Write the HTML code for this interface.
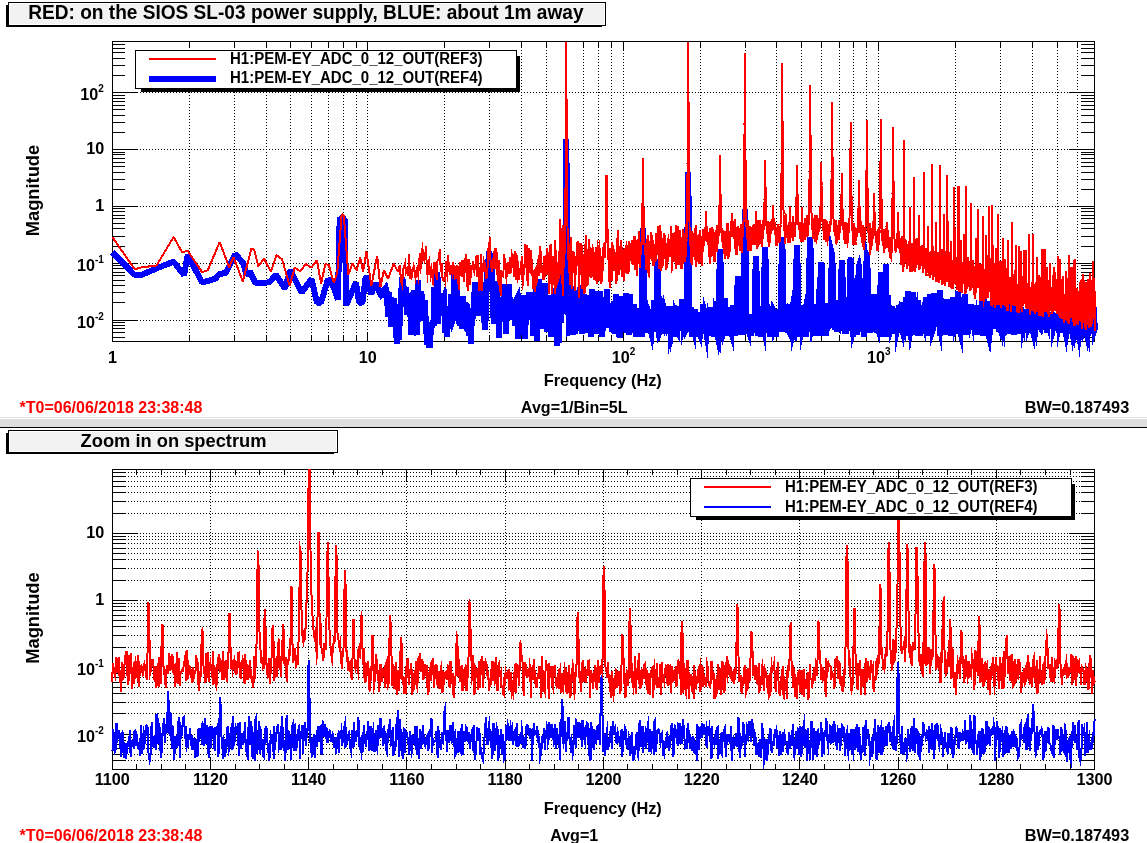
<!DOCTYPE html>
<html><head><meta charset="utf-8"><title>DTT plot</title>
<style>
html,body{margin:0;padding:0;background:#fff;width:1147px;height:843px;overflow:hidden}
svg{display:block;will-change:transform}
text{font-family:'Liberation Sans', Arial, Helvetica, sans-serif}
</style></head><body>
<svg width="1147" height="843" viewBox="0 0 1147 843">
<rect width="1147" height="843" fill="#fff"/>
<rect x="6" y="5" width="596" height="22" fill="#000"/>
<rect x="8" y="2" width="598" height="24" fill="#000"/>
<rect x="9" y="3" width="596" height="22" fill="#fff"/>
<rect x="10" y="4" width="594" height="20" fill="#f2f2f2"/>
<text transform="translate(28.20 18.90) scale(1 1.07)" font-size="19.1" text-anchor="start" fill="#000" font-weight="bold">RED: on the SIOS SL-03 power supply, BLUE: about 1m away</text>
<path d="M189.5 44V341M234.5 44V341M266.5 44V341M290.5 44V341M311.5 44V341M328.5 44V341M343.5 44V341M356.5 44V341M367.5 44V341M444.5 44V341M489.5 44V341M521.5 44V341M546.5 44V341M566.5 44V341M583.5 44V341M598.5 44V341M611.5 44V341M623.5 44V341M700.5 44V341M745.5 44V341M776.5 44V341M801.5 44V341M821.5 44V341M839.5 44V341M853.5 44V341M866.5 44V341M878.5 44V341M955.5 44V341M1000.5 44V341M1032.5 44V341M1057.5 44V341M1077.5 44V341M113 320.5H1094M113 263.5H1094M113 206.5H1094M113 149.5H1094M113 92.5H1094" stroke="#000" stroke-width="1" stroke-dasharray="1 2" fill="none" shape-rendering="crispEdges"/>
<path d="M112.5 342V332M112.5 41V51M189.5 342V336M189.5 41V47M234.5 342V336M234.5 41V47M266.5 342V336M266.5 41V47M290.5 342V336M290.5 41V47M311.5 342V336M311.5 41V47M328.5 342V336M328.5 41V47M343.5 342V336M343.5 41V47M356.5 342V336M356.5 41V47M367.5 342V332M367.5 41V51M444.5 342V336M444.5 41V47M489.5 342V336M489.5 41V47M521.5 342V336M521.5 41V47M546.5 342V336M546.5 41V47M566.5 342V336M566.5 41V47M583.5 342V336M583.5 41V47M598.5 342V336M598.5 41V47M611.5 342V336M611.5 41V47M623.5 342V332M623.5 41V51M700.5 342V336M700.5 41V47M745.5 342V336M745.5 41V47M776.5 342V336M776.5 41V47M801.5 342V336M801.5 41V47M821.5 342V336M821.5 41V47M839.5 342V336M839.5 41V47M853.5 342V336M853.5 41V47M866.5 342V336M866.5 41V47M878.5 342V332M878.5 41V51M955.5 342V336M955.5 41V47M1000.5 342V336M1000.5 41V47M1032.5 342V336M1032.5 41V47M1057.5 342V336M1057.5 41V47M1077.5 342V336M1077.5 41V47M1094.5 342V336M1094.5 41V47M112 337.5H125M1095 337.5H1081M112 332.5H125M1095 332.5H1081M112 328.5H125M1095 328.5H1081M112 325.5H125M1095 325.5H1081M112 322.5H125M1095 322.5H1081M112 320.5H138M1095 320.5H1069M112 302.5H125M1095 302.5H1081M112 292.5H125M1095 292.5H1081M112 285.5H125M1095 285.5H1081M112 280.5H125M1095 280.5H1081M112 275.5H125M1095 275.5H1081M112 272.5H125M1095 272.5H1081M112 268.5H125M1095 268.5H1081M112 265.5H125M1095 265.5H1081M112 263.5H138M1095 263.5H1069M112 246.5H125M1095 246.5H1081M112 236.5H125M1095 236.5H1081M112 228.5H125M1095 228.5H1081M112 223.5H125M1095 223.5H1081M112 218.5H125M1095 218.5H1081M112 215.5H125M1095 215.5H1081M112 211.5H125M1095 211.5H1081M112 208.5H125M1095 208.5H1081M112 206.5H138M1095 206.5H1069M112 189.5H125M1095 189.5H1081M112 179.5H125M1095 179.5H1081M112 172.5H125M1095 172.5H1081M112 166.5H125M1095 166.5H1081M112 162.5H125M1095 162.5H1081M112 158.5H125M1095 158.5H1081M112 154.5H125M1095 154.5H1081M112 152.5H125M1095 152.5H1081M112 149.5H138M1095 149.5H1069M112 132.5H125M1095 132.5H1081M112 122.5H125M1095 122.5H1081M112 115.5H125M1095 115.5H1081M112 109.5H125M1095 109.5H1081M112 105.5H125M1095 105.5H1081M112 101.5H125M1095 101.5H1081M112 98.5H125M1095 98.5H1081M112 95.5H125M1095 95.5H1081M112 92.5H138M1095 92.5H1069M112 75.5H125M1095 75.5H1081M112 65.5H125M1095 65.5H1081M112 58.5H125M1095 58.5H1081M112 52.5H125M1095 52.5H1081M112 48.5H125M1095 48.5H1081M112 44.5H125M1095 44.5H1081" stroke="#000" stroke-width="1" fill="none" shape-rendering="crispEdges"/>
<rect x="112.5" y="41.5" width="982" height="300" stroke="#000" fill="none" shape-rendering="crispEdges"/>
<path d="M112.3 252.2L134.7 275.0 141.3 275.0 156.5 268.4 173.6 261.7 184.0 275.0 187.8 255.0 202.1 282.6 215.4 278.8 219.2 274.0 225.8 273.0 235.3 254.1 242.9 262.7 246.7 275.0 250.0 271.8 255.6 283.0 262.0 283.0 269.5 282.3 275.8 274.6 284.9 288.6 290.4 270.4 301.6 292.8 311.4 278.8 317.0 302.5 321.0 302.5 328.1 278.8 333.7 287.2 337.9 299.7 339.7 218.1 344.8 219.2 346.2 305.3 356.0 282.3 359.0 302.5 362.5 302.5 365.8 276.0 371.3 294.2 375.5 283.0 381.1 295.5 383.0 298.0" stroke="#00f" stroke-width="6" fill="none" stroke-linejoin="bevel" shape-rendering="crispEdges"/>
<path d="M383.0 298.0L383.3 290.9 384.5 289.4 385.7 287.9 386.9 292.9 388.0 316.6 389.2 291.8 390.3 313.4 391.4 326.7 392.6 306.9 393.7 297.8 394.7 310.5 395.8 326.3 396.9 343.7 398.0 332.6 399.0 339.7 400.1 310.7 401.1 295.4 402.1 277.6 403.1 281.0 404.1 294.3 405.1 307.1 406.1 287.4 407.1 314.6 408.1 308.7 409.0 298.4 410.0 293.4 410.9 334.8 411.8 318.9 412.8 297.6 413.7 290.2 414.6 331.1 415.5 306.5 416.4 326.0 417.3 335.3 418.2 280.3 419.1 320.9 419.9 309.3 420.8 291.7 421.7 295.1 422.5 313.4 423.3 315.8 424.2 317.4 425.0 300.1 425.8 325.5 426.7 336.2 427.5 344.3 428.3 334.4 429.1 344.6 429.9 344.6 430.7 332.0 431.4 329.0 432.2 323.7 433.0 321.7 433.8 325.7 434.5 287.1 435.3 297.5 436.0 313.3 436.8 276.6 437.5 276.2 438.3 323.6 439.0 297.1 439.7 298.3 440.4 312.0 441.2 302.7 441.9 293.5 442.6 296.4 443.3 298.7 444.0 297.0 444.7 308.9 445.4 332.6 446.1 321.8 446.7 336.6 447.4 328.5 448.1 327.4 448.8 323.5 449.4 309.8 450.1 315.9 450.8 316.1 451.4 293.9 452.1 316.4 452.7 320.1 453.3 318.3 454.0 303.8 454.6 265.6 455.3 319.1 455.9 311.7 456.5 275.6 457.1 310.1 457.7 298.9 458.4 316.8 459.0 310.6 459.6 326.2 460.2 318.2 460.8 316.4 461.4 314.0 462.0 328.6 462.6 295.9 463.2 322.8 463.7 323.6 464.3 305.9 464.9 308.7 465.5 302.7 466.1 308.7 466.6 322.9 467.2 303.8 467.8 318.8 468.3 325.9 468.9 323.8 469.4 336.2 470.0 316.8 470.5 321.8 471.1 344.0 471.6 321.9 472.2 311.6 472.7 310.5 473.2 318.4 473.8 303.4 474.3 304.4 474.8 282.2 475.4 286.0 475.9 287.7 476.4 286.1 476.9 296.3 477.5 315.8 478.0 306.2 478.5 289.4 479.0 307.4 479.5 311.6 480.0 290.0 480.5 305.7 481.0 292.2 481.5 294.2 482.0 293.0 482.5 315.3 483.0 297.2 483.5 298.9 484.0 306.4 484.5 322.5 484.9 329.8 485.4 296.3 485.9 321.4 486.4 295.7 486.8 282.2 487.3 273.4 487.8 269.6 488.3 262.4 488.7 255.6 489.2 251.9 489.7 254.2 490.1 257.3 490.6 261.3 491.0 262.9 491.5 267.8 491.9 274.7 492.4 282.3 492.8 285.2 493.3 311.0 493.7 324.3 494.2 309.7 494.6 308.0 495.1 304.6 495.5 281.3 495.9 303.2 496.4 289.0 496.8 289.2 497.2 308.9 497.7 322.4 498.1 301.6 498.5 323.2 499.0 338.0 499.4 320.8 499.8 312.3 500.2 313.6 500.6 305.6 501.1 296.9 501.5 315.1 501.9 321.4 502.3 306.8 502.7 303.7 503.1 299.7 503.5 297.5 503.9 293.2 504.4 284.4 504.8 315.0 505.2 307.1 505.6 310.4 506.0 334.2 506.4 311.2 506.8 318.4 507.2 294.6 507.5 297.3 507.9 315.9 508.3 308.7 508.7 290.7 509.1 283.9 509.5 307.2 509.9 297.1 510.3 315.5 510.6 315.7 511.0 307.9 511.4 309.0 511.8 319.9 512.2 313.9 512.5 299.1 512.9 311.7 513.3 306.4 513.7 306.4 514.0 316.8 514.4 316.8 514.8 325.5 515.1 313.0 515.5 305.6 515.9 304.9 516.2 314.0 516.6 301.5 517.0 303.5 517.3 297.9 517.7 297.1 518.0 304.6 518.4 339.2 518.8 314.9 519.1 315.5 519.5 313.7 519.8 309.8 520.2 311.3 520.5 335.3 520.9 315.4 521.2 332.1 521.6 325.5 521.9 304.9 522.3 301.3 522.6 302.6 522.9 295.2 523.3 320.7 523.6 319.3 524.0 320.3 524.3 301.5 524.6 314.3 525.0 305.8 525.3 339.1 525.6 318.8 526.0 317.2 526.3 318.3 526.6 308.0 527.0 305.8 527.3 305.2 527.6 320.0 528.0 305.4 528.3 308.0 528.6 314.7 528.9 307.8 529.3 294.0 529.6 292.0 529.9 300.9 530.2 296.8 530.6 318.9 530.9 314.2 531.2 312.2 531.5 299.7 531.8 314.5 532.1 308.3 532.5 299.2 532.8 300.2 533.1 336.4 533.4 311.9 533.7 301.2 534.0 322.2 534.3 323.5 534.6 311.8 534.9 327.9 535.2 298.9 535.6 302.0 535.9 288.9 536.2 321.0 536.5 314.8 536.8 341.2 537.1 326.4 537.4 321.5 537.7 300.8 538.0 293.9 538.3 300.1 538.6 318.5 538.9 300.7 539.2 279.3 539.5 311.5 539.7 321.8 540.0 302.9 540.3 313.5 540.6 324.7 540.9 328.7 541.2 297.0 541.5 307.0 541.8 299.9 542.1 318.5 542.4 313.6 542.7 296.5 542.9 307.0 543.2 316.1 543.5 293.0 543.8 288.4 544.1 295.1 544.4 301.5 544.6 300.2 544.9 284.7 545.2 283.2 545.5 300.9 545.8 311.6 546.0 299.3 546.3 308.2 546.6 331.9 546.9 313.4 547.1 305.2 547.4 299.7 547.7 312.1 548.0 313.0 548.2 313.6 548.5 306.3 548.8 313.6 549.1 315.9 549.3 309.8 549.6 324.0 549.9 295.4 550.1 314.0 550.4 309.1 550.7 319.6 550.9 336.6 551.2 317.5 551.5 308.4 551.7 307.7 552.0 326.3 552.3 334.2 552.5 317.4 552.8 318.9 553.0 335.7 553.3 322.7 553.6 292.8 553.8 292.5 554.1 295.9 554.3 306.9 554.6 298.8 554.9 323.3 555.1 302.8 555.4 327.9 555.6 301.2 555.9 323.8 556.1 312.1 556.4 328.7 556.6 342.7 556.9 342.7 557.1 332.0 557.4 299.0 557.6 291.7 557.9 264.7 558.1 308.3 558.4 325.2 558.6 325.9 558.9 291.2 559.1 343.4 559.4 300.1 559.6 315.2 559.9 281.9 560.1 285.0 560.4 315.1 560.6 322.7 560.9 287.0 561.1 291.0 561.3 316.5 561.6 275.5 561.8 300.3 562.1 275.1 562.3 296.9 562.5 288.8 562.8 312.4 563.0 287.2 563.3 284.3 563.5 283.0 563.7 274.7 564.0 280.1 564.2 272.1 564.4 274.9 564.7 296.1 564.9 282.8 565.1 310.7 565.4 310.9 565.6 226.7 565.8 187.9 566.1 161.4 566.3 138.9 566.5 160.9 566.8 191.3 567.0 230.4 567.2 277.9 567.5 296.5 567.7 304.6 567.9 290.5 568.1 274.8 568.4 288.3 568.6 288.9 568.8 332.9 569.1 332.8 569.3 296.3 569.5 281.2 569.7 280.0 570.0 289.5 570.2 284.6 570.4 330.0 570.6 287.5 570.8 292.5 571.1 297.6 571.3 305.3 571.5 287.9 571.7 292.2 572.0 299.1 572.2 305.0 572.4 293.3 572.6 294.1 572.8 301.5 573.0 335.0 573.3 293.4 573.5 310.1 573.7 331.7 573.9 291.7 574.1 322.6 574.3 332.6 574.6 313.3 574.8 322.7 575.0 334.0 575.2 311.2 575.4 310.8 575.6 294.3 575.8 294.6 576.1 303.7 576.3 304.9 576.5 330.9 576.7 311.5 576.9 295.0 577.1 316.5 577.3 324.5 577.5 319.6 577.7 310.9 577.9 301.2 578.2 300.3 578.4 327.7 578.6 326.5 578.8 317.4 579.0 319.0 579.2 310.0 579.4 301.5 579.6 304.2 579.8 309.9 580.0 294.2 580.2 291.6 580.4 287.6 580.6 300.6 580.8 316.5 581.0 299.3 581.2 296.4 581.4 290.3 581.6 301.1 581.8 296.3 582.0 296.8 582.2 296.0 582.4 333.7 582.6 318.1 582.8 307.2 583.0 306.3 583.2 320.9 583.4 326.6 583.6 320.2 583.8 293.7 584.0 318.4 584.2 326.9 584.4 326.2 584.6 322.6 584.8 317.1 585.0 328.1 585.2 314.6 585.4 325.6 585.6 312.1 585.8 309.2 586.0 307.7 586.2 306.1 586.4 306.4 586.6 320.0 586.8 332.9 587.0 312.2 587.1 302.4 587.3 324.2 587.5 313.8 587.7 317.2 587.9 316.9 588.1 324.9 588.3 308.2 588.5 324.8 588.7 326.1 588.9 294.6 589.0 307.0 589.2 308.4 589.4 317.0 589.6 314.9 589.8 306.9 590.0 308.9 590.2 316.9 590.4 316.1 590.5 313.8 590.7 337.3 590.9 327.2 591.1 307.2 591.3 314.2 591.5 318.4 591.7 305.9 591.8 313.9 592.0 306.2 592.2 289.2 592.4 311.4 592.6 320.8 592.8 323.4 592.9 316.7 593.1 310.0 593.3 316.7 593.5 320.4 593.7 326.3 593.8 332.1 594.0 328.7 594.2 314.4 594.4 315.3 594.6 301.3 594.7 319.2 594.9 322.9 595.1 329.7 595.3 325.2 595.5 334.0 595.6 315.4 595.8 319.6 596.0 315.3 596.2 314.3 596.3 297.8 596.5 303.5 596.7 292.3 596.9 306.2 597.1 306.6 597.2 315.4 597.4 297.6 597.6 305.9 597.8 311.1 597.9 291.3 598.1 325.0 598.3 323.7 598.4 311.5 598.6 332.3 598.8 333.5 599.0 297.3 599.1 308.2 599.3 308.1 599.5 315.0 599.7 306.8 599.8 311.5 600.0 316.4 600.2 291.3 600.3 310.8 600.5 327.8 600.7 321.7 600.8 328.6 601.0 334.4 601.2 325.1 601.4 323.3 601.5 322.9 601.7 315.3 601.9 336.5 602.0 327.3 602.2 325.5 602.4 328.3 602.5 333.6 602.7 309.9 602.9 305.2 603.0 315.8 603.2 322.0 603.4 307.3 603.5 301.0 603.7 320.4 603.9 324.9 604.0 317.7 604.2 315.1 604.4 310.7 604.5 303.9 604.7 304.9 604.8 315.7 605.0 315.3 605.2 325.3 605.3 307.2 605.5 297.4 605.7 317.4 605.8 308.1 606.0 311.6 606.1 316.1 606.3 304.4 606.5 298.2 606.6 314.4 606.8 289.2 607.0 315.2 607.1 298.9 607.3 319.6 607.4 320.7 607.6 320.4 607.8 322.4 607.9 320.2 608.1 304.7 608.2 321.2 608.4 319.8 608.5 322.1 608.7 317.8 608.9 315.0 609.0 324.6 609.2 327.4 609.3 322.6 609.5 307.5 609.6 305.4 609.8 304.1 610.0 323.6 610.1 323.8 610.3 320.4 610.4 317.5 610.6 310.8 610.7 323.1 610.9 309.9 611.1 307.6 611.2 322.7 611.4 324.9 611.5 320.1 611.7 306.9 611.8 302.9 612.0 321.7 612.1 322.8 612.3 331.9 612.4 319.2 612.6 318.4 612.7 309.8 612.9 329.9 613.0 306.9 613.2 321.1 613.3 332.4 613.5 315.0 613.6 304.1 613.8 305.0 614.0 301.3 614.1 317.3 614.3 317.9 614.4 310.1 614.6 313.9 614.7 329.8 614.9 320.5 615.0 316.0 615.2 333.6 615.3 316.2 615.4 314.0 615.6 329.4 615.7 322.7 615.9 302.3 616.0 305.9 616.2 293.6 616.3 305.3 616.5 318.1 616.6 303.1 616.8 327.1 616.9 331.2 617.1 328.9 617.2 315.8 617.4 318.4 617.5 323.2 617.7 327.7 617.8 331.5 617.9 303.2 618.1 307.6 618.2 304.6 618.4 311.6 618.5 318.9 618.7 336.6 618.8 323.7 619.0 327.5 619.1 322.6 619.2 320.0 619.4 332.7 619.5 313.8 619.7 323.1 619.8 336.1 620.0 337.7 620.1 324.7 620.2 312.6 620.4 305.4 620.5 311.3 620.7 316.9 620.8 318.8 621.0 327.7 621.1 319.5 621.2 321.9 621.4 304.7 621.5 308.7 621.7 314.7 621.8 295.7 621.9 313.4 622.1 324.6 622.2 321.5 622.4 321.7 622.5 320.1 622.6 308.4 622.8 316.5 622.9 313.3 623.1 318.5 623.2 319.8 623.3 320.5 623.5 307.5 623.6 315.3 623.8 331.4 623.9 330.0 624.0 321.0 624.2 313.2 624.3 325.3 624.4 321.3 624.6 303.6 624.7 310.5 624.9 329.7 625.0 307.6 625.1 316.4 625.3 311.5 625.4 316.3 625.5 314.5 625.7 309.7 625.8 292.6 625.9 309.2 626.1 316.4 626.2 317.1 626.3 308.7 626.5 310.3 626.6 333.2 626.7 314.0 626.9 314.6 627.0 306.2 627.1 313.2 627.3 319.6 627.4 328.1 627.6 323.6 627.7 320.7 627.8 322.4 627.9 324.4 628.1 320.7 628.2 319.6 628.3 328.3 628.5 316.2 628.6 317.6 628.7 310.5 628.9 312.0 629.0 328.4 629.1 316.3 629.3 322.5 629.4 335.3 629.5 328.0 629.7 321.0 629.8 312.9 629.9 294.4 630.1 303.3 630.2 306.2 630.3 323.2 630.4 325.5 630.6 309.9 630.7 321.7 630.8 314.4 631.0 331.2 631.1 333.4 631.2 328.5 631.4 319.4 631.5 332.1 631.6 329.7 631.7 331.0 631.9 327.2 632.0 320.6 632.1 325.9 632.2 315.2 632.4 324.8 632.5 323.1 632.6 306.8 632.8 320.7 632.9 320.2 633.0 317.0 633.1 318.7 633.3 325.5 633.4 312.3 633.5 308.5 633.6 322.8 633.8 322.4 633.9 305.9 634.0 317.1 634.1 304.4 634.3 321.5 634.4 322.6 634.5 324.4 634.7 308.3 634.8 309.6" stroke="#00f" stroke-width="6" fill="none" stroke-linejoin="miter" stroke-miterlimit="5" shape-rendering="crispEdges"/>
<path d="M634.7 308.3L634.8 309.6 634.9 323.7 635.0 308.9 635.2 321.1 635.3 318.4 635.4 320.7 635.5 312.9 635.7 322.5 635.8 323.5 635.9 327.0 636.1 337.0 636.1 324.4 636.3 322.0 636.4 311.6 636.5 330.1 636.6 321.0 636.8 325.8 636.9 312.6 637.0 315.9 637.1 323.6 637.3 324.8 637.4 319.8 637.5 326.6 637.7 323.4 637.8 328.7 637.9 321.8 638.0 325.6 638.2 318.8 638.3 329.1 638.4 323.6 638.5 322.3 638.6 316.8 638.8 326.9 638.9 324.1 639.0 320.6 639.1 330.0 639.3 318.2 639.4 327.1 639.5 333.2 639.7 311.1 639.8 324.9 639.9 326.0 640.0 324.0 640.2 324.4 640.3 312.0 640.4 322.4 640.5 323.1 640.7 309.0 640.8 316.0 640.9 309.2 641.0 318.4 641.2 312.7 641.3 319.6 641.4 308.4 641.5 312.7 641.6 314.8 641.8 317.4 641.9 327.6 642.0 337.2 642.2 299.1 642.3 281.4 642.4 273.8 642.5 266.3 642.6 253.3 642.8 248.1 642.9 240.5 643.0 230.1 643.1 233.8 643.3 227.7 643.4 239.3 643.5 239.7 643.6 247.7 643.8 259.1 643.9 267.6 644.0 275.7 644.2 287.1 644.3 305.4 644.4 319.7 644.6 322.4 644.6 300.0 644.7 308.1 644.9 311.5 645.0 306.6 645.2 311.5 645.3 316.0 645.4 322.2 645.5 313.4 645.7 304.5 645.8 319.0 645.9 332.5 646.1 325.1 646.1 322.8 646.3 312.9 646.4 319.9 646.5 330.4 646.7 307.8 646.8 324.2 646.9 305.8 647.0 326.6 647.1 327.7 647.3 320.8 647.4 322.7 647.5 331.6 647.6 316.3 647.8 327.3 647.9 326.6 648.0 322.9 648.1 330.6 648.3 311.5 648.4 317.3 648.5 310.3 648.6 317.5 648.8 323.9 648.9 309.2 649.0 319.9 649.2 322.9 649.3 317.1 649.4 319.4 649.5 327.6 649.7 325.3 649.8 332.4 649.9 317.3 650.0 309.9 650.2 326.2 650.3 312.4 650.4 326.8 650.5 323.1 650.7 326.1 650.8 320.5 650.9 327.6 651.0 331.5 651.1 331.9 651.3 327.8 651.4 313.3 651.5 325.7 651.7 323.6 651.8 330.2 651.9 313.0 652.1 322.6 652.1 318.6 652.3 320.6 652.4 327.0 652.6 328.3 652.7 332.4 652.8 327.9 652.9 327.0 653.0 325.5 653.1 314.3 653.2 326.8 653.4 317.4 653.5 316.6 653.7 323.5 653.8 317.3 653.9 316.9 654.1 300.3 654.2 308.6 654.3 309.0 654.4 313.0 654.6 323.1 654.6 320.1 654.8 320.2 654.9 322.2 655.0 328.0 655.2 330.2 655.2 327.0 655.4 322.0 655.5 327.3 655.6 321.8 655.8 320.5 655.9 323.6 656.0 318.9 656.2 312.5 656.3 309.5 656.4 316.0 656.5 320.5 656.7 296.7 656.8 291.3 656.9 285.2 657.0 281.3 657.1 273.6 657.3 268.6 657.4 269.4 657.5 262.8 657.7 259.6 657.8 267.9 657.9 266.7 658.1 272.0 658.1 276.7 658.2 283.2 658.4 290.8 658.5 296.9 658.7 311.2 658.8 322.2 658.9 321.4 659.0 315.0 659.2 324.1 659.3 323.7 659.4 324.8 659.5 330.6 659.7 328.4 659.8 326.3 659.9 332.5 660.0 323.6 660.2 311.8 660.3 315.9 660.4 312.0 660.6 318.5 660.6 320.5 660.8 322.4 660.9 324.8 661.0 327.5 661.1 327.2 661.3 325.5 661.4 322.4 661.5 319.6 661.7 322.4 661.8 321.4 661.9 314.7 662.0 317.9 662.1 326.0 662.3 324.4 662.4 317.8 662.5 323.3 662.6 326.9 662.8 316.8 662.9 331.3 663.0 332.3 663.2 325.1 663.3 330.2 663.4 327.0 663.5 328.1 663.6 319.1 663.7 318.8 663.9 320.6 664.0 322.2 664.2 319.7 664.2 310.7 664.4 311.2 664.6 323.1 664.6 320.7 664.8 332.1 664.9 333.5 665.0 325.1 665.2 325.0 665.3 310.5 665.4 324.3 665.5 329.8 665.7 320.4 665.8 316.8 665.9 317.2 666.0 326.0 666.2 329.8 666.2 318.8 666.4 319.1 666.6 325.2 666.7 325.0 666.8 322.0 666.9 325.8 667.0 317.8 667.2 310.8 667.3 323.8 667.4 327.6 667.6 331.9 667.7 324.2 667.8 317.8 667.9 322.4 668.0 322.6 668.1 323.5 668.3 323.0 668.4 330.7 668.6 327.3 668.7 331.9 668.8 321.9 668.9 315.6 669.1 326.7 669.2 316.1 669.2 312.9 669.4 311.8 669.5 306.3 669.7 321.9 669.8 332.1 669.9 329.1 670.1 329.6 670.1 323.2 670.3 316.4 670.4 324.6 670.5 315.3 670.7 309.8 670.8 312.9 670.9 326.7 671.0 326.2 671.2 322.6 671.3 315.1 671.4 313.7 671.6 322.7 671.7 322.4 671.8 317.2 671.9 327.9 672.0 320.2 672.2 310.2 672.3 317.2 672.4 327.5 672.5 328.1 672.7 329.5 672.8 319.5 672.9 324.4 673.0 323.9 673.1 321.4 673.3 313.8 673.4 327.4 673.5 324.6 673.6 319.4 673.8 326.0 673.9 336.9 674.0 317.5 674.2 322.8 674.3 332.6 674.4 335.7 674.5 320.1 674.6 317.7 674.8 305.8 674.9 317.0 675.0 309.0 675.1 309.8 675.3 327.2 675.4 315.0 675.5 306.4 675.7 317.3 675.8 322.2 675.9 323.5 676.1 329.2 676.1 319.9 676.3 320.6 676.4 325.7 676.5 320.7 676.6 329.9 676.8 330.3 676.9 325.2 677.0 322.5 677.2 322.9 677.3 324.7 677.4 309.1 677.6 309.2 677.6 312.9 677.8 313.4 677.9 315.1 678.0 315.9 678.1 321.1 678.3 319.6 678.4 323.7 678.5 324.5 678.6 322.7 678.8 319.3 678.9 315.8 679.1 325.1 679.1 319.8 679.3 322.8 679.4 326.7 679.5 324.6 679.6 311.0 679.8 312.4 679.9 330.7 680.0 312.9 680.1 326.7 680.3 315.0 680.4 319.9 680.5 327.1 680.7 315.7 680.8 325.7 680.9 306.0 681.1 315.2 681.1 314.3 681.2 321.7 681.4 325.7 681.5 329.0 681.6 329.7 681.8 320.9 681.9 313.8 682.0 321.6 682.1 316.7 682.3 303.7 682.4 299.2 682.5 310.7 682.6 314.2 682.8 318.8 682.9 321.0 683.0 308.4 683.1 318.5 683.3 310.7 683.4 320.3 683.5 319.8 683.7 329.2 683.7 325.2 683.9 317.5 684.1 317.2 684.2 319.4 684.3 323.6 684.4 325.8 684.5 315.5 684.7 311.3 684.7 322.9 684.9 321.2 685.0 327.1 685.2 325.6 685.3 331.8 685.4 328.0 685.6 314.5 685.6 315.8 685.8 323.2 685.9 313.6 686.1 318.8 686.2 324.6 686.3 328.6 686.4 328.4 686.5 312.8 686.7 326.1 686.8 316.5 686.9 320.4 687.0 315.1 687.1 293.8 687.3 263.9 687.4 241.4 687.5 228.7 687.7 211.4 687.8 197.0 687.9 194.3 688.0 186.9 688.1 174.2 688.2 172.4 688.4 181.1 688.5 193.6 688.7 210.5 688.8 219.4 688.9 230.7 689.0 248.6 689.2 271.0 689.3 294.5 689.4 330.9 689.6 320.0 689.6 324.2 689.8 316.7 689.9 309.2 690.0 332.3 690.1 328.7 690.3 320.9 690.4 318.8 690.5 318.8 690.6 313.1 690.8 322.1 690.9 325.4 691.1 319.8 691.1 320.5 691.3 311.8 691.4 320.3 691.5 306.8 691.6 316.2 691.8 328.5 691.9 321.9 692.0 336.6 692.2 319.4 692.2 319.0 692.4 320.4 692.5 326.6 692.6 329.7 692.8 325.2 692.9 311.7 693.1 327.4 693.1 327.0 693.3 327.8 693.4 312.4 693.5 322.1 693.7 320.4 693.7 326.8 693.9 332.6 694.0 319.6 694.2 320.0 694.3 321.2 694.4 315.7 694.6 323.4 694.6 325.0 694.8 316.1 694.9 313.8 695.0 320.9 695.2 308.6 695.3 319.7 695.4 326.0 695.5 327.6 695.7 317.1 695.7 330.4 695.9 335.5 696.0 319.1 696.2 330.9 696.3 331.7 696.4 329.8 696.5 319.6 696.6 327.2 696.8 316.3 696.9 320.8 697.1 326.6 697.1 326.6 697.3 322.3 697.4 324.7 697.5 322.8 697.6 324.4 697.7 318.2 697.9 313.3 698.0 316.4 698.1 312.5 698.3 326.7 698.4 336.6 698.5 331.3 698.7 331.8 698.7 319.3 698.9 321.1 699.0 314.9 699.1 324.7 699.3 324.3 699.4 316.7 699.5 329.2 699.6 324.8 699.7 327.9 699.9 329.5 700.0 332.6 700.2 332.8 700.3 326.3 700.4 322.9 700.5 318.6 700.6 314.4 700.8 330.4 700.9 321.8 701.0 329.9 701.1 319.4 701.3 316.4 701.4 326.2 701.5 322.4 701.7 316.5 701.8 329.3 701.9 315.8 702.0 314.2 702.2 323.8 702.3 330.3 702.4 324.3 702.5 316.6 702.7 332.3 702.8 324.9 702.9 318.1 703.0 321.1 703.1 327.8 703.3 303.8 703.4 308.8 703.5 322.3 703.7 324.7 703.8 322.7 703.9 320.5 704.1 324.5 704.1 328.1 704.3 319.9 704.4 317.8 704.6 324.9 704.7 320.2 704.8 311.9 704.9 317.2 705.0 312.4 705.1 322.8 705.3 326.7 705.4 318.9 705.6 319.8 705.7 323.4 705.8 329.0 705.9 329.6 706.0 325.9 706.1 325.4 706.3 330.6 706.4 328.6 706.6 327.3 706.7 317.2 706.8 322.6 706.9 325.3 707.0 324.2 707.1 316.5 707.3 308.4 707.4 323.1 707.5 326.5 707.7 324.9 707.8 317.8 707.9 318.5 708.1 321.4 708.2 326.7 708.3 324.8 708.4 318.4 708.5 318.5 708.7 313.9 708.8 330.6 708.9 321.5 709.0 330.5 709.1 327.1 709.3 334.2 709.4 320.6 709.6 326.8 709.7 318.9 709.8 316.4 709.9 316.6 710.0 312.6 710.2 314.0 710.3 319.1 710.4 331.1 710.6 323.5 710.6 313.2 710.8 324.3 710.9 331.0 711.0 308.7 711.2 322.4 711.3 313.5 711.4 307.4 711.6 323.1 711.6 330.9 711.8 335.4 711.9 327.1 712.0 322.5 712.2 324.2 712.3 326.9 712.4 329.3 712.5 332.6 712.6 328.7 712.8 328.7 712.9 326.6 713.1 320.1 713.1 325.4 713.3 332.3 713.4 330.5 713.5 312.2 713.6 329.5 713.8 320.7 713.9 335.3 714.0 336.7 714.1 332.2 714.3 336.3 714.4 323.5 714.5 322.8 714.6 318.9 714.8 324.6 714.9 324.4 715.0 325.3 715.2 324.8 715.3 331.9 715.4 326.2 715.5 321.8 715.7 323.7 715.8 326.0 715.9 326.5 716.0 317.4 716.2 318.1 716.2 319.5 716.4 315.3 716.5 309.2 716.7 314.2 716.8 301.4 716.9 314.2 717.0 310.9 717.1 316.5 717.3 319.6 717.4 332.0 717.5 336.1 717.7 336.7 717.8 327.9 717.9 321.2 718.0 326.9 718.1 316.9 718.3 320.2 718.4 316.4 718.5 320.3 718.7 326.2 718.8 308.4 718.9 297.1 719.1 287.4 719.2 282.3 719.3 277.4 719.4 275.9 719.5 269.7 719.6 265.7 719.8 259.1 719.9 260.3 720.0 252.6 720.2 249.5 720.3 257.8 720.4 258.2 720.5 261.4 720.6 264.5 720.7 272.9 720.9 276.8 721.0 282.2 721.2 289.6 721.3 296.0 721.4 305.6 721.6 311.7 721.7 323.5 721.8 327.6 721.9 329.1 722.0 321.5 722.2 322.8 722.3 323.3 722.4 323.3 722.5 318.8 722.7 328.1 722.8 327.8 722.9 322.3 723.0 325.3 723.2 329.3 723.3 326.9 723.4 326.1 723.5 328.3 723.6 320.0 723.8 326.3 723.9 319.9 724.0 323.7 724.2 330.2 724.3 323.0 724.4 329.6 724.6 329.0 724.7 332.4 724.8 316.6 724.9 297.8 725.1 307.9 725.2 331.2 725.2 327.6 725.4 323.6 725.6 323.9 725.7 326.4 725.8 323.8 725.9 336.3 726.0 328.4 726.2 316.5 726.3 312.8 726.4 320.0 726.6 322.9 726.6 328.1 726.8 330.4 726.9 331.3 727.0 319.9 727.2 325.2 727.3 320.1 727.4 323.9 727.5 316.6 727.7 329.3 727.7 333.0 727.9 328.5 728.0 319.2 728.2 328.4 728.3 326.8 728.4 315.6 728.5 325.5 728.7 329.0 728.8 328.0 728.9 312.9 729.0 325.0 729.2 329.4 729.3 321.9 729.4 329.1 729.5 328.0 729.6 330.3 729.8 313.9 729.9 318.8 730.0 325.0 730.1 313.3 730.3 321.5 730.4 332.3 730.5 316.1 730.6 329.6 730.8 330.3 730.9 319.9 731.0 316.6 731.2 315.0 731.3 323.2 731.4 306.7 731.5 323.2 731.7 312.1 731.8 317.5 731.9 318.4 732.0 326.3 732.2 317.3 732.3 315.5 732.4 327.9 732.5 333.5 732.6 325.9 732.8 321.7 732.9 324.1 733.0 323.7 733.2 323.3 733.3 315.8 733.4 304.7 733.5 319.0 733.7 321.2 733.8 328.6 733.9 330.6 734.0 334.1 734.2 323.4 734.3 326.9 734.4 315.2 734.6 322.3 734.6 325.3 734.8 318.3 734.9 320.5 735.0 335.7 735.2 321.5 735.2 328.1 735.4 322.0 735.5 327.4 735.6 305.7 735.7 307.9 735.9 316.1 736.0 330.4 736.2 324.0 736.3 314.0 736.4 316.6 736.6 325.5 736.7 312.3 736.7 319.7 736.9 319.1 737.0 306.3 737.2 299.7 737.2 297.3 737.4 290.0 737.5 285.9 737.7 285.7 737.8 278.8 737.9 276.5 738.1 278.9 738.1 277.1 738.3 282.1 738.4 280.7 738.5 288.8 738.7 291.7 738.8 298.3 738.9 302.3 739.0 312.1 739.2 334.8 739.2 324.8 739.4 312.0 739.5 314.8 739.7 315.1 739.8 328.4 739.9 324.4 740.1 316.9 740.1 314.5 740.3 319.4 740.4 318.5 740.5 321.0 740.6 328.2 740.8 315.1 740.9 316.0 741.0 322.9 741.2 312.4 741.2 324.4 741.4 331.4 741.5 326.6 741.6 329.2 741.8 323.6 741.9 324.0 742.0 325.6 742.1 324.4 742.2 331.2 742.4 323.8 742.5 329.1 742.7 323.4 742.7 332.9 742.9 334.6 743.0 329.4 743.2 316.7 743.3 315.9 743.4 302.2 743.5 308.9 743.6 288.7 743.8 271.0 743.9 264.1 744.0 251.5 744.2 243.3 744.3 236.4 744.4 231.4 744.5 225.0 744.6 219.0 744.8 212.7 744.9 208.9 745.0 209.8 745.1 220.1 745.3 222.9 745.4 229.2 745.5 237.9 745.6 241.5 745.8 253.2 745.9 260.6 746.0 271.1 746.2 290.4 746.3 320.2 746.4 325.9 746.5 321.4 746.7 317.9 746.8 324.9 746.9 318.3 747.0 327.1 747.1 334.1 747.3 323.5 747.4 319.2 747.5 317.4 747.7 322.1 747.8 317.9 747.9 323.1 748.0 328.2 748.1 317.9 748.3 323.8 748.4 330.5 748.5 330.8 748.7 320.3 748.8 330.1 748.9 319.7 749.0 328.6 749.1 314.3 749.3 325.2 749.4 322.6 749.5 321.3 749.6 320.5 749.8 315.9 749.9 324.6 750.0 325.0 750.1 328.9 750.3 319.9 750.4 327.0 750.5 330.4 750.6 320.1 750.8 329.9 750.9 334.2 751.0 319.4 751.2 315.8 751.3 335.7 751.4 329.4 751.5 324.9 751.6 317.9 751.8 326.3 751.9 322.1 752.0 325.8 752.1 325.8 752.3 327.3 752.4 328.7 752.5 324.0 752.7 326.6 752.8 328.1 752.9 323.9 753.0 319.0 753.1 324.3 753.3 332.9 753.4 325.6 753.5 321.5 753.7 325.1 753.8 321.3 753.9 323.8 754.0 323.7 754.2 320.0 754.3 324.9 754.4 318.2 754.5 316.8 754.6 309.1 754.8 313.6 754.9 312.2 755.0 299.3 755.1 291.8 755.3 280.6 755.4 275.5 755.5 269.1 755.6 265.6 755.8 261.3 755.9 257.5 756.0 256.3 756.2 258.5 756.3 261.6 756.4 266.8 756.6 273.6 756.6 274.8 756.8 287.0 756.9 292.7 757.0 305.9 757.2 313.0 757.3 307.0 757.4 306.5 757.6 311.7 757.6 311.5 757.7 316.1 757.9 314.2 758.0 329.8 758.2 319.1 758.3 319.3 758.4 324.4 758.5 335.5 758.7 325.0 758.8 318.7 758.9 326.8 759.1 320.5 759.2 309.7 759.3 306.4 759.4 313.7 759.5 309.1 759.7 325.2 759.8 325.4 759.9 332.4 760.0 326.6 760.2 321.4 760.3 326.0 760.4 327.2 760.5 317.4 760.6 330.8 760.7 326.2 760.9 328.3 761.0 320.8 761.1 328.0 761.3 337.0 761.4 326.1 761.6 316.8 761.7 322.2 761.8 323.6 761.9 326.8 762.0 312.8 762.2 326.4 762.3 325.6 762.4 321.9 762.5 313.6 762.6 321.7 762.8 328.8 762.9 327.3 763.0 326.9 763.2 324.5 763.3 325.0 763.4 313.6 763.5 329.1 763.7 330.4 763.8 305.5 763.9 293.7 764.0 288.2 764.2 281.0 764.2 276.8 764.4 268.5 764.5 267.3 764.6 259.7 764.8 259.9 764.9 250.1 765.0 250.9 765.1 246.7 765.3 258.1 765.4 256.0 765.5 259.0 765.6 263.1 765.8 268.1 765.9 274.9 766.1 281.3 766.1 284.1 766.3 296.4 766.4 302.8 766.5 309.5 766.6 322.6 766.8 328.8 766.9 317.1 767.0 319.5 767.2 326.5 767.3 328.1 767.4 329.9 767.5 313.9 767.7 318.5 767.8 328.6 767.9 314.3 768.1 311.0 768.1 318.4 768.2 320.7 768.4 311.5 768.5 311.9 768.6 318.4 768.7 322.2 768.9 332.9 769.0 331.0 769.1 326.8 769.3 324.1 769.4 327.6 769.6 336.9 769.7 326.1 769.8 318.0 769.9 312.6 770.1 320.3 770.1 313.8 770.2 305.9 770.4 312.3 770.5 314.1 770.6 326.4 770.8 332.8 770.9 323.6 771.0 320.0 771.1 328.4 771.3 325.0 771.4 321.4 771.5 327.6 771.7 318.4 771.8 326.0 771.9 335.9 772.0 318.0 772.1 324.8 772.2 322.6 772.4 330.4 772.5 331.0 772.7 320.4 772.8 321.5 772.9 316.4 773.0 327.5 773.2 318.4 773.3 321.0 773.4 327.6 773.5 321.4 773.6 314.3 773.8 311.4 773.9 311.6 774.0 317.9 774.2 318.6 774.3 324.2 774.4 322.7 774.5 329.4 774.7 328.9 774.7 332.5 774.9 322.5 775.0 314.0 775.2 328.4 775.3 326.9 775.4 309.3 775.5 314.7 775.6 323.7 775.7 330.2 775.9 336.7 776.0 334.0 776.2 328.1 776.3 322.0 776.4 316.7 776.5 316.3 776.6 313.0 776.8 319.9 776.9 328.2 777.0 327.5 777.2 317.6 777.3 325.8 777.4 330.2 777.5 324.6 777.7 322.1 777.7 323.1 777.9 325.9 778.1 309.8 778.1 312.7 778.3 309.9 778.4 319.5 778.5 325.0 778.7 319.8 778.8 328.1 778.9 325.7 779.0 325.4 779.1 324.4 779.2 315.1 779.4 330.9 779.5 326.8 779.7 312.5 779.8 324.2 779.9 328.4 780.0 316.0 780.2 322.0 780.3 331.7 780.4 329.0 780.5 325.8 780.6 324.6 780.8 326.3 780.9 307.9 781.0 290.9 781.2 281.1 781.3 274.8 781.4 268.8 781.5 264.2 781.6 258.3 781.8 256.1 781.9 251.8 782.1 243.9 782.2 237.2 782.3 242.6 782.4 244.9 782.5 248.8 782.6 251.7 782.8 261.8 782.9 266.4 783.0 268.3 783.2 277.9 783.3 283.9 783.4 291.9 783.5 304.3 783.6 321.1 783.8 319.4 783.9 331.6 784.1 314.1 784.2 323.6 784.3 319.2 784.4 310.9 784.6 325.3 784.6 318.9 784.8 326.9 784.9 323.1 785.0 308.2 785.2 318.7 785.3 313.8 785.4 319.2 785.5 320.0 785.7 325.1 785.8 324.4 785.9 321.8 786.0 318.4 786.1 311.0 786.3 303.6 786.4 319.0 786.5 312.8 786.7 316.4 786.8 325.2 786.9 328.4 787.0 329.5 787.2 326.0 787.2 326.4 787.4 326.4 787.5 325.7 787.7 315.5 787.8 323.1 787.9 328.2 788.0 324.4 788.2 324.2 788.3 305.4 788.4 310.4 788.5 333.3 788.6 319.9 788.8 325.6 788.9 330.6 789.0 330.8 789.1 326.5 789.3 324.0 789.4 314.1 789.5 330.5 789.6 325.9 789.8 330.4 789.9 314.6 790.0 306.3 790.1 303.6 790.3 323.2 790.4 321.1 790.5 320.5 790.6 324.0 790.8 323.9 790.9 324.1 791.0 318.2 791.2 314.2 791.3 321.4 791.4 328.1 791.5 320.8 791.7 323.1 791.8 320.4 791.9 325.0 792.0 315.0 792.1 331.6 792.3 335.5 792.4 327.3 792.5 323.7 792.6 310.7 792.8 325.4 792.9 324.7 793.0 324.7 793.1 311.7 793.3 324.6 793.4 333.7 793.6 319.5 793.7 320.5 793.8 329.3 793.9 328.9 794.0 328.9 794.1 336.8 794.3 336.9 794.4 328.6 794.6 304.9 794.7 316.7 794.8 311.3 794.9 310.4 795.0 327.4 795.2 317.1 795.3 320.4 795.4 330.4 795.5 320.9 795.7 309.9 795.8 295.6 795.9 288.6 796.0 279.7 796.1 277.5 796.2 270.4 796.4 264.2 796.5 259.2 796.7 256.4 796.8 250.3 796.9 246.6 797.0 244.9 797.1 252.4 797.3 257.2 797.4 259.6 797.5 262.3 797.7 268.2 797.8 272.4 797.9 278.0 798.0 282.3 798.1 291.6 798.3 300.4 798.4 327.9 798.6 315.6 798.7 315.8 798.7 316.8 798.9 328.4 799.0 327.1 799.2 331.8 799.3 329.6 799.4 329.1 799.5 311.9 799.6 304.7 799.7 326.6 799.9 336.7 800.0 320.5 800.1 314.6 800.3 328.4 800.4 336.6 800.5 321.1 800.7 318.2 800.8 328.0 800.9 327.0 801.0 326.8 801.2 329.5 801.3 317.7 801.4 315.3 801.5 330.4 801.7 313.9 801.8 326.2 801.9 321.0 802.0 330.4 802.1 324.9 802.3 322.6 802.4 329.5 802.5 325.2 802.7 323.9 802.8 305.5 802.9 322.5 803.0 322.0 803.1 329.1 803.3 322.9 803.4 314.8 803.5 329.1 803.6 325.4 803.8 322.8 803.9 313.2 804.0 329.5 804.1 330.9 804.3 319.6 804.4 327.3 804.5 328.0 804.6 332.3 804.8 326.9 804.9 336.6 805.0 314.7 805.1 309.2 805.2 324.8 805.4 329.9 805.6 328.5 805.6 336.6 805.8 331.5 805.9 315.7 806.0 331.9 806.1 327.9 806.3 324.1 806.4 328.6 806.5 329.9 806.6 324.7 806.8 330.2 806.9 329.5 807.1 326.0 807.1 325.2 807.3 310.3 807.4 314.7 807.5 316.4 807.7 320.2 807.8 332.4 807.9 327.2 808.0 323.1 808.2 314.0 808.3 317.8 808.4 314.8 808.5 313.3 808.6 320.8 808.8 309.3 808.9 298.7 809.1 286.5 809.1 282.6 809.3 272.8 809.4 266.8 809.5 258.7 809.7 253.8 809.8 247.1 809.9 243.8 810.0 237.7 810.2 240.8 810.2 236.8 810.4 243.6 810.5 248.5 810.6 248.8 810.8 255.8 810.9 258.5 811.0 267.0 811.2 272.6 811.3 282.7 811.4 293.9 811.5 302.9 811.6 323.1 811.8 323.4 811.9 324.5 812.0 324.0 812.2 326.8 812.3 309.6 812.4 318.8 812.6 329.8 812.6 319.4 812.8 314.0 812.9 313.5 813.0 307.0 813.2 334.0 813.3 323.4 813.4 326.1 813.5 314.5 813.6 312.4 813.8 309.8 813.9 304.2 814.0 310.7 814.2 325.2 814.2 315.9 814.4 325.6 814.5 333.9 814.7 327.5 814.8 330.2 814.9 332.1 815.0 321.2 815.2 318.0 815.3 306.5 815.4 313.9 815.5 327.7 815.6 325.9 815.8 322.8 815.9 319.4 816.1 315.3 816.2 317.7 816.3 335.9 816.4 335.0 816.5 329.0 816.6 324.2 816.7 319.4 816.9 329.3 817.0 323.1 817.2 322.0 817.3 322.2 817.4 332.2 817.5 328.4 817.7 336.2 817.8 324.1 817.9 319.7 818.1 314.5 818.2 323.4 818.3 315.9 818.4 318.7 818.5 331.7 818.7 330.3 818.8 324.8 818.9 323.5 819.0 297.8 819.2 298.1 819.3 321.9 819.4 314.3 819.5 313.8 819.7 326.1 819.8 313.6 819.9 310.6 820.0 298.1 820.1 293.6 820.3 285.0 820.4 283.2 820.6 273.5 820.6 278.5 820.7 270.7 820.9 268.9 821.0 268.4 821.2 262.1 821.3 263.7 821.4 263.3 821.5 261.9 821.6 272.5 821.8 279.5 821.9 280.4 822.0 283.4 822.1 285.6 822.3 295.2 822.4 302.1 822.5 312.0 822.7 314.2 822.8 320.3 822.9 308.2 823.0 321.3 823.2 325.6 823.3 327.3 823.4 315.3 823.5 326.7 823.6 329.0 823.8 335.6 823.9 330.1 824.0 325.0 824.1 322.0 824.2 317.1 824.4 313.3 824.5 314.2 824.7 326.9 824.8 322.7 824.9 322.7 825.1 319.2 825.1 324.3 825.3 328.4 825.4 329.0 825.5 316.5 825.6 319.9 825.7 335.8 825.9 329.6 826.0 325.0 826.1 320.0 826.3 309.9 826.4 303.4 826.5 314.4 826.6 320.7 826.8 314.8 826.9 319.2 827.0 325.0 827.1 326.3 827.3 330.7 827.4 312.9 827.6 321.4 827.7 325.4 827.8 323.9 827.9 312.2 828.0 305.6 828.2 328.7 828.2 319.8 828.4 323.1 828.5 317.1 828.6 313.6 828.8 322.4 828.9 327.5 829.0 323.0 829.2 320.0 829.3 326.6 829.4 321.8 829.5 319.7 829.6 316.3 829.8 321.7 829.9 320.2 830.0 319.0 830.1 317.5 830.3 321.4 830.4 328.3 830.5 322.2 830.7 313.8 830.7 313.1 830.9 296.5 831.0 290.6 831.2 281.7 831.3 276.4 831.4 273.4 831.5 268.2 831.6 264.8 831.8 262.6 831.9 259.3 832.1 256.6 832.1 254.4 832.3 255.2 832.4 261.2 832.6 265.0 832.6 267.1 832.8 269.6 832.9 275.9 833.0 285.9 833.2 288.0 833.3 295.8 833.4 306.9 833.5 325.1 833.7 316.4 833.7 317.0 833.9 321.8 834.0 326.1 834.1 324.1 834.3 324.0 834.4 312.4 834.5 313.1 834.6 320.7 834.7 317.3 834.9 317.9 835.0 319.5 835.1 329.5 835.3 315.3 835.4 324.4 835.5 325.6 835.7 323.2 835.8 314.6 835.9 318.1 836.0 314.7 836.2 323.9 836.2 321.1 836.4 321.0 836.5 312.3 836.6 325.8 836.8 304.6 836.9 331.5 837.1 314.8 837.2 312.0 837.3 312.1 837.4 303.3 837.6 321.6 837.7 312.2 837.8 307.6 837.9 322.4 838.0 322.6 838.2 303.5 838.2 300.2 838.4 310.8 838.5 315.9 838.6 321.5 838.8 317.1 838.9 326.0 839.0 327.5 839.2 323.9 839.3 320.3 839.4 326.4 839.5 330.0 839.6 324.1 839.8 319.9 839.9 324.1 840.0 315.9 840.2 320.7 840.3 324.4 840.4 310.9 840.6 301.5 840.6 297.7 840.8 288.3 840.9 286.2 841.0 278.4 841.1 277.2 841.3 275.0 841.4 272.2 841.5 269.7 841.7 260.2 841.8 265.6 841.9 260.1 842.0 266.2 842.2 267.2 842.3 273.0 842.4 273.7 842.6 280.3 842.6 283.4 842.8 287.5 842.9 292.6 843.0 298.0 843.1 308.2 843.3 327.8 843.4 325.7 843.5 326.5 843.6 330.7 843.8 324.5 843.9 315.5 844.1 312.8 844.1 321.2 844.3 322.2 844.4 322.4 844.5 311.3 844.6 317.6 844.8 329.2 844.9 323.5 845.0 329.4 845.1 325.3 845.3 320.4 845.4 328.2 845.5 334.0 845.7 329.2 845.7 331.6 845.9 321.6 846.0 311.9 846.2 302.8 846.2 316.2 846.4 329.9 846.5 320.2 846.7 308.5 846.7 318.1 846.9 320.3 847.0 320.4 847.1 311.6 847.3 328.5 847.4 318.1 847.5 317.4 847.7 305.0 847.8 320.1 847.9 331.1 848.0 330.0 848.2 312.5 848.3 322.8 848.4 310.4 848.5 313.9 848.6 313.6 848.8 322.8 848.9 323.5 849.0 317.6 849.1 317.1 849.3 328.2 849.4 301.6 849.6 294.2 849.6 287.6 849.8 282.5 849.9 277.3 850.0 274.9 850.2 270.5 850.3 267.6 850.4 263.6 850.5 259.1 850.6 260.8 850.8 257.6 850.9 262.7 851.0 261.7 851.2 265.0 851.3 268.9 851.4 274.6 851.6 280.1 851.7 285.6 851.7 289.2 851.9 298.2 852.0 307.2 852.1 314.0 852.3 314.0 852.4 315.8 852.5 302.7 852.6 320.7 852.8 337.1 852.9 327.9 853.1 323.1 853.1 319.1 853.2 323.3 853.4 315.2 853.5 315.2 853.6 322.0 853.8 299.6 853.9 307.6 854.0 328.0 854.2 327.3 854.3 322.8 854.4 322.2 854.5 297.8 854.6 319.3 854.8 316.4 854.9 327.7 855.1 324.9 855.2 326.0 855.3 309.1 855.4 302.0 855.6 329.8 855.7 321.5 855.8 317.0 855.9 329.0 856.0 327.3 856.2 327.0 856.3 334.2 856.4 326.8 856.5 321.0 856.6 316.9 856.7 300.1 856.9 313.0 857.1 316.8 857.1 313.4 857.3 335.2 857.4 317.6 857.5 315.5 857.7 311.8 857.7 303.5 857.9 293.1 858.0 293.8 858.1 287.8 858.3 281.6 858.4 282.9 858.5 275.5 858.7 275.3 858.8 266.5 858.9 266.2 859.1 267.4 859.1 268.5 859.3 276.6 859.4 276.9 859.5 278.4 859.7 280.7 859.8 285.7 859.9 287.9 860.1 293.3 860.1 298.5 860.3 307.0 860.4 323.0 860.5 313.0 860.7 325.1 860.8 331.6 860.9 311.0 861.0 319.9 861.2 311.1 861.3 308.5 861.4 308.1 861.5 326.6 861.6 324.2 861.7 315.1 861.9 317.7 862.0 321.9 862.2 306.8 862.3 321.2 862.4 310.8 862.5 309.6 862.7 328.2 862.8 292.8 862.9 320.9 863.0 327.6 863.2 320.1 863.3 327.6 863.4 323.3 863.5 315.7 863.6 321.7 863.8 315.9 863.9 315.8 864.1 310.5 864.1 336.5 864.3 332.9 864.4 322.7 864.6 307.7 864.6 307.8 864.8 308.4 864.9 306.0 865.0 313.8 865.2 316.5 865.3 330.4 865.4 332.6 865.5 311.6 865.6 302.1 865.8 292.1 865.9 283.7 866.0 281.0 866.2 274.2 866.3 270.3 866.4 264.5 866.5 261.7 866.6 262.3 866.8 255.6 866.9 253.8 867.0 252.4 867.2 259.0 867.2 259.0 867.4 264.2 867.6 270.8 867.7 278.4 867.8 279.9 867.9 283.8 868.0 290.5 868.2 302.5 868.3 315.0 868.4 324.6 868.6 306.5 868.7 323.8 868.8 320.5 868.9 317.8 869.0 329.9 869.2 315.7 869.3 328.7 869.4 312.2 869.5 305.1 869.7 323.1 869.8 328.2 869.9 309.1 870.1 317.2 870.2 332.6 870.3 323.6 870.4 309.0 870.5 313.0 870.7 317.3 870.7 316.9 870.9 307.6 871.1 310.0 871.2 319.9 871.3 324.0 871.4 320.1 871.5 322.7 871.6 321.8 871.8 306.1 871.9 327.5 872.1 331.7 872.1 323.6 872.3 319.8 872.4 320.2 872.5 320.9 872.6 325.6 872.8 328.4 872.9 320.2 873.0 310.3 873.2 306.8 873.3 327.9 873.4 320.6 873.5 308.6 873.6 294.0 873.8 317.1 873.9 317.1 874.0 317.8 874.2 306.4 874.3 308.4 874.4 307.7 874.5 314.2 874.6 330.3 874.8 316.0 874.9 305.0 875.0 321.0 875.2 324.0 875.3 314.4 875.4 316.4 875.5 308.8 875.6 328.4 875.8 323.8 875.9 304.4 876.0 321.0 876.1 325.5 876.3 305.8 876.4 313.6 876.5 315.7 876.6 301.4 876.8 294.9 876.9 332.8 877.0 312.9 877.2 320.9 877.3 323.9 877.4 327.1 877.5 327.4 877.7 321.7 877.8 311.3 877.9 303.9 878.0 318.2 878.2 309.1 878.3 323.2 878.4 317.9 878.5 327.1 878.6 305.7 878.8 327.8 878.9 318.2 879.1 321.7 879.2 306.3 879.3 320.4 879.4 320.5 879.5 326.9 879.7 325.6 879.7 335.2 879.9 309.7 880.0 304.1 880.1 297.6 880.2 292.5 880.4 287.0 880.5 285.0 880.6 279.9 880.8 278.0 880.9 276.4 881.0 272.5 881.1 274.5 881.3 279.5 881.4 280.9 881.5 285.5 881.6 290.0 881.8 295.4 881.9 298.8 882.0 308.1 882.1 336.5 882.3 288.6 882.4 306.3 882.5 313.0 882.6 320.2 882.8 322.4 882.9 321.2 883.0 313.1 883.2 315.1 883.3 321.8 883.4 305.2 883.5 322.8 883.7 319.0 883.8 327.7 883.9 318.4 884.0 322.1 884.2 317.5 884.3 325.2 884.4 329.0 884.5 312.7 884.7 299.5 884.7 294.2 884.9 287.3 885.0 282.8 885.1 279.6 885.2 274.4 885.4 273.6 885.5 272.2 885.7 264.0 885.8 270.4 885.9 274.5 886.0 278.3 886.1 278.9 886.3 286.0 886.4 293.4 886.5 297.7 886.6 305.0 886.8 324.1 886.9 336.5 887.0 320.8 887.2 310.9 887.3 304.5 887.4 314.9 887.5 326.7 887.7 320.3 887.8 319.6 887.9 321.0 888.0 317.5 888.1 320.5 888.3 307.5 888.4 295.4 888.5 304.5 888.7 308.9 888.8 324.6 888.9 322.8 889.1 310.2 889.2 326.0 889.2 327.1 889.4 316.1 889.5 332.7 889.6 324.7 889.8 314.6 889.9 315.4 890.0 323.7 890.1 322.7 890.3 309.5 890.4 328.5 890.5 321.2 890.7 312.9 890.8 315.3 890.9 319.9 891.0 331.1 891.1 332.9 891.2 308.2 891.4 313.0 891.5 317.8 891.7 320.8 891.8 326.5 891.9 326.2 892.0 311.7 892.2 329.8 892.3 327.8 892.4 305.7 892.5 323.7 892.6 322.7 892.8 307.7 892.9 316.8 893.0 323.0 893.1 321.8 893.3 313.0 893.4 315.7 893.5 315.4 893.7 313.5 893.8 321.6 893.9 311.2 894.0 318.8 894.1 322.6 894.2 327.1 894.4 325.2 894.5 318.6 894.7 315.0 894.8 312.3 894.9 329.3 895.0 318.8 895.1 311.1 895.3 313.0 895.4 323.6 895.5 327.3 895.7 308.2 895.8 324.6 895.9 320.7 896.0 332.5 896.1 334.1 896.2 319.6 896.4 311.0 896.5 307.9 896.7 312.6 896.8 320.6 896.9 322.6 897.1 323.8 897.2 325.7 897.2 319.7 897.4 319.5 897.5 322.7 897.7 329.0 897.8 320.9 897.9 314.2 898.0 323.8 898.2 322.8 898.3 324.1 898.4 320.2 898.5 322.8 898.6 317.0 898.8 311.2 898.9 318.5 899.0 305.4 899.1 320.0 899.2 333.3 899.4 314.5 899.6 309.9 899.6 320.2 899.8 312.0 899.9 320.6 900.0 317.4 900.1 313.6 900.3 323.0 900.4 314.5 900.6 312.0 900.7 303.6 900.7 318.5 900.9 316.8 901.0 312.3 901.2 322.3 901.3 317.9 901.4 325.9 901.5 326.3 901.7 317.1 901.7 312.0 901.9 326.8 902.0 320.4 902.2 313.1 902.3 315.8 902.4 302.4 902.5 315.3 902.6 305.4 902.7 319.6 902.9 312.8 903.0 318.2 903.2 330.2 903.3 330.4 903.4 319.9 903.5 321.7 903.7 309.2 903.8 318.9 903.9 327.8 904.1 327.9 904.1 329.2 904.3 325.0 904.4 310.9 904.5 316.6 904.7 308.1 904.8 323.2 904.9 318.5 905.0 314.3 905.2 308.2 905.3 318.1 905.4 322.7 905.5 322.9 905.7 305.8 905.7 319.5 905.9 314.2 906.0 296.6 906.1 318.2 906.3 320.3 906.4 304.1 906.5 322.0 906.6 323.4 906.8 332.5 906.9 326.8 907.1 322.3 907.1 304.7 907.3 331.0 907.4 309.9 907.5 312.4 907.7 322.3 907.7 317.4 907.9 291.3 908.0 307.1 908.1 310.5 908.3 323.9 908.4 319.0 908.6 328.8 908.6 328.3 908.8 329.1 908.9 326.3 909.0 336.2 909.2 331.9 909.3 329.6 909.4 321.8 909.5 316.0 909.6 305.1 909.7 295.9 909.9 299.9 910.0 320.0 910.2 311.8 910.3 314.3 910.4 312.7 910.5 316.7 910.6 321.8 910.8 330.8 910.9 311.7 911.0 332.5 911.2 321.6 911.3 313.4 911.4 313.4 911.5 327.1 911.7 326.2 911.8 330.8 911.9 319.4 912.1 329.2 912.2 321.3 912.3 323.5 912.4 314.5 912.5 314.8 912.7 312.5 912.8 324.5 912.9 326.7 913.0 292.1 913.2 312.4 913.3 318.3 913.4 307.2 913.5 304.6 913.7 324.1 913.8 318.2 913.9 325.3 914.0 326.9 914.2 298.6 914.2 324.3 914.4 308.4 914.5 310.5 914.6 314.8 914.8 321.2 914.9 322.8 915.0 317.6 915.2 316.7 915.3 321.6 915.4 326.3 915.6 318.2 915.6 322.7 915.7 323.5 915.9 314.6 916.0 314.5 916.2 316.3 916.3 335.1 916.4 326.3 916.6 327.3 916.6 327.6 916.8 316.8 916.9 322.3 917.0 306.1 917.1 302.9 917.3 318.9 917.4 315.6 917.5 320.8 917.6 324.6 917.7 336.0 917.9 324.0 918.0 321.7 918.1 300.4 918.3 325.1 918.4 321.3 918.5 315.3 918.7 325.5 918.8 321.9 918.9 314.4 919.0 310.8 919.1 322.7 919.2 328.2 919.4 322.7 919.5 320.1 919.6 336.0 919.8 322.3 919.9 312.4 920.0 323.3 920.2 316.2 920.2 306.7 920.4 319.4 920.5 316.8 920.6 332.6 920.8 327.4 920.9 330.5 921.0 333.8 921.2 329.5 921.3 331.4 921.4 315.5 921.6 311.6 921.6 317.7 921.8 327.9 921.9 327.3 922.1 328.3 922.1 330.5 922.3 323.2 922.4 316.0 922.5 312.9 922.7 329.8 922.8 310.2 922.9 305.4 923.0 320.1 923.2 311.7 923.3 322.7 923.4 314.3 923.5 318.4 923.6 311.9 923.8 322.3 923.9 323.7 924.0 332.5 924.2 328.8 924.2 327.3 924.4 316.0 924.5 316.7 924.7 314.3 924.8 303.0 924.9 302.4 925.0 313.3 925.1 320.7 925.3 332.7 925.4 318.2 925.5 306.4 925.6 321.8 925.7 317.3 925.9 311.8 926.0 313.3 926.1 296.9 926.3 312.2 926.4 319.4 926.5 319.5 926.6 314.5 926.8 316.7 926.9 326.8 927.0 314.7 927.2 333.4 927.3 324.0 927.4 323.3 927.5 336.0 927.7 329.2 927.8 320.4 927.9 322.6 928.0 310.3 928.1 327.9 928.3 323.8 928.4 321.7 928.5 315.0 928.6 321.5 928.7 327.1 928.9 298.1 929.1 300.8 929.2 319.6 929.3 315.2 929.4 317.6 929.5 308.3 929.6 306.0 929.8 325.1 929.9 324.5 930.0 325.6 930.2 294.3 930.3 314.0 930.4 321.0 930.5 323.3 930.7 315.2 930.7 325.5 930.9 329.7 931.0 322.6 931.1 297.7 931.3 312.4 931.4 319.5 931.5 324.7 931.6 317.7 931.7 323.6 931.9 319.6 932.0 319.5 932.1 318.4 932.2 323.7 932.4 330.4 932.6 329.8 932.7 315.0 932.8 324.4 932.9 319.1 933.0 322.1 933.2 296.7 933.3 320.2 933.4 317.4 933.5 316.5 933.6 320.2 933.8 309.6 933.9 309.0 934.0 293.1 934.1 315.3 934.3 313.7 934.4 319.7 934.5 322.9 934.6 316.7 934.8 323.9 934.9 302.0 935.0 311.3 935.1 320.3 935.3 312.7 935.4 317.8 935.5 313.8 935.6 323.6 935.8 327.3 935.9 315.0 936.1 312.8 936.2 318.2 936.3 315.0 936.4 319.0 936.5 316.9 936.7 319.6 936.8 308.8 936.9 317.9 937.0 325.3 937.2 310.1 937.3 319.3 937.4 320.4 937.5 323.4 937.6 301.8 937.7 312.2 937.9 312.9 938.0 321.8 938.1 325.2 938.3 295.5 938.4 305.1 938.5 317.4 938.6 321.5 938.8 322.5 938.9 311.7 939.0 312.0 939.1 319.7 939.3 324.9 939.4 322.4 939.6 311.8 939.7 289.7 939.7 305.0 939.9 311.9 940.1 315.6 940.1 321.7 940.3 324.4 940.4 335.8 940.5 325.2 940.7 324.9 940.8 333.5 940.9 331.1 941.0 319.4 941.1 325.6 941.3 311.7 941.4 324.0 941.5 327.8 941.7 319.4 941.8 328.0 941.9 326.9 942.0 319.1 942.2 326.6 942.3 317.9 942.4 320.6 942.5 309.1 942.7 326.4 942.8 319.6 942.9 313.1 943.0 315.5 943.2 326.3 943.3 334.5 943.4 324.3 943.5 315.8 943.7 319.5 943.8 319.5 943.9 323.4 944.0 319.9 944.1 321.9 944.3 302.8 944.4 302.9 944.6 311.8 944.7 305.3 944.8 305.9 944.9 322.1 945.0 318.8 945.2 317.6 945.3 317.1 945.4 313.0 945.5 311.0 945.7 314.0 945.8 320.8 945.9 319.3 946.0 320.1 946.2 328.8 946.3 324.2 946.4 327.3 946.6 325.0 946.6 328.2 946.8 315.0 946.9 307.9 947.0 321.9 947.2 322.0 947.3 325.0 947.4 308.5 947.6 333.2 947.6 322.7 947.8 334.7 947.9 320.9 948.0 316.3 948.2 299.1 948.2 317.1 948.4 319.0 948.6 315.7 948.7 322.2 948.8 315.1 948.9 324.2 949.0 324.4 949.2 323.6 949.3 316.4 949.4 313.3 949.5 327.7 949.6 322.8 949.8 321.8 949.9 320.8 950.1 318.9 950.1 308.0 950.3 319.6 950.4 316.3 950.5 312.1 950.7 326.4 950.8 335.8 950.9 324.3 951.0 324.5 951.2 310.8 951.2 325.0 951.4 322.3 951.5 326.6 951.6 329.1 951.8 320.8 951.9 324.9 952.0 320.4 952.2 322.3 952.2 321.2 952.4 307.7 952.5 307.8 952.6 300.7 952.8 297.4 952.9 316.0 953.0 327.6 953.2 326.4 953.2 318.5 953.4 335.9 953.5 329.4 953.7 332.2 953.8 322.1 953.9 324.2 954.0 313.1 954.1 314.4 954.3 305.8 954.4 316.5 954.5 313.6 954.7 308.8 954.8 321.6 954.9 318.0 955.0 316.7 955.2 320.1 955.3 312.5 955.4 317.0 955.5 316.5 955.6 314.1 955.8 316.1 955.9 323.2 956.0 321.5 956.1 317.7 956.3 311.1 956.4 320.4 956.6 327.2 956.6 320.4 956.7 308.9 956.9 332.0 957.0 323.5 957.1 333.7 957.3 310.6 957.4 303.1 957.5 305.3 957.7 309.0 957.8 291.0 957.9 293.5 958.0 310.5 958.1 308.1 958.3 317.8 958.4 314.0 958.5 308.3 958.7 313.3 958.8 316.0 958.9 307.6 959.0 318.6 959.2 320.4 959.3 320.1 959.4 315.9 959.5 316.3 959.7 319.5 959.8 320.9 959.9 318.9 960.0 329.6 960.2 325.9 960.3 331.6 960.4 332.0 960.5 313.2 960.7 332.4 960.8 310.4 960.9 319.9 961.0 314.7 961.1 315.8 961.3 325.0 961.4 327.4 961.5 325.3 961.7 316.5 961.8 320.7 961.9 318.2 962.0 316.9 962.2 310.2 962.3 311.1 962.4 322.4 962.5 312.5 962.7 305.4 962.8 318.6 962.9 321.0 963.1 316.1 963.1 327.8 963.3 323.0 963.4 322.0 963.5 296.8 963.6 313.8 963.8 325.5 963.9 311.2 964.0 322.0 964.2 317.1 964.3 314.7 964.4 313.0 964.5 304.2 964.7 294.9 964.8 293.8 964.9 318.7 965.0 319.4 965.2 303.6 965.3 318.4 965.4 320.7 965.6 315.1 965.7 321.0 965.8 322.6 965.9 321.2 966.1 326.3 966.1 313.6 966.3 317.6 966.4 328.9 966.5 335.4 966.7 324.8 966.8 332.2 966.9 320.1 967.1 307.0 967.2 321.0 967.3 328.3 967.4 318.6 967.5 326.6 967.7 308.5 967.8 305.9 967.9 309.3 968.0 314.1 968.1 317.8 968.3 319.9 968.4 324.4 968.5 314.4 968.6 313.5 968.8 328.8 968.9 320.6 969.0 324.5 969.1 321.8 969.3 319.2 969.4 322.8 969.5 313.3 969.7 318.7 969.8 323.4 969.9 321.6 970.0 316.6 970.1 313.0 970.2 314.6 970.4 324.7 970.5 323.2 970.7 314.3 970.8 326.5 970.9 316.4 971.0 323.3 971.1 318.1 971.3 304.2 971.4 311.3 971.5 309.6 971.6 312.4 971.8 313.6 971.9 310.8 972.0 315.9 972.2 315.1 972.3 306.3 972.4 316.1 972.6 319.8 972.7 313.6 972.8 315.1 972.9 312.3 973.0 309.5 973.1 313.2 973.3 320.5 973.4 321.2 973.6 307.0 973.7 312.9 973.8 321.8 973.9 327.1 974.0 317.7 974.2 320.9 974.3 319.1 974.4 308.3 974.5 317.5 974.6 311.5 974.8 305.1 974.9 325.2 975.0 328.1 975.2 322.9 975.3 310.2 975.4 320.7 975.5 316.9 975.6 320.8 975.7 318.0 975.9 320.2 976.0 307.8 976.2 315.6 976.3 319.6 976.4 327.0 976.5 307.1 976.6 329.0 976.8 335.2 976.9 324.1 977.0 316.3 977.2 326.4 977.3 308.2 977.4 313.8 977.6 324.4 977.6 332.1 977.8 328.9 977.9 323.4 978.0 320.8 978.2 321.7 978.3 327.3 978.4 305.4 978.5 314.1 978.7 319.4 978.8 315.7 978.9 318.0 979.0 327.2 979.1 320.2 979.3 316.9 979.4 327.7 979.6 321.6 979.6 316.4 979.8 306.5 979.9 313.6 980.1 304.8 980.2 311.0 980.2 320.4 980.4 314.8 980.5 316.4 980.6 321.9 980.7 326.7 980.9 333.6 981.0 332.7 981.2 328.0 981.3 325.3 981.4 321.3 981.5 314.8 981.7 295.4 981.8 315.1 981.9 311.7 982.0 325.2 982.1 310.1 982.3 301.2 982.4 309.1 982.5 323.9 982.7 318.3 982.8 315.4 982.9 325.0 983.1 319.6 983.1 321.9 983.3 317.4 983.4 317.8 983.5 335.5 983.7 313.2 983.8 327.7 983.9 305.2 984.0 299.0 984.2 320.7 984.3 318.2 984.4 318.8 984.5 324.6 984.7 316.9 984.8 304.3 984.9 315.6 985.0 311.5 985.2 327.7 985.3 323.1 985.4 324.0 985.5 309.3 985.6 316.9 985.8 320.1 985.9 323.6 986.0 311.0 986.1 320.7 986.3 327.0 986.4 319.5 986.5 315.2 986.7 321.6 986.8 326.4 986.9 319.5 987.0 325.6 987.1 332.9 987.3 326.6 987.4 320.8 987.6 325.2 987.6 330.9 987.8 331.7 987.9 324.5 988.0 325.9 988.2 317.0 988.3 319.3 988.4 315.7 988.5 313.3 988.6 317.1 988.8 314.3 988.9 317.6 989.1 318.5 989.2 309.4 989.3 311.4 989.4 320.7 989.5 316.2 989.6 329.9 989.8 335.0 989.9 329.7 990.0 324.2 990.1 323.0 990.3 308.8 990.4 312.4 990.5 300.8 990.7 316.9 990.8 324.1 990.9 321.5 991.0 318.3 991.1 313.1 991.3 319.9 991.4 309.6 991.5 323.0 991.6 309.8 991.8 302.8 991.9 310.6 992.1 317.7 992.2 312.5 992.3 314.6 992.4 319.1 992.5 312.2 992.7 322.5 992.8 317.9 992.9 321.5 993.1 313.8 993.1 302.7 993.3 317.3 993.4 323.4 993.5 313.5 993.7 315.4 993.8 306.2 993.9 301.5 994.0 322.3 994.1 328.8 994.3 316.8 994.4 329.3 994.5 317.1 994.7 321.0 994.7 318.8 994.9 318.6 995.0 297.3 995.2 322.4 995.2 311.9 995.4 314.4 995.5 323.8 995.6 309.5 995.8 314.3 995.9 315.4 996.0 315.2 996.1 307.2 996.3 317.2 996.4 307.2 996.5 313.5 996.6 327.0 996.8 320.6 996.9 307.8 997.0 315.5 997.2 306.1 997.3 307.3 997.4 315.3 997.5 310.3 997.7 313.3 997.8 292.7 997.9 308.6 998.0 321.9 998.2 303.3 998.3 311.4 998.4 323.6 998.5 322.0 998.7 319.6 998.8 319.8 998.9 321.0 999.0 325.6 999.2 332.4 999.3 324.8 999.4 318.0 999.5 326.4 999.6 326.7 999.8 324.3 999.9 322.6 1000.0 316.8 1000.2 307.5 1000.3 322.3 1000.4 312.1 1000.5 306.9 1000.6 307.8 1000.8 316.8 1000.9 323.6 1001.0 322.8 1001.1 330.6 1001.3 302.4 1001.4 324.7 1001.5 319.4 1001.6 325.4 1001.8 301.4 1001.9 312.3 1002.0 334.7 1002.1 320.5 1002.2 329.7 1002.4 322.8 1002.6 323.6 1002.7 311.1 1002.8 316.2 1002.9 331.4 1003.0 331.3 1003.1 320.3 1003.3 321.5 1003.4 319.7 1003.5 325.4 1003.6 328.5 1003.8 325.3 1003.9 320.7 1004.0 322.8 1004.1 322.3 1004.3 321.3 1004.4 320.2 1004.5 309.4 1004.6 312.1 1004.8 312.0 1004.9 321.3 1005.0 319.9 1005.2 322.9 1005.3 321.4 1005.4 310.9 1005.5 317.5 1005.7 317.3 1005.8 323.5 1005.9 317.3 1006.0 323.9 1006.1 313.3 1006.3 321.5 1006.4 320.4 1006.5 316.0 1006.6 307.3 1006.8 301.8 1006.9 328.3 1007.1 313.0 1007.2 323.6 1007.3 316.0 1007.4 320.4 1007.5 322.6 1007.7 317.1 1007.7 321.9 1007.9 311.6 1008.1 322.6 1008.1 327.6 1008.3 317.3 1008.4 319.7 1008.5 321.1 1008.6 320.8 1008.8 320.6 1008.9 316.3 1009.0 319.0 1009.2 313.4 1009.3 311.9 1009.4 320.8 1009.5 314.8 1009.6 313.2 1009.8 312.3 1009.9 322.4 1010.1 311.0 1010.2 325.2 1010.3 333.9 1010.4 323.4 1010.5 323.2 1010.6 331.1 1010.8 320.2 1010.9 315.4 1011.0 322.9 1011.1 320.8 1011.2 334.3 1011.4 316.1 1011.6 305.5 1011.6 316.5 1011.8 316.7 1011.9 308.6 1012.1 322.1 1012.2 321.2 1012.3 334.0 1012.4 312.6 1012.6 307.5 1012.6 315.1 1012.7 314.9 1012.9 327.7 1013.0 323.5 1013.2 327.6 1013.3 315.4 1013.4 320.8 1013.5 323.6 1013.7 323.9 1013.8 322.7 1013.9 320.5 1014.0 334.5 1014.2 326.9 1014.3 323.8 1014.4 318.2 1014.5 319.8 1014.7 323.0 1014.8 313.5 1014.9 328.1 1015.0 323.0 1015.2 329.2 1015.3 315.3 1015.4 324.4 1015.5 312.2 1015.7 321.7 1015.8 327.3 1015.9 334.0 1016.0 315.5 1016.1 324.9 1016.3 331.1 1016.4 317.7 1016.5 310.3 1016.7 311.1 1016.8 319.6 1016.9 313.9 1017.0 309.6 1017.1 322.7 1017.3 323.1 1017.4 318.7 1017.5 321.6 1017.6 308.7 1017.7 312.8 1017.9 319.4 1018.0 322.0 1018.2 314.2 1018.2 321.9 1018.4 307.6 1018.5 312.9 1018.6 311.8 1018.8 326.1 1018.9 333.8 1019.0 327.0 1019.1 309.8 1019.2 305.5 1019.4 321.3 1019.6 331.0 1019.6 321.0 1019.7 322.6 1019.9 312.3 1020.0 308.3 1020.1 323.2 1020.3 330.5 1020.4 325.5 1020.6 323.0 1020.7 321.7 1020.8 318.1 1020.9 317.3 1021.0 327.1 1021.1 324.8 1021.3 323.4 1021.4 322.5 1021.5 314.6 1021.7 315.3 1021.7 320.7 1021.9 316.7 1022.0 309.4 1022.1 321.3 1022.3 322.0 1022.4 315.6 1022.5 317.3 1022.7 323.5 1022.8 321.5 1022.9 324.1 1023.0 322.7 1023.1 324.5 1023.3 323.5 1023.4 324.1 1023.5 326.7 1023.7 327.8 1023.8 331.8 1023.9 333.1 1024.0 323.0 1024.1 308.7 1024.3 316.4 1024.4 326.2 1024.5 322.8 1024.7 317.3 1024.8 309.2 1024.9 313.8 1025.0 320.8 1025.2 324.3 1025.3 318.7 1025.4 311.4 1025.5 324.7 1025.6 310.2 1025.7 328.0 1025.9 323.6 1026.0 319.2 1026.1 314.7 1026.2 319.6 1026.4 314.4 1026.5 321.3 1026.6 317.2 1026.8 322.9 1026.9 316.0 1027.0 311.5 1027.1 309.1 1027.3 325.2 1027.4 322.4 1027.5 320.9 1027.6 329.8 1027.8 318.5 1027.9 324.0 1028.0 323.9 1028.2 323.7 1028.3 326.3 1028.4 326.0 1028.5 332.3 1028.7 321.1 1028.8 312.5 1028.9 320.8 1029.0 315.7 1029.1 325.0 1029.2 320.7 1029.4 326.6 1029.5 333.3 1029.7 325.6 1029.7 322.0 1029.9 319.4 1030.0 321.9 1030.2 316.9 1030.3 324.1 1030.4 327.8 1030.5 317.3 1030.7 332.5 1030.7 322.6 1030.9 322.9 1031.0 323.3 1031.1 317.2 1031.2 330.0 1031.4 310.8 1031.5 314.9 1031.7 310.2 1031.7 318.5 1031.9 326.5 1032.1 327.3 1032.2 315.3 1032.3 317.6 1032.4 317.8 1032.5 317.9 1032.7 311.5 1032.8 320.5 1032.9 305.9 1033.0 328.6 1033.1 323.7 1033.3 319.1 1033.4 316.0 1033.6 326.6 1033.6 320.8 1033.8 327.1 1033.9 317.1 1034.1 318.4 1034.2 317.0 1034.3 321.1 1034.4 325.7 1034.5 315.1 1034.7 325.5 1034.8 318.4 1034.9 321.8 1035.0 312.0 1035.2 316.2 1035.3 316.9 1035.4 320.2 1035.5 329.1 1035.6 327.2 1035.8 324.0 1035.9 324.6 1036.0 323.7 1036.1 319.7 1036.3 321.6 1036.4 329.9 1036.5 327.0 1036.6 324.7 1036.8 330.0 1036.9 319.5 1037.0 318.1 1037.2 312.4 1037.3 320.7 1037.4 320.9 1037.5 312.4 1037.7 315.3 1037.8 317.4 1037.9 316.4 1038.0 329.5 1038.1 325.8 1038.3 323.0 1038.4 325.8 1038.5 327.1 1038.6 313.8 1038.8 313.3 1038.9 318.0 1039.0 305.5 1039.1 317.2 1039.3 317.4 1039.4 315.5 1039.5 319.2 1039.7 324.6 1039.8 324.8 1039.9 321.4 1040.0 321.1 1040.2 324.5 1040.3 318.1 1040.4 322.8 1040.5 317.7 1040.6 319.0 1040.8 323.2 1040.9 321.0 1041.0 312.7 1041.2 317.9 1041.3 312.4 1041.4 314.3 1041.5 315.9 1041.6 319.5 1041.8 316.3 1041.9 326.9 1042.0 324.1 1042.2 324.2 1042.3 322.3 1042.4 323.3 1042.5 316.6 1042.6 316.8 1042.8 325.2 1042.9 326.8 1043.0 324.1 1043.2 330.3 1043.3 317.3 1043.4 312.2 1043.5 312.4 1043.6 321.6 1043.8 310.1 1043.9 320.7 1044.0 316.8 1044.2 323.6 1044.3 326.5 1044.4 323.0 1044.5 315.2 1044.6 313.6 1044.8 325.0 1044.9 325.9 1045.0 321.5 1045.1 321.7 1045.3 329.7 1045.4 325.5 1045.5 329.4 1045.7 321.8 1045.8 318.8 1045.9 318.0 1046.0 319.2 1046.1 326.7 1046.3 317.3 1046.4 325.9 1046.5 318.8 1046.7 323.6 1046.8 317.3 1046.9 319.0 1047.0 332.6 1047.1 321.8 1047.3 322.4 1047.4 320.3 1047.5 311.1 1047.6 321.7 1047.8 318.8 1047.9 313.7 1048.0 316.2 1048.1 324.4 1048.3 312.0 1048.4 324.1 1048.5 312.3 1048.7 321.5 1048.8 316.4 1048.9 312.6 1049.0 327.9 1049.2 323.9 1049.3 323.7 1049.4 316.5 1049.5 325.7 1049.7 326.9 1049.7 323.7 1049.9 319.4 1050.0 324.2 1050.1 318.8 1050.3 324.5 1050.4 325.9 1050.5 327.3 1050.7 312.7 1050.8 320.4 1050.9 319.6 1051.0 317.6 1051.2 324.2 1051.3 319.2 1051.4 320.5 1051.5 323.3 1051.6 321.2 1051.8 328.1 1051.9 325.6 1052.0 327.5 1052.2 317.2 1052.3 323.8 1052.4 322.7 1052.5 327.9 1052.6 322.9 1052.8 324.4 1052.9 318.9 1053.0 318.6 1053.1 316.3 1053.3 328.5 1053.4 321.3 1053.5 321.8 1053.6 321.1 1053.8 320.8 1053.9 324.9 1054.0 324.5 1054.1 322.3 1054.3 322.7 1054.4 328.2 1054.5 320.8 1054.7 315.5 1054.8 317.4 1054.9 323.5 1055.0 326.7 1055.1 320.0 1055.3 323.0 1055.4 319.4 1055.5 323.6 1055.7 319.5 1055.7 323.3 1055.9 322.1 1056.0 313.9 1056.1 317.9 1056.3 318.0 1056.4 330.5 1056.5 322.3 1056.7 325.4 1056.8 317.3 1056.9 330.9 1057.1 329.4 1057.1 323.3 1057.3 317.5 1057.4 319.0 1057.5 315.9 1057.7 323.6 1057.8 312.8 1057.9 321.0 1058.0 330.2 1058.2 327.7 1058.3 330.9 1058.4 326.2 1058.5 323.2 1058.6 321.5 1058.8 319.8 1058.9 329.9 1059.0 321.9 1059.2 318.4 1059.3 323.1 1059.4 322.6 1059.5 326.9 1059.7 328.2 1059.8 332.9 1059.9 312.9 1060.0 321.3 1060.2 321.5 1060.3 320.3 1060.4 322.9 1060.6 323.3 1060.7 324.4 1060.8 324.3 1060.9 329.1 1061.0 332.9 1061.1 323.1 1061.3 323.2 1061.4 325.2 1061.5 323.3 1061.7 319.5 1061.8 323.0 1061.9 316.2 1062.0 323.7 1062.1 317.7 1062.3 317.8 1062.4 320.8 1062.5 330.0 1062.7 331.6 1062.8 328.1 1062.9 330.5 1063.1 328.1 1063.1 321.6 1063.3 322.5 1063.4 322.7 1063.5 320.6 1063.6 325.2 1063.7 322.0 1063.9 320.0 1064.0 321.6 1064.1 322.8 1064.3 317.8 1064.4 326.0 1064.5 326.5 1064.6 316.8 1064.8 319.0 1064.9 330.7 1065.1 320.3 1065.2 323.6 1065.2 327.5 1065.4 318.3 1065.5 327.0 1065.6 324.7 1065.8 325.2 1065.9 323.3 1066.0 327.7 1066.1 329.6 1066.3 332.0 1066.4 325.2 1066.5 322.7 1066.7 325.7 1066.8 322.2 1066.9 324.7 1067.0 319.6 1067.2 319.4 1067.3 323.2 1067.4 323.8 1067.5 317.2 1067.6 315.0 1067.8 324.6 1067.9 323.4 1068.0 325.3 1068.2 324.2 1068.3 314.3 1068.4 321.5 1068.5 333.2 1068.6 327.5 1068.7 320.9 1068.9 317.6 1069.0 323.2 1069.1 328.8 1069.3 320.1 1069.4 328.2 1069.5 330.7 1069.7 325.8 1069.7 332.7 1069.9 324.7 1070.1 321.4 1070.1 323.4 1070.3 327.5 1070.4 324.3 1070.5 323.1 1070.6 327.2 1070.7 320.5 1070.9 321.1 1071.1 330.5 1071.1 324.6 1071.3 325.8 1071.4 323.6 1071.5 325.6 1071.6 324.0 1071.8 323.3 1071.9 318.8 1072.0 325.1 1072.1 328.2 1072.3 325.1 1072.4 326.3 1072.5 327.1 1072.7 325.2 1072.8 328.3 1072.9 324.3 1073.0 326.6 1073.1 324.4 1073.3 318.4 1073.4 314.9 1073.5 319.7 1073.7 316.1 1073.8 320.7 1073.9 324.5 1074.1 320.9 1074.1 319.6 1074.3 329.8 1074.4 326.4 1074.5 324.7 1074.6 325.0 1074.8 321.1 1074.9 315.9 1075.0 325.9 1075.2 316.6 1075.3 320.4 1075.4 324.3 1075.5 326.0 1075.7 324.9 1075.8 316.7 1075.9 323.2 1076.0 327.3 1076.1 322.2 1076.3 323.0 1076.4 328.1 1076.5 323.5 1076.6 325.4 1076.8 322.6 1076.9 325.6 1077.1 328.3 1077.2 325.2 1077.3 320.0 1077.4 321.5 1077.5 323.4 1077.6 323.5 1077.8 323.4 1077.9 328.1 1078.0 326.2 1078.2 327.3 1078.2 328.4 1078.4 329.7 1078.5 327.7 1078.6 326.3 1078.8 326.6 1078.9 328.6 1079.0 326.4 1079.1 320.3 1079.3 329.3 1079.4 325.9 1079.5 328.7 1079.6 320.8 1079.8 325.0 1079.9 319.6 1080.0 324.7 1080.1 327.4 1080.3 326.0 1080.4 322.6 1080.5 330.5 1080.7 328.3 1080.8 321.1 1080.9 321.1 1081.1 331.0 1081.1 322.5 1081.3 318.0 1081.4 330.0 1081.5 327.5 1081.7 333.6 1081.7 326.5 1081.9 327.4 1082.0 328.6 1082.1 327.6 1082.3 323.7 1082.4 328.8 1082.6 329.8 1082.7 329.4 1082.8 325.4 1082.9 324.2 1083.0 321.1 1083.1 322.0 1083.2 323.4 1083.4 329.5 1083.5 327.9 1083.6 327.8 1083.7 331.0 1083.9 324.3 1084.0 332.8 1084.2 329.7 1084.3 333.9 1084.4 332.8 1084.5 326.5 1084.7 327.0 1084.8 321.1 1084.9 323.4 1085.0 329.7 1085.1 329.5 1085.3 324.4 1085.4 327.8 1085.5 326.0 1085.6 324.2 1085.7 326.3 1085.9 327.3 1086.0 323.6 1086.1 327.8 1086.2 325.8 1086.4 325.5 1086.5 319.5 1086.6 325.7 1086.8 330.5 1086.9 329.7 1087.0 325.2 1087.1 329.1 1087.3 322.4 1087.4 328.8 1087.6 329.7 1087.7 322.3 1087.8 328.4 1087.9 326.3 1088.0 324.1 1088.2 327.9 1088.3 326.6 1088.4 320.0 1088.5 323.6 1088.6 326.8 1088.8 324.9 1088.9 328.4 1089.0 329.8 1089.2 329.6 1089.2 322.7 1089.4 326.9 1089.5 326.1 1089.6 324.7 1089.8 326.1 1089.9 328.5 1090.0 331.7 1090.2 329.4 1090.2 330.7 1090.4 323.8 1090.5 326.3 1090.6 321.1 1090.8 323.4 1090.9 330.4 1091.0 327.6 1091.2 323.2 1091.3 324.8 1091.4 326.7 1091.5 327.2 1091.6 329.5 1091.8 323.0 1091.9 328.1 1092.1 326.5 1092.2 328.1 1092.3 326.1 1092.4 330.3 1092.5 325.0 1092.6 327.1 1092.8 328.4 1092.9 328.7 1093.1 327.3 1093.1 322.7 1093.3 324.3 1093.4 321.3 1093.5 323.9 1093.7 329.5 1093.8 328.7 1093.9 328.7 1094.1 332.1 1094.1 328.3 1094.3 327.0 1094.4 329.5 1094.5 329.2 1094.7 328.7 1094.8 325.8 1094.9 325.7 1095.0 325.7 1095.1 327.6 1095.3 329.0 1095.4 329.5" stroke="#00f" stroke-width="6" fill="none" stroke-linejoin="miter" stroke-miterlimit="10.43" shape-rendering="crispEdges"/>
<path d="M112.3 237.0L134.7 269.3 141.3 267.4 156.5 265.5 173.6 237.0 182.1 252.2 187.8 250.9 202.1 272.1 207.8 270.2 219.7 242.1 229.2 267.4 233.4 257.0 242.9 281.6 251.4 248.4 254.2 249.5 258.4 266.3 264.0 258.6 270.9 271.8 276.5 255.1 282.1 259.3 289.7 285.8 294.6 267.7 300.2 271.1 305.8 264.2 311.4 267.7 316.9 260.0 321.1 283.7 325.3 264.2 328.8 264.9 333.7 283.0 337.2 273.2 341.7 214.1 343.8 216.1 348.3 274.6 352.5 263.5 356.7 270.4 360.2 257.2 363.0 271.8 366.5 251.6 371.3 285.8 377.2 255.8 380.4 287.2 383.9 270.4 388.1 278.8 393.7 263.5 397.8 271.8 400.0 265.0" stroke="#f00" stroke-width="2" fill="none" stroke-linejoin="bevel" shape-rendering="crispEdges"/>
<path d="M400.0 265.0L400.1 269.3 401.1 281.9 402.1 285.0 403.1 269.8 404.1 266.5 405.1 263.2 406.1 272.3 407.1 269.6 408.1 276.2 409.0 254.3 410.0 278.5 410.9 271.4 411.8 276.2 412.8 270.2 413.7 265.9 414.6 272.2 415.5 277.8 416.4 270.2 417.3 268.0 418.2 275.0 419.1 263.0 419.9 252.8 420.8 267.0 421.7 262.1 422.5 248.7 423.3 254.3 424.2 259.5 425.0 254.6 425.8 250.1 426.7 262.7 427.5 275.1 428.3 269.0 429.1 262.1 429.9 270.2 430.7 276.0 431.4 268.7 432.2 273.9 433.0 280.4 433.8 271.1 434.5 262.2 435.3 269.8 436.0 271.6 436.8 280.1 437.5 261.0 438.3 260.1 439.0 258.2 439.7 249.2 440.4 263.2 441.2 271.9 441.9 263.2 442.6 279.7 443.3 280.3 444.0 278.7 444.7 276.1 445.4 280.3 446.1 260.7 446.7 271.7 447.4 275.5 448.1 255.0 448.8 267.3 449.4 266.1 450.1 275.2 450.8 267.1 451.4 268.1 452.1 271.8 452.7 261.9 453.3 272.0 454.0 269.0 454.6 273.5 455.3 265.7 455.9 277.8 456.5 277.5 457.1 270.2 457.7 275.1 458.4 282.7 459.0 290.2 459.6 261.7 460.2 274.5 460.8 275.0 461.4 270.1 462.0 259.8 462.6 277.2 463.2 260.0 463.7 270.9 464.3 281.5 464.9 258.3 465.5 262.2 466.1 254.2 466.6 265.8 467.2 281.7 467.8 291.4 468.3 260.2 468.9 260.2 469.4 272.2 470.0 284.5 470.5 278.0 471.1 264.8 471.6 270.0 472.2 268.8 472.7 266.7 473.2 260.9 473.8 269.4 474.3 271.6 474.8 268.6 475.4 266.4 475.9 255.6 476.4 259.3 476.9 276.5 477.5 269.4 478.0 255.2 478.5 276.2 479.0 276.0 479.5 290.8 480.0 276.7 480.5 266.9 481.0 254.1 481.5 275.7 482.0 291.3 482.5 269.8 483.0 262.7 483.5 271.9 484.0 261.6 484.5 263.3 484.9 263.1 485.4 268.2 485.9 278.5 486.4 271.9 486.8 278.1 487.3 267.6 487.8 267.3 488.3 248.8 488.7 247.6 489.2 249.8 489.7 237.0 490.1 252.5 490.6 261.0 491.0 265.6 491.5 267.6 491.9 268.0 492.4 271.9 492.8 262.7 493.3 259.1 493.7 260.2 494.2 254.4 494.6 258.0 495.1 263.6 495.5 268.9 495.9 265.0 496.4 248.4 496.8 260.4 497.2 267.5 497.7 278.3 498.1 277.2 498.5 265.0 499.0 259.9 499.4 284.7 499.8 281.2 500.2 290.5 500.6 292.0 501.1 270.0 501.5 272.5 501.9 274.1 502.3 275.6 502.7 276.0 503.1 272.8 503.5 271.4 503.9 254.4 504.4 261.6 504.8 258.4 505.2 265.9 505.6 262.6 506.0 272.2 506.4 277.6 506.8 274.4 507.2 273.4 507.5 270.8 507.9 264.5 508.3 265.1 508.7 262.1 509.1 269.8 509.5 268.8 509.9 274.1 510.3 256.8 510.6 273.0 511.0 262.1 511.4 258.6 511.8 262.7 512.2 260.5 512.5 268.3 512.9 262.3 513.3 255.2 513.7 255.0 514.0 276.7 514.4 271.5 514.8 257.4 515.1 264.4 515.5 250.9 515.9 280.2 516.2 256.8 516.6 268.9 517.0 273.9 517.3 255.3 517.7 266.6 518.0 277.7 518.4 276.2 518.8 273.5 519.1 279.7 519.5 273.7 519.8 273.5 520.2 268.6 520.5 274.7 520.9 260.6 521.2 273.5 521.6 264.7 521.9 255.6 522.3 267.3 522.6 285.2 522.9 283.9 523.3 268.1 523.6 275.2 524.0 265.7 524.3 265.8 524.6 268.0 525.0 244.0 525.3 261.4 525.6 254.9 526.0 256.0 526.3 248.4 526.6 245.3 527.0 250.1 527.3 270.1 527.6 286.0 528.0 273.8 528.3 281.3 528.6 269.7 528.9 248.5 529.3 262.5 529.6 270.5 529.9 264.1 530.2 269.6 530.6 274.3 530.9 260.9 531.2 249.8 531.5 259.0 531.8 262.4 532.1 262.0 532.5 276.1 532.8 288.9 533.1 270.5 533.4 276.0 533.7 280.5 534.0 279.6 534.3 282.9 534.6 268.7 534.9 275.8 535.2 292.1 535.6 284.7 535.9 266.8 536.2 273.7 536.5 283.2 536.8 276.8 537.1 264.6 537.4 283.0 537.7 259.5 538.0 269.9 538.3 268.0 538.6 255.0 538.9 276.0 539.2 274.1 539.5 257.3 539.7 270.2 540.0 263.7 540.3 245.9 540.6 252.5 540.9 264.8 541.2 273.2 541.5 271.1 541.8 269.0 542.1 272.9 542.4 266.8 542.7 279.9 542.9 273.2 543.2 272.4 543.5 274.9 543.8 258.5 544.1 256.5 544.4 280.0 544.6 275.3 544.9 266.8 545.2 270.7 545.5 263.0 545.8 268.5 546.0 260.2 546.3 267.4 546.6 249.8 546.9 275.4 547.1 264.0 547.4 248.2 547.7 257.5 548.0 259.2 548.2 265.5 548.5 253.2 548.8 266.1 549.1 294.1 549.3 266.0 549.6 269.9 549.9 263.8 550.1 267.4 550.4 245.5 550.7 245.4 550.9 264.0 551.2 264.7 551.5 284.3 551.7 264.0 552.0 267.0 552.3 294.1 552.5 268.6 552.8 255.8 553.0 261.6 553.3 263.5 553.6 274.6 553.8 270.0 554.1 257.7 554.3 265.1 554.6 294.1 554.9 291.1 555.1 240.1 555.4 254.2 555.6 249.9 555.9 266.9 556.1 262.9 556.4 287.6 556.6 283.8 556.9 281.9 557.1 272.2 557.4 265.8 557.6 268.3 557.9 281.6 558.1 276.3 558.4 262.5 558.6 279.4 558.9 270.7 559.1 263.8 559.4 251.7 559.6 250.3 559.9 248.8 560.1 218.9 560.4 259.8 560.6 268.4 560.9 260.1 561.1 275.3 561.3 271.8 561.6 269.5 561.8 228.4 562.1 245.2 562.3 262.0 562.5 284.4 562.8 295.9 563.0 293.7 563.3 253.4 563.5 225.1 563.7 254.7 564.0 257.2 564.2 258.6 564.4 255.9 564.7 250.2 564.9 238.6 565.1 225.7 565.4 204.8 565.6 176.8 565.8 140.6 566.1 95.2 566.3 42.0 566.5 98.8 566.8 143.2 567.0 178.5 567.2 205.8 567.5 226.1 567.7 240.5 567.9 250.0 568.1 255.6 568.4 258.5 568.6 257.1 568.8 249.6 569.1 258.9 569.3 264.7 569.5 272.7 569.7 247.9 570.0 249.0 570.2 256.2 570.4 285.4 570.6 237.1 570.8 259.2 571.1 253.8 571.3 265.5 571.5 256.5 571.7 265.5 572.0 288.5 572.2 277.0 572.4 274.2 572.6 272.3 572.8 255.1 573.0 267.8 573.3 260.9 573.5 251.1 573.7 257.7 573.9 257.6 574.1 272.2 574.3 264.9 574.6 256.1 574.8 282.9 575.0 285.2 575.2 290.6 575.4 281.8 575.6 267.2 575.8 258.2 576.1 257.2 576.3 275.1 576.5 268.4 576.7 245.4 576.9 255.7 577.1 242.4 577.3 257.2 577.5 245.6 577.7 240.9 577.9 256.1 578.2 259.0 578.4 240.9 578.6 264.2 578.8 297.6 579.0 253.6 579.2 287.3 579.4 260.4 579.6 255.6 579.8 257.7 580.0 243.5 580.2 274.0 580.4 274.1 580.6 256.3 580.8 256.8 581.0 242.7 581.2 251.2 581.4 271.8 581.6 244.8 581.8 251.0 582.0 259.8 582.2 277.8 582.4 289.2 582.6 264.2 582.8 254.2 583.0 265.3 583.2 258.8 583.4 257.4 583.6 277.1 583.8 294.4 584.0 277.6 584.2 264.4 584.4 272.0 584.6 243.8 584.8 255.4 585.0 248.2 585.2 293.2 585.4 284.4 585.6 272.1 585.8 262.4 586.0 234.9 586.2 260.2 586.4 287.0 586.6 260.1 586.8 271.8 587.0 276.9 587.1 248.9 587.3 270.0 587.5 286.2 587.7 274.0 587.9 265.2 588.1 275.5 588.3 248.8 588.5 258.4 588.7 276.6 588.9 252.3 589.0 272.5 589.2 260.1 589.4 239.3 589.6 252.9 589.8 248.6 590.0 260.7 590.2 249.2 590.4 271.6 590.5 256.5 590.7 264.7 590.9 256.4 591.1 256.7 591.3 277.5 591.5 270.7 591.7 260.0 591.8 248.2 592.0 272.6 592.2 276.8 592.4 262.2 592.6 265.8 592.8 252.2 592.9 248.1 593.1 248.6 593.3 261.0 593.5 265.9 593.7 255.3 593.8 269.6 594.0 276.4 594.2 269.6 594.4 280.2 594.6 264.1 594.7 261.3 594.9 268.7 595.1 263.8 595.3 274.4 595.5 252.2 595.6 278.1 595.8 257.9 596.0 258.9 596.2 246.9 596.3 263.2 596.5 281.1 596.7 284.4 596.9 282.0 597.1 251.1 597.2 250.3 597.4 253.2 597.6 249.5 597.8 272.0 597.9 268.2 598.1 263.8 598.3 269.7 598.4 254.3 598.6 250.2 598.8 249.1 599.0 262.6 599.1 267.1 599.3 272.1 599.5 281.0 599.7 253.1 599.8 253.3 600.0 260.4 600.2 248.0 600.3 251.8 600.5 271.1 600.7 280.6 600.8 283.5 601.0 269.9 601.2 261.6 601.4 276.7 601.5 261.6 601.7 266.2 601.9 281.5 602.0 263.3 602.2 255.9 602.4 259.3 602.5 268.5 602.7 270.4 602.9 266.5 603.0 270.6 603.2 248.0 603.4 248.1 603.5 258.0 603.7 251.0 603.9 244.5 604.0 243.5 604.2 245.9 604.4 253.8 604.5 248.5 604.7 258.3 604.8 256.8 605.0 254.4 605.2 251.3 605.3 247.1 605.5 241.7 605.7 235.1 605.8 227.0 606.0 217.4 606.1 206.1 606.3 193.0 606.5 175.0 606.6 187.8 606.8 201.5 607.0 213.4 607.1 223.5 607.3 232.1 607.4 239.2 607.6 244.9 607.8 243.5 607.9 253.1 608.1 242.7 608.2 229.4 608.4 252.6 608.5 259.6 608.7 259.9 608.9 260.0 609.0 264.5 609.2 257.6 609.3 266.2 609.5 282.2 609.6 253.7 609.8 263.5 610.0 264.9 610.1 247.6 610.3 273.5 610.4 288.1 610.6 257.7 610.7 279.7 610.9 266.7 611.1 259.5 611.2 277.3 611.4 267.9 611.5 265.7 611.7 279.5 611.8 281.4 612.0 277.3 612.1 250.8 612.3 241.8 612.4 263.9 612.6 251.5 612.7 257.1 612.9 248.3 613.0 253.1 613.2 245.1 613.3 271.2 613.5 252.5 613.6 254.9 613.8 255.2 614.0 270.7 614.1 248.8 614.3 254.3 614.4 254.7 614.6 262.4 614.7 264.7 614.9 255.4 615.0 259.3 615.2 254.7 615.3 261.5 615.4 257.6 615.6 251.8 615.7 255.1 615.9 260.4 616.0 284.1 616.2 261.0 616.3 261.9 616.5 275.3 616.6 244.2 616.8 237.8 616.9 240.2 617.1 250.1 617.2 281.0 617.4 269.6 617.5 274.7 617.7 260.5 617.8 237.1 617.9 230.5 618.1 255.9 618.2 258.3 618.4 246.2 618.5 263.9 618.7 245.7 618.8 263.8 619.0 274.7 619.1 254.8 619.2 246.6 619.4 260.9 619.5 248.4 619.7 261.8 619.8 247.8 620.0 260.9 620.1 258.7 620.2 253.2 620.4 247.7 620.5 254.9 620.7 240.2 620.8 248.1 621.0 249.9 621.1 260.3 621.2 246.8 621.4 269.8 621.5 257.3 621.7 246.9 621.8 266.3 621.9 276.9 622.1 261.1 622.2 249.9 622.4 253.7 622.5 249.3 622.6 250.8 622.8 269.7 622.9 264.5 623.1 260.1 623.2 260.6 623.3 256.6 623.5 264.6 623.6 267.7 623.8 255.7 623.9 256.5 624.0 280.9 624.2 268.6 624.3 257.9 624.4 277.5 624.6 263.0 624.7 248.5 624.9 259.0 625.0 248.9 625.1 248.9 625.3 255.6 625.4 254.1 625.5 248.6 625.7 248.3 625.8 247.9 625.9 263.7 626.1 251.5 626.2 249.1 626.3 273.2 626.5 255.4 626.6 270.3 626.7 273.7 626.9 259.7 627.0 244.9 627.1 254.7 627.3 261.5 627.4 266.9 627.6 259.5 627.7 268.6 627.8 273.6 627.9 251.3 628.1 267.6 628.2 260.7 628.3 251.6 628.5 250.9 628.6 271.8 628.7 270.4 628.9 244.7 629.0 251.5 629.1 252.2 629.3 252.1 629.4 249.4 629.5 241.2 629.7 256.9 629.8 247.6 629.9 248.9 630.1 247.6 630.2 246.1 630.3 257.8 630.4 259.1 630.6 250.1 630.7 245.3 630.8 247.3 631.0 260.5 631.1 257.4 631.2 257.4 631.4 252.2 631.5 251.2 631.6 254.7 631.7 239.9 631.9 263.4 632.0 250.2 632.1 248.1 632.2 264.4 632.4 259.5 632.5 256.0 632.6 249.7 632.8 240.3 632.9 250.2 633.0 263.8 633.1 249.4 633.3 265.0 633.4 247.9 633.5 245.9 633.6 254.9 633.8 253.8 633.9 260.2 634.0 249.5 634.1 244.2 634.3 236.0 634.4 238.1 634.5 239.8 634.7 237.8 634.8 250.0 634.9 247.0 635.0 236.1 635.1 269.5 635.3 251.1 635.4 243.0 635.5 260.4 635.6 266.9 635.8 248.0 635.9 240.2 636.0 241.0 636.1 258.3 636.3 251.9 636.4 246.5 636.5 250.3 636.6 263.3 636.8 245.2 636.9 247.2 637.0 240.5 637.1 268.0 637.2 275.5 637.4 269.8 637.5 257.2 637.6 260.5 637.7 239.2 637.9 249.8 638.0 241.7 638.1 238.9 638.2 242.5 638.3 246.3 638.5 255.1 638.6 260.0 638.7 257.5 638.8 246.7 638.9 256.2 639.1 252.4 639.2 263.5 639.3 248.5 639.4 230.8 639.5 241.2 639.7 267.5 639.8 261.9 639.9 253.6 640.0 261.0 640.1 259.9 640.3 259.1 640.4 250.1 640.5 251.8 640.6 251.4 640.7 247.7 640.9 242.3 641.0 249.5 641.1 250.2 641.2 249.3 641.3 248.1 641.4 246.4 641.6 244.3 641.7 241.7 641.8 238.5 641.9 234.6 642.0 230.1 642.1 224.8 642.3 218.7 642.4 211.8 642.5 204.0 642.6 195.2 642.7 185.3 642.8 174.4 643.0 158.0 643.1 166.2 643.2 177.9 643.3 188.4 643.4 197.8 643.5 206.3 643.7 213.8 643.8 220.4 643.9 226.2 644.0 231.2 644.1 235.5 644.2 239.1 644.3 242.2 644.5 244.6 644.6 246.6 644.7 248.2 644.8 249.4 644.9 250.2 645.0 249.3 645.1 251.1 645.3 251.3 645.4 251.4 645.5 249.8 645.6 270.1 645.7 251.6 645.8 253.5 645.9 254.4 646.0 257.7 646.2 257.4 646.3 257.1 646.4 262.0 646.5 243.3 646.6 248.2 646.7 241.3 646.8 249.1 646.9 241.9 647.1 241.0 647.2 246.9 647.3 261.7 647.4 259.8 647.5 256.5 647.6 265.4 647.7 248.0 647.8 235.2 648.0 242.3 648.1 245.7 648.2 259.5 648.3 272.5 648.4 247.3 648.5 271.4 648.6 271.9 648.7 265.5 648.8 259.0 648.9 272.3 649.1 259.8 649.2 249.6 649.3 251.2 649.4 241.1 649.5 250.3 649.6 249.5 649.7 252.9 649.8 254.4 649.9 244.0 650.0 259.2 650.1 245.6 650.3 256.0 650.4 240.8 650.5 249.4 650.6 244.2 650.7 248.3 650.8 245.0 650.9 233.4 651.0 236.6 651.1 245.8 651.2 253.7 651.3 241.0 651.4 232.3 651.6 237.8 651.7 244.3 651.8 243.7 651.9 242.2 652.0 254.1 652.1 260.1 652.2 260.1 652.3 246.2 652.4 249.1 652.5 248.3 652.6 239.6 652.7 253.1 652.8 251.8 652.9 247.0 653.0 261.3 653.2 260.7 653.3 261.3 653.4 264.6 653.5 261.4 653.6 244.2 653.7 245.2 653.8 256.7 653.9 246.3 654.0 248.8 654.1 252.9 654.2 263.8 654.3 266.3 654.4 263.6 654.5 252.9 654.6 259.0 654.7 257.7 654.8 251.1 654.9 262.3 655.0 258.5 655.1 246.8 655.2 259.7 655.4 250.9 655.5 255.4 655.6 240.6 655.7 246.3 655.8 241.9 655.9 240.1 656.0 233.0 656.1 261.2 656.2 252.3 656.3 252.6 656.4 260.5 656.5 252.3 656.6 255.0 656.7 241.5 656.8 248.0 656.9 246.1 657.0 252.4 657.1 252.1 657.2 240.5 657.3 233.4 657.4 236.7 657.5 250.3 657.6 253.5 657.7 254.4 657.8 236.7 657.9 226.2 658.0 236.9 658.1 242.6 658.2 242.7 658.3 249.5 658.4 248.1 658.5 240.6 658.6 240.0 658.7 247.0 658.8 248.9 658.9 248.5 659.0 269.2 659.1 253.8 659.2 251.8 659.3 242.9 659.4 244.4 659.5 251.7 659.6 255.0 659.7 249.7 659.8 252.8 659.9 250.8 660.0 236.4 660.1 225.1 660.2 257.4 660.3 259.4 660.4 252.1 660.5 237.7 660.6 236.1 660.7 255.3 660.8 231.2 660.9 240.4 661.0 252.9 661.1 251.6 661.2 256.6 661.3 250.4 661.4 270.8 661.5 247.7 661.6 238.9 661.7 247.3 661.8 260.9 661.9 252.5 662.0 259.5 662.1 248.0 662.2 240.2 662.3 257.5 662.4 265.8 662.5 268.4 662.6 251.7 662.7 241.4 662.8 237.9 662.9 243.4 663.0 251.5 663.1 254.2 663.2 240.1 663.3 247.0 663.4 248.2 663.5 249.3 663.5 248.6 663.6 247.2 663.7 253.3 663.8 251.4 663.9 251.6 664.0 244.5 664.1 250.3 664.2 248.2 664.3 233.5 664.4 246.7 664.5 246.0 664.6 255.7 664.7 249.6 664.8 248.1 664.9 250.2 665.0 249.0 665.1 245.5 665.2 234.7 665.3 258.9 665.4 240.2 665.5 243.1 665.6 251.9 665.6 253.1 665.7 255.1 665.8 257.6 665.9 262.9 666.0 256.1 666.1 270.3 666.2 249.4 666.3 250.7 666.4 246.5 666.5 243.8 666.6 248.9 666.7 261.6 666.8 247.0 666.9 242.8 667.0 252.3 667.1 254.6 667.2 268.0 667.2 264.4 667.3 255.9 667.4 248.1 667.5 250.1 667.6 247.5 667.7 238.3 667.8 244.8 667.9 245.8 668.0 245.7 668.1 244.3 668.2 261.6 668.3 259.1 668.4 260.4 668.5 247.2 668.5 240.5 668.6 243.5 668.7 248.3 668.8 245.7 668.9 245.9 669.0 255.7 669.1 253.4 669.2 242.6 669.3 243.1 669.4 241.6 669.5 247.1 669.6 239.4 669.6 243.7 669.7 252.3 669.8 249.8 669.9 242.0 670.0 241.5 670.1 246.6 670.2 251.7 670.3 256.8 670.4 249.7 670.5 239.0 670.6 256.8 670.6 253.7 670.7 253.6 670.8 252.6 670.9 241.8 671.0 243.5 671.1 248.3 671.2 257.2 671.3 251.7 671.4 226.5 671.5 238.7 671.5 247.2 671.6 259.1 671.7 258.1 671.8 269.8 671.9 269.6 672.0 267.5 672.1 263.1 672.2 242.2 672.3 252.9 672.3 254.9 672.4 246.0 672.5 252.2 672.6 253.0 672.7 245.9 672.8 246.2 672.9 245.3 673.0 248.7 673.1 244.9 673.1 251.4 673.2 234.9 673.3 241.2 673.4 233.2 673.5 239.1 673.6 248.6 673.7 248.1 673.8 247.0 673.8 247.9 673.9 261.8 674.0 243.6 674.1 253.8 674.2 238.4 674.3 241.0 674.4 246.4 674.5 241.0 674.5 246.7 674.6 253.7 674.7 240.6 674.8 244.5 674.9 243.7 675.0 232.1 675.1 240.8 675.2 239.4 675.2 255.9 675.3 243.5 675.4 261.0 675.5 247.4 675.6 264.8 675.7 258.3 675.8 255.3 675.9 257.4 675.9 259.0 676.0 264.0 676.1 268.7 676.2 251.7 676.3 239.5 676.4 225.2 676.5 236.8 676.5 249.6 676.6 251.5 676.7 249.8 676.8 245.5 676.9 242.0 677.0 243.4 677.1 249.1 677.1 235.0 677.2 248.5 677.3 237.0 677.4 242.5 677.5 241.0 677.6 242.4 677.6 237.9 677.7 235.5 677.8 241.4 677.9 237.3 678.0 264.9 678.1 249.6 678.2 243.1 678.2 241.7 678.3 237.4 678.4 225.8 678.5 237.7 678.6 246.1 678.7 235.7 678.7 243.1 678.8 236.8 678.9 243.2 679.0 248.6 679.1 251.9 679.2 252.6 679.2 243.4 679.3 253.3 679.4 245.5 679.5 249.4 679.6 254.1 679.7 246.8 679.7 237.5 679.8 248.3 679.9 239.1 680.0 237.7 680.1 235.6 680.2 249.6 680.2 246.5 680.3 230.2 680.4 246.4 680.5 265.2 680.6 268.9 680.7 249.6 680.7 248.5 680.8 251.9 680.9 256.6 681.0 250.5 681.1 239.8 681.2 250.5 681.2 253.6 681.3 238.9 681.4 241.3 681.5 246.8 681.6 246.7 681.6 251.4 681.7 255.4 681.8 254.6 681.9 248.4 682.0 237.3 682.1 248.1 682.1 259.7 682.2 268.7 682.3 254.1 682.4 248.9 682.5 260.3 682.5 264.3 682.6 255.8 682.7 256.2 682.8 243.7 682.9 250.6 683.0 241.6 683.0 243.7 683.1 244.6 683.2 242.4 683.3 229.5 683.4 234.4 683.4 244.7 683.5 245.4 683.6 243.2 683.7 248.9 683.8 253.4 683.8 256.5 683.9 243.4 684.0 245.5 684.1 243.6 684.2 238.9 684.2 232.7 684.3 240.9 684.4 238.0 684.5 262.0 684.6 250.9 684.6 246.0 684.7 243.3 684.8 261.8 684.9 243.8 685.0 244.3 685.0 239.9 685.1 243.1 685.2 244.9 685.3 255.5 685.4 238.5 685.4 243.4 685.5 259.5 685.6 246.3 685.7 244.9 685.7 239.2 685.8 224.3 685.9 237.8 686.0 245.9 686.1 244.7 686.1 232.0 686.2 243.2 686.3 243.4 686.4 242.2 686.5 240.6 686.5 238.6 686.6 236.3 686.7 233.5 686.8 230.3 686.8 226.6 686.9 222.3 687.0 217.4 687.1 211.9 687.2 205.7 687.2 198.9 687.3 191.3 687.4 183.0 687.5 173.9 687.5 164.0 687.6 153.2 687.7 141.5 687.8 128.8 687.9 115.2 687.9 100.6 688.0 84.9 688.1 68.2 688.2 42.0 688.2 52.2 688.3 69.9 688.4 86.5 688.5 102.0 688.6 116.4 688.6 129.8 688.7 142.3 688.8 153.8 688.9 164.5 688.9 174.3 689.0 183.2 689.1 191.4 689.2 198.8 689.2 205.6 689.3 211.6 689.4 217.0 689.5 221.8 689.5 226.1 689.6 229.8 689.7 233.1 689.8 235.8 689.9 238.2 689.9 240.1 690.0 233.0 690.1 236.4 690.2 237.8 690.2 244.8 690.3 244.2 690.4 245.8 690.5 246.0 690.5 234.7 690.6 246.2 690.7 243.1 690.8 250.2 690.8 262.7 690.9 247.0 691.0 237.0 691.1 251.5 691.1 248.4 691.2 237.4 691.3 234.8 691.4 239.1 691.4 251.6 691.5 245.4 691.6 251.5 691.7 262.6 691.7 263.0 691.8 264.7 691.9 263.4 692.0 238.9 692.0 253.9 692.1 251.5 692.2 246.7 692.3 237.9 692.3 231.0 692.4 232.2 692.5 240.9 692.6 235.2 692.6 235.9 692.7 237.6 692.8 248.3 692.9 244.3 692.9 244.1 693.0 256.9 693.1 246.7 693.1 251.4 693.2 239.4 693.3 246.0 693.4 246.8 693.4 247.6 693.5 242.7 693.6 236.8 693.7 240.3 693.7 240.2 693.8 252.6 693.9 256.2 694.0 239.6 694.0 248.7 694.1 242.9 694.2 248.6 694.2 242.8 694.3 233.5 694.4 249.6 694.5 251.0 694.5 237.9 694.6 228.5 694.7 235.5 694.8 233.1 694.8 238.4 694.9 248.1 695.0 259.6 695.0 247.2 695.1 258.4 695.2 260.4 695.3 246.8 695.3 233.2 695.4 248.0 695.5 251.8 695.6 267.4 695.6 266.4 695.7 259.8 695.8 265.6 695.8 243.5 695.9 246.4 696.0 243.6 696.1 260.3 696.1 255.7 696.2 225.2 696.3 249.4 696.3 239.7 696.4 250.0 696.5 243.2 696.6 246.7 696.6 251.6 696.7 249.4 696.8 239.4 696.8 255.5 696.9 252.5 697.0 247.8 697.1 252.6 697.1 243.5 697.2 261.6 697.3 253.1 697.3 251.4 697.4 250.7 697.5 240.0 697.6 234.6 697.6 243.3 697.7 247.8 697.8 258.3 697.8 254.0 697.9 239.7 698.0 247.8 698.1 253.7 698.1 257.3 698.2 252.6 698.3 238.2 698.3 252.9 698.4 242.0 698.5 249.2 698.5 234.5 698.6 247.8 698.7 240.1 698.8 252.9 698.8 263.8 698.9 262.3 699.0 241.5 699.0 236.7 699.1 235.6 699.2 247.3 699.2 249.1 699.3 248.0 699.4 249.0 699.5 251.8 699.5 253.4 699.6 263.2 699.7 251.0 699.7 249.1 699.8 232.1 699.9 230.5 699.9 234.7 700.0 232.4 700.1 242.4 700.2 253.3 700.2 244.2 700.3 241.0 700.4 239.7 700.4 244.2 700.5 240.5 700.6 247.0 700.6 248.3 700.7 249.2 700.8 253.2 700.8 248.1 700.9 247.3 701.0 261.3 701.0 250.2 701.1 253.8 701.2 248.4 701.3 242.4 701.3 240.4 701.4 237.0 701.5 242.1 701.5 239.2 701.6 239.5 701.7 253.4 701.7 246.5 701.8 255.4 701.9 250.7 701.9 254.4 702.0 242.9 702.1 245.2 702.1 266.3 702.2 260.0 702.3 258.8 702.3 251.5 702.4 254.5 702.5 238.7 702.6 236.0 702.6 244.7 702.7 251.7 702.8 243.5 702.8 242.6 702.9 241.0 703.0 241.8 703.0 234.4 703.1 230.1 703.2 238.7 703.2 229.3 703.3 231.6 703.4 234.9 703.4 233.0 703.5 242.0 703.6 240.0 703.6 242.1 703.7 235.8 703.8 235.6 703.8 243.7 703.9 243.7 704.0 241.6 704.0 243.5 704.1 243.3 704.2 243.2 704.2 243.0 704.3 242.7 704.4 242.4 704.4 242.1 704.5 241.7 704.6 235.0 704.6 240.7 704.7 240.2 704.8 239.5 704.8 238.8 704.9 238.0 705.0 237.1 705.0 236.3 705.1 230.2 705.2 234.1 705.2 230.7 705.3 231.6 705.4 230.2 705.4 228.7 705.5 227.1 705.6 225.4 705.6 223.6 705.7 221.7 705.8 219.6 705.8 217.4 705.9 215.1 706.0 212.7 706.0 211.0 706.1 214.3 706.2 216.7 706.2 218.9 706.3 221.0 706.3 222.9 706.4 224.8 706.5 226.5 706.5 228.1 706.6 229.7 706.7 231.1 706.7 232.4 706.8 233.6 706.9 234.8 706.9 235.8 707.0 232.0 707.1 231.6 707.1 234.2 707.2 239.2 707.3 239.8 707.3 240.4 707.4 240.4 707.5 241.4 707.5 241.8 707.6 238.3 707.7 242.5 707.7 238.1 707.8 239.1 707.8 243.2 707.9 243.4 708.0 243.5 708.0 243.6 708.1 243.7 708.2 243.7 708.2 243.8 708.3 243.8 708.4 243.8 708.4 243.8 708.5 243.8 708.6 245.9 708.6 257.2 708.7 232.6 708.7 232.4 708.8 250.5 708.9 248.8 708.9 239.8 709.0 244.4 709.1 252.3 709.1 241.4 709.2 248.4 709.3 243.4 709.3 241.9 709.4 241.7 709.5 251.4 709.5 237.1 709.6 237.9 709.6 246.0 709.7 234.7 709.8 228.3 709.8 241.5 709.9 242.0 710.0 241.2 710.0 242.9 710.1 235.6 710.1 263.7 710.2 241.7 710.3 238.9 710.3 230.9 710.4 235.3 710.5 252.1 710.5 245.7 710.6 248.3 710.7 240.6 710.7 256.6 710.8 248.5 710.8 235.2 710.9 245.6 711.0 240.6 711.0 246.4 711.1 244.7 711.2 245.1 711.2 244.2 711.3 236.3 711.3 229.4 711.4 244.8 711.5 241.9 711.5 244.2 711.6 239.4" stroke="#f00" stroke-width="2" fill="none" stroke-linejoin="miter" stroke-miterlimit="10.43" shape-rendering="crispEdges"/>
<path d="M711.5 244.2L711.6 239.4 711.7 226.8 711.7 227.6 711.8 247.5 711.9 238.1 711.9 237.9 712.0 230.1 712.0 234.1 712.1 236.5 712.2 238.4 712.2 240.1 712.3 236.8 712.3 236.0 712.4 239.7 712.5 243.5 712.5 241.3 712.6 255.9 712.7 248.3 712.7 245.3 712.8 238.2 712.8 248.6 712.9 236.6 713.0 228.6 713.0 230.2 713.1 242.0 713.2 233.7 713.2 248.9 713.3 243.9 713.4 231.7 713.4 236.5 713.5 254.0 713.5 239.3 713.6 231.6 713.6 241.6 713.7 252.2 713.8 253.5 713.8 242.9 713.9 243.4 714.0 244.7 714.1 252.1 714.1 262.4 714.1 247.9 714.2 254.2 714.3 243.0 714.4 246.7 714.4 236.5 714.5 234.4 714.5 241.8 714.6 235.3 714.7 245.9 714.7 238.9 714.8 241.0 714.9 240.6 714.9 238.7 715.0 241.3 715.0 249.9 715.1 262.0 715.1 241.4 715.2 243.6 715.3 240.7 715.4 234.7 715.4 240.9 715.5 235.0 715.5 238.5 715.6 250.0 715.7 229.9 715.7 238.9 715.8 243.7 715.9 235.3 715.9 242.8 716.0 244.4 716.0 239.7 716.1 250.2 716.2 234.8 716.2 243.5 716.3 240.2 716.3 233.5 716.4 237.1 716.5 237.2 716.5 245.9 716.6 232.2 716.7 236.6 716.7 236.3 716.8 251.5 716.8 236.5 716.9 247.4 717.0 230.9 717.0 239.7 717.1 239.5 717.2 243.1 717.2 236.7 717.3 226.1 717.3 225.1 717.4 244.6 717.5 243.7 717.5 235.7 717.6 241.0 717.7 237.1 717.7 234.4 717.8 230.2 717.8 240.9 717.9 240.8 718.0 239.2 718.0 240.6 718.1 240.3 718.2 240.1 718.2 230.2 718.3 237.8 718.4 238.6 718.4 231.6 718.5 237.2 718.5 236.7 718.6 235.4 718.7 234.1 718.7 233.4 718.8 231.4 718.9 230.2 718.9 228.6 719.0 227.1 719.0 224.5 719.1 222.6 719.2 220.0 719.2 217.6 719.3 214.2 719.3 211.6 719.4 208.8 719.5 205.3 719.5 201.1 719.6 196.1 719.6 194.0 719.7 189.8 719.8 183.8 719.8 179.6 719.9 171.9 720.0 167.4 720.0 160.5 720.1 155.0 720.1 159.1 720.2 168.2 720.3 172.3 720.3 177.1 720.4 184.2 720.5 188.8 720.5 193.4 720.6 197.6 720.7 201.8 720.7 203.9 720.8 207.5 720.8 210.4 720.9 214.8 721.0 217.0 721.0 220.1 721.1 222.7 721.1 224.2 721.2 227.1 721.3 228.5 721.4 230.5 721.4 231.7 721.5 233.4 721.5 234.3 721.6 235.6 721.7 236.3 721.7 237.0 721.8 237.8 721.8 238.5 721.9 231.4 722.0 236.0 722.0 236.4 722.1 240.3 722.2 240.6 722.2 227.8 722.3 235.9 722.3 240.9 722.4 230.7 722.5 231.7 722.5 237.2 722.6 230.3 722.7 233.0 722.7 237.8 722.8 230.6 722.8 238.6 722.9 242.4 723.0 232.4 723.0 237.4 723.1 247.1 723.1 241.0 723.2 243.6 723.3 246.1 723.3 240.2 723.4 247.5 723.5 245.5 723.5 235.1 723.6 241.8 723.7 247.2 723.7 248.6 723.8 238.3 723.8 242.7 723.9 251.4 724.0 245.6 724.0 251.0 724.1 253.7 724.2 244.4 724.2 246.5 724.3 239.9 724.4 248.0 724.4 242.0 724.5 236.9 724.5 238.6 724.6 238.9 724.7 242.3 724.7 244.2 724.8 233.6 724.9 233.5 724.9 239.9 725.0 243.5 725.0 241.7 725.1 258.8 725.1 255.6 725.2 244.7 725.3 247.0 725.3 252.5 725.4 247.0 725.5 230.8 725.5 237.3 725.6 239.2 725.7 255.8 725.7 232.8 725.8 248.6 725.8 241.7 725.9 247.5 726.0 240.3 726.0 241.3 726.1 248.9 726.2 243.6 726.2 249.1 726.3 242.4 726.3 238.0 726.4 237.8 726.5 235.9 726.5 237.7 726.6 249.2 726.7 235.1 726.7 227.7 726.8 235.4 726.8 250.7 726.9 251.5 727.0 253.9 727.0 254.1 727.1 239.3 727.1 240.5 727.2 223.2 727.3 230.1 727.3 240.3 727.4 230.1 727.5 223.4 727.5 225.9 727.6 236.2 727.7 247.1 727.7 257.9 727.8 257.9 727.8 235.6 727.9 223.8 728.0 235.1 728.0 245.8 728.1 231.4 728.1 233.6 728.2 234.8 728.3 238.2 728.3 238.1 728.4 243.0 728.5 248.9 728.5 243.6 728.6 246.8 728.7 257.2 728.7 238.5 728.8 232.8 728.8 240.8 728.9 254.0 729.0 246.1 729.1 250.2 729.1 241.2 729.2 247.2 729.2 238.1 729.3 244.2 729.4 244.4 729.4 244.5 729.5 251.8 729.5 238.6 729.6 238.6 729.7 238.6 729.7 231.3 729.8 238.6 729.8 238.5 729.9 238.5 730.0 238.4 730.0 238.3 730.1 238.2 730.2 238.1 730.2 238.0 730.3 237.8 730.3 237.3 730.4 237.3 730.5 237.1 730.5 229.3 730.6 236.4 730.7 236.1 730.7 231.1 730.8 235.3 730.8 234.6 730.9 234.2 731.0 233.4 731.0 232.8 731.1 220.8 731.2 230.9 731.2 230.1 731.3 229.2 731.3 228.3 731.4 227.2 731.5 226.0 731.5 225.0 731.6 223.3 731.6 222.5 731.7 221.0 731.8 219.5 731.9 217.0 731.9 215.9 732.0 214.4 732.0 213.0 732.1 216.0 732.1 217.3 732.2 219.7 732.3 220.5 732.3 222.2 732.4 223.7 732.5 225.0 732.5 226.1 732.6 227.1 732.7 228.3 732.7 229.3 732.8 228.7 732.9 231.4 732.9 232.2 733.0 229.3 733.0 228.4 733.1 234.0 733.2 234.7 733.2 235.1 733.3 235.6 733.3 236.1 733.4 236.5 733.5 236.8 733.5 237.1 733.6 237.5 733.7 237.5 733.7 234.7 733.8 238.0 733.8 235.0 733.9 238.1 734.0 234.0 734.0 236.7 734.1 235.0 734.2 238.5 734.2 238.5 734.3 238.6 734.3 238.6 734.4 225.3 734.5 227.4 734.5 218.6 734.6 231.6 734.7 238.9 734.7 243.3 734.8 242.2 734.8 234.4 734.9 249.4 735.0 244.5 735.0 238.7 735.1 231.9 735.2 238.7 735.2 235.5 735.3 234.7 735.4 238.3 735.4 239.9 735.5 233.9 735.5 245.3 735.6 234.3 735.7 230.3 735.7 237.2 735.8 238.7 735.8 238.8 735.9 235.8 736.0 237.5 736.0 234.6 736.1 227.2 736.1 238.6 736.2 232.2 736.3 234.6 736.3 241.7 736.4 239.4 736.5 255.1 736.5 235.5 736.6 232.7 736.7 236.5 736.7 246.9 736.8 239.2 736.9 229.9 736.9 242.5 737.0 233.8 737.0 235.2 737.1 242.9 737.1 235.3 737.2 234.2 737.3 239.6 737.4 237.0 737.4 239.4 737.5 232.7 737.5 235.2 737.6 230.5 737.7 226.1 737.7 245.0 737.8 243.3 737.8 246.0 737.9 234.3 738.0 236.2 738.0 235.8 738.1 228.7 738.1 237.5 738.2 233.3 738.3 234.8 738.3 227.8 738.4 240.2 738.5 243.6 738.5 242.3 738.6 233.6 738.7 232.9 738.7 243.9 738.8 237.7 738.8 239.3 738.9 238.9 739.0 231.4 739.0 245.3 739.1 228.3 739.2 235.3 739.2 236.0 739.3 227.6 739.3 235.7 739.4 240.1 739.5 238.5 739.5 232.9 739.6 238.4 739.7 245.3 739.7 241.5 739.8 250.5 739.8 247.7 739.9 246.1 740.0 249.8 740.0 237.0 740.1 234.1 740.2 239.3 740.2 241.4 740.3 248.9 740.3 249.0 740.4 242.4 740.5 240.4 740.5 236.4 740.6 234.7 740.7 233.6 740.7 241.7 740.8 235.7 740.8 234.5 740.9 237.0 741.0 234.1 741.1 234.7 741.1 224.0 741.1 234.5 741.2 234.4 741.3 237.2 741.3 239.6 741.4 227.4 741.5 249.3 741.5 242.5 741.6 240.3 741.7 228.1 741.7 237.7 741.8 240.4 741.8 236.2 741.9 238.8 742.0 246.8 742.0 238.7 742.1 232.9 742.2 244.9 742.2 242.2 742.3 238.3 742.4 253.2 742.4 236.0 742.5 236.0 742.5 236.0 742.6 235.9 742.7 235.8 742.7 235.6 742.8 234.4 742.8 235.0 742.9 234.5 743.0 233.9 743.0 233.2 743.1 232.3 743.2 230.7 743.2 229.5 743.3 228.1 743.4 225.8 743.4 224.3 743.5 221.5 743.5 218.8 743.6 216.7 743.7 211.8 743.7 209.4 743.8 206.0 743.8 201.4 743.9 195.5 744.0 189.9 744.0 185.1 744.1 180.2 744.2 171.4 744.2 164.1 744.3 157.6 744.3 150.4 744.4 140.0 744.5 133.6 744.5 124.7 744.6 112.5 744.7 98.1 744.7 91.4 744.8 79.6 744.8 67.0 744.9 53.0 745.0 68.4 745.0 83.5 745.1 94.6 745.2 103.8 745.2 116.5 745.3 126.7 745.4 136.6 745.4 143.8 745.5 153.5 745.5 160.1 745.6 166.6 745.7 175.5 745.7 179.8 745.8 185.0 745.8 191.9 745.9 197.3 746.0 201.0 746.0 207.0 746.1 209.7 746.2 213.2 746.2 217.6 746.3 219.2 746.3 221.9 746.4 224.4 746.5 227.0 746.5 228.6 746.6 230.2 746.7 231.2 746.7 232.5 746.8 233.2 746.8 233.9 746.9 234.5 747.0 235.2 747.0 235.5 747.1 228.9 747.1 235.8 747.2 233.2 747.3 234.4 747.3 232.7 747.4 237.6 747.5 239.3 747.5 237.2 747.6 245.5 747.7 241.1 747.7 235.2 747.8 220.5 747.9 228.9 747.9 231.8 748.0 229.8 748.0 229.2 748.1 236.8 748.2 242.9 748.2 250.5 748.3 248.3 748.3 235.6 748.4 237.3 748.5 229.0 748.5 237.5 748.6 238.6 748.7 233.3 748.7 234.2 748.8 233.8 748.8 231.7 748.9 242.4 749.0 251.0 749.0 248.7 749.1 247.0 749.2 240.6 749.2 235.1 749.3 249.5 749.4 238.1 749.4 239.0 749.5 236.0 749.5 239.5 749.6 236.6 749.7 239.7 749.7 230.1 749.8 233.0 749.8 243.2 749.9 232.2 750.0 230.8 750.0 242.2 750.1 240.4 750.2 244.0 750.2 226.3 750.3 232.9 750.3 227.9 750.4 225.6 750.5 234.0 750.5 242.3 750.6 229.6 750.7 227.6 750.7 229.6 750.8 232.6 750.9 227.5 750.9 246.3 751.0 242.9 751.0 235.6 751.1 232.6 751.1 248.9 751.2 250.5 751.3 238.8 751.3 238.6 751.4 244.4 751.5 231.6 751.5 230.9 751.6 241.9 751.7 233.4 751.7 232.3 751.8 227.2 751.8 228.4 751.9 236.5 752.0 231.2 752.0 227.0 752.1 228.9 752.2 243.6 752.2 239.1 752.3 233.2 752.3 235.2 752.4 237.8 752.5 236.7 752.5 226.1 752.6 233.3 752.7 233.2 752.7 239.5 752.8 229.2 752.9 239.0 752.9 233.4 753.0 225.5 753.1 239.2 753.1 233.3 753.2 236.5 753.2 234.3 753.3 241.5 753.4 244.0 753.4 245.0 753.5 242.8 753.5 228.6 753.6 223.9 753.7 231.9 753.7 228.7 753.8 235.0 753.9 235.7 753.9 227.6 754.0 226.8 754.0 226.0 754.1 227.0 754.2 230.8 754.2 237.2 754.3 243.9 754.4 232.2 754.4 230.8 754.5 242.7 754.5 243.0 754.6 238.9 754.7 223.7 754.7 225.5 754.8 232.1 754.8 230.6 754.9 245.3 755.0 238.8 755.0 237.7 755.1 229.7 755.2 227.4 755.2 228.5 755.3 229.1 755.3 231.3 755.4 235.4 755.5 236.2 755.5 241.3 755.6 229.4 755.7 233.6 755.7 235.5 755.8 244.7 755.9 236.5 755.9 237.1 756.0 230.9 756.0 211.0 756.1 222.6 756.2 231.9 756.2 231.1 756.3 233.0 756.4 237.3 756.4 229.2 756.5 237.6 756.5 233.5 756.6 245.8 756.7 247.4 756.7 236.3 756.8 231.6 756.8 248.5 756.9 243.1 757.0 240.8 757.0 233.9 757.1 233.4 757.2 238.8 757.2 239.6 757.3 231.5 757.4 240.7 757.4 238.3 757.5 230.4 757.5 238.7 757.6 234.6 757.7 239.1 757.7 232.7 757.8 235.7 757.8 226.2 757.9 233.2 758.0 226.0 758.1 232.0 758.1 220.4 758.2 228.9 758.2 236.3 758.3 237.8 758.3 242.8 758.4 231.0 758.5 242.5 758.5 246.9 758.6 231.6 758.7 229.1 758.7 229.3 758.8 232.2 758.8 234.3 758.9 221.5 759.0 232.6 759.0 232.1 759.1 228.1 759.2 237.3 759.2 233.1 759.3 240.6 759.4 239.5 759.4 233.8 759.5 241.1 759.5 241.4 759.6 233.4 759.7 225.5 759.7 228.1 759.8 235.2 759.9 233.0 759.9 244.3 760.0 239.1 760.0 236.8 760.1 237.3 760.2 230.3 760.2 231.9 760.3 229.7 760.4 220.4 760.4 220.1 760.5 232.7 760.5 231.1 760.6 232.2 760.7 225.7 760.7 227.9 760.8 236.0 760.9 235.1 760.9 231.4 761.0 242.1 761.1 236.2 761.1 232.6 761.2 240.2 761.2 226.7 761.3 234.1 761.4 228.1 761.4 227.7 761.5 228.1 761.5 232.3 761.6 233.7 761.7 235.5 761.7 235.5 761.8 242.8 761.8 247.1 761.9 242.6 762.0 241.3 762.0 233.9 762.1 228.1 762.1 234.8 762.2 234.2 762.3 239.0 762.4 225.9 762.4 246.6 762.5 230.9 762.5 232.7 762.6 239.2 762.7 228.1 762.7 228.8 762.8 221.6 762.8 222.1 762.9 219.7 763.0 229.1 763.0 232.8 763.1 231.8 763.2 232.4 763.2 232.0 763.3 231.8 763.3 231.3 763.4 230.7 763.5 230.2 763.5 229.3 763.6 228.3 763.7 227.7 763.7 226.4 763.8 225.3 763.8 224.4 763.9 223.1 764.0 221.1 764.0 219.1 764.1 217.0 764.2 215.4 764.2 212.7 764.3 211.3 764.3 208.5 764.4 205.8 764.5 202.0 764.5 199.6 764.6 195.2 764.6 193.2 764.7 189.0 764.8 183.5 764.8 181.1 764.9 174.9 765.0 171.1 765.0 167.1 765.1 160.0 765.2 166.0 765.2 169.4 765.3 174.1 765.3 178.3 765.4 184.9 765.5 187.3 765.5 192.0 765.6 194.7 765.7 199.8 765.7 202.2 765.8 205.8 765.8 207.9 765.9 210.9 766.0 213.3 766.0 215.1 766.1 217.8 766.2 219.0 766.2 220.8 766.3 222.7 766.3 219.7 766.4 225.5 766.5 226.2 766.5 227.2 766.6 228.5 766.6 229.1 766.7 229.8 766.8 230.6 766.9 231.2 766.9 231.6 767.0 232.0 767.0 232.0 767.1 231.9 767.1 228.1 767.2 227.2 767.3 233.0 767.3 233.1 767.4 233.2 767.5 230.9 767.5 233.2 767.6 220.7 767.7 233.5 767.7 232.9 767.8 234.6 767.9 240.5 767.9 233.1 768.0 238.7 768.0 232.5 768.1 236.0 768.1 231.8 768.2 234.3 768.3 242.1 768.3 232.4 768.4 229.7 768.5 230.2 768.5 233.6 768.6 247.3 768.7 235.3 768.7 223.5 768.8 226.4 768.9 222.8 768.9 226.6 769.0 230.8 769.0 227.4 769.1 227.6 769.2 221.8 769.2 229.9 769.3 228.1 769.4 237.4 769.4 240.7 769.5 230.9 769.5 230.3 769.6 232.3 769.7 237.1 769.7 225.8 769.8 230.1 769.9 242.7 769.9 235.8 770.0 235.2 770.0 233.7 770.1 227.2 770.1 236.2 770.2 235.6 770.3 234.8 770.4 237.9 770.4 239.3 770.5 225.3 770.5 232.2 770.6 229.9 770.7 232.2 770.7 229.2 770.8 227.3 770.8 232.2 770.9 232.1 771.0 231.8 771.0 231.0 771.1 231.9 771.2 231.8 771.2 221.1 771.3 224.4 771.3 228.7 771.4 231.0 771.5 230.7 771.5 230.3 771.6 229.9 771.7 229.4 771.7 229.1 771.8 228.7 771.9 227.9 771.9 227.5 772.0 226.9 772.0 226.1 772.1 225.1 772.2 224.3 772.2 223.2 772.3 222.3 772.3 221.4 772.4 220.3 772.5 218.6 772.5 217.8 772.6 215.8 772.7 214.7 772.7 213.0 772.8 211.0 772.9 209.3 772.9 208.0 773.0 205.0 773.0 206.0 773.1 207.6 773.1 209.4 773.2 211.8 773.3 213.3 773.4 215.2 773.4 215.4 773.5 217.9 773.6 219.3 773.6 219.7 773.6 221.1 773.7 222.7 773.8 223.4 773.8 224.3 773.9 225.4 774.0 226.1 774.0 226.9 774.1 227.5 774.2 228.1 774.2 226.4 774.3 229.2 774.3 229.6 774.4 229.9 774.5 230.2 774.5 230.6 774.6 230.2 774.6 231.1 774.7 231.4 774.8 229.6 774.8 231.8 774.9 231.9 775.0 232.0 775.0 228.6 775.1 232.1 775.2 230.4 775.2 232.2 775.3 232.2 775.3 232.2 775.4 228.8 775.5 231.4 775.5 238.9 775.6 237.7 775.7 231.8 775.7 246.0 775.8 242.2 775.9 235.1 775.9 230.6 776.0 230.9 776.0 240.1 776.1 231.3 776.2 232.7 776.2 228.8 776.3 238.7 776.3 234.2 776.4 238.5 776.5 238.3 776.5 231.7 776.6 236.6 776.7 239.8 776.7 229.3 776.8 235.7 776.9 245.8 776.9 238.9 777.0 238.8 777.0 228.1 777.1 233.8 777.2 230.2 777.2 236.4 777.3 234.0 777.4 227.4 777.4 237.1 777.5 233.2 777.5 227.9 777.6 231.5 777.6 227.6 777.7 233.2 777.8 232.7 777.8 230.9 777.9 236.0 778.0 227.5 778.0 236.4 778.1 224.0 778.2 238.6 778.2 236.0 778.3 232.5 778.3 229.0 778.4 234.5 778.5 232.6 778.5 231.8 778.6 238.4 778.7 232.4 778.7 231.4 778.8 234.8 778.8 239.7 778.9 234.4 779.0 234.3 779.0 233.6 779.1 237.4 779.2 242.9 779.2 231.1 779.3 231.5 779.3 232.1 779.4 235.9 779.5 242.4 779.5 236.1 779.6 235.2 779.7 240.1 779.7 228.7 779.8 227.4 779.8 228.6 779.9 231.0 780.0 230.9 780.0 230.2 780.1 230.5 780.1 230.2 780.2 229.6 780.3 229.2 780.3 228.4 780.4 227.2 780.5 226.5 780.5 224.8 780.6 222.9 780.6 222.0 780.7 219.9 780.8 217.2 780.8 214.8 780.9 212.7 781.0 208.9 781.0 206.0 781.1 202.1 781.2 197.4 781.2 194.5 781.3 188.0 781.4 181.6 781.4 179.1 781.5 172.6 781.5 164.0 781.6 159.5 781.7 150.1 781.7 142.4 781.8 133.6 781.9 122.2 781.9 114.6 782.0 106.7 782.0 97.4 782.1 85.6 782.2 70.0 782.2 63.0 782.3 80.4 782.4 92.3 782.4 104.2 782.5 113.0 782.5 120.9 782.6 130.6 782.7 140.8 782.7 145.7 782.8 156.9 782.8 162.2 782.9 169.8 783.0 175.4 783.0 181.8 783.1 185.2 783.2 191.7 783.2 197.6 783.3 199.5 783.4 205.3 783.4 208.6 783.5 210.3 783.5 214.3 783.6 216.7 783.7 219.4 783.7 221.0 783.8 222.4 783.8 224.1 783.9 225.8 784.0 226.2 784.0 228.1 784.1 227.5 784.2 229.5 784.2 228.3 784.3 230.4 784.3 230.7 784.4 230.9 784.5 231.0 784.5 230.2 784.6 231.1 784.6 231.1 784.7 229.6 784.8 224.0 784.9 241.6 784.9 244.1 785.0 235.7 785.0 237.2 785.1 240.8 785.1 235.2 785.2 230.4 785.3 230.8 785.3 235.9 785.4 233.1 785.5 225.8 785.5 233.4 785.6 223.4 785.7 224.8 785.7 235.7 785.8 234.2 785.8 233.7 785.9 232.7 786.0 237.6 786.0 233.2 786.1 222.2 786.2 229.3 786.2 215.5 786.3 215.6 786.3 233.9 786.4 238.0 786.5 231.0 786.5 230.7 786.6 231.5 786.7 236.9 786.7 229.1 786.8 226.1 786.8 226.3 786.9 230.1 787.0 232.2 787.0 229.5 787.1 234.7 787.2 227.2 787.2 229.3 787.3 227.1 787.4 224.7 787.4 235.4 787.5 230.8 787.5 226.0 787.6 229.5 787.6 225.6 787.7 232.2 787.8 236.2 787.8 238.5 787.9 228.1 788.0 229.3 788.1 240.6 788.1 233.2 788.2 238.8 788.2 242.2 788.3 227.6 788.3 236.4 788.4 237.1 788.5 238.0 788.5 242.8 788.6 237.6 788.7 233.8 788.7 235.3 788.8 230.6 788.8 233.6 788.9 221.9 789.0 236.9 789.0 230.1 789.1 233.6 789.2 233.6 789.2 232.4 789.3 232.0 789.3 231.7 789.4 223.1 789.5 225.4 789.5 235.3 789.6 227.2 789.7 224.4 789.7 239.9 789.8 240.6 789.8 242.8 789.9 234.9 790.0 206.0 790.0 218.1 790.1 235.7 790.2 232.0 790.2 224.0 790.3 224.7 790.4 221.2 790.4 235.6 790.5 230.2 790.5 229.6 790.6 231.8 790.7 231.1 790.7 233.6 790.8 228.4 790.9 222.4 790.9 236.9 791.0 229.0 791.0 227.6 791.1 225.6 791.1 226.1 791.2 229.0 791.3 233.9 791.3 226.4 791.4 230.4 791.5 227.1 791.5 235.6 791.6 226.0 791.7 229.3 791.7 233.8 791.8 224.8 791.8 228.9 791.9 230.5 792.0 226.4 792.0 227.8 792.1 234.6 792.2 233.1 792.2 229.1 792.3 228.8 792.3 232.0 792.4 237.6 792.5 237.0 792.5 236.4 792.6 240.7 792.7 226.0 792.7 221.7 792.8 216.2 792.9 229.2 792.9 218.7 793.0 225.8 793.0 232.4 793.1 224.0 793.2 224.7 793.2 226.8 793.3 232.6 793.3 223.5 793.4 229.2 793.5 233.3 793.5 231.8 793.6 231.4 793.7 237.0 793.7 233.5 793.8 231.0 793.8 228.6 793.9 232.8 794.0 229.3 794.0 233.1 794.1 231.4 794.1 236.3 794.2 228.0 794.3 229.5 794.4 231.5 794.4 232.5 794.5 236.7 794.5 229.4 794.6 229.4 794.7 229.3 794.7 229.3 794.8 227.4 794.8 222.1 794.9 229.1 795.0 228.0 795.0 228.7 795.1 228.5 795.2 228.1 795.2 227.9 795.3 227.0 795.3 226.8 795.4 226.4 795.5 222.9 795.5 224.7 795.6 223.9 795.7 223.0 795.7 222.2 795.8 220.7 795.9 219.0 795.9 217.4 796.0 216.6 796.0 214.9 796.1 212.3 796.2 210.1 796.2 208.4 796.3 206.3 796.3 203.5 796.4 201.4 796.5 197.5 796.5 195.7 796.6 190.8 796.7 186.9 796.7 185.3 796.8 181.0 796.8 177.3 796.9 172.4 797.0 165.0 797.0 166.5 797.1 172.4 797.2 177.2 797.2 180.1 797.3 183.5 797.4 188.8 797.4 191.9 797.5 194.2 797.5 197.7 797.6 201.3 797.7 203.8 797.7 206.8 797.8 208.1 797.8 210.4 797.9 212.3 798.0 214.8 798.0 216.6 798.1 217.9 798.2 219.7 798.2 220.9 798.3 222.0 798.4 221.8 798.4 223.2 798.5 225.0 798.5 225.5 798.6 226.2 798.7 227.0 798.7 227.4 798.8 227.7 798.8 224.0 798.9 225.1 799.0 228.5 799.0 229.0 799.1 229.0 799.2 224.2 799.2 224.6 799.3 224.0 799.3 229.3 799.4 229.4 799.5 229.4 799.5 238.5 799.6 230.6 799.6 228.0 799.7 222.4 799.8 227.6 799.8 226.2 799.9 228.3 800.0 231.0 800.0 228.3 800.1 223.4 800.2 226.6 800.2 227.7 800.3 228.5 800.4 232.1 800.4 228.8 800.5 227.6 800.5 237.1 800.6 237.1 800.7 231.3 800.7 225.3 800.8 225.5 800.9 229.5 800.9 233.4 801.0 241.6 801.0 232.5 801.1 230.9 801.2 227.9 801.2 229.0 801.3 227.2 801.3 223.4 801.4 232.0 801.5 230.7 801.5 236.1 801.6 229.0 801.6 230.4 801.7 232.9 801.8 221.6 801.9 220.4 801.9 229.6 802.0 229.8 802.0 207.0 802.1 218.1 802.2 222.1 802.2 224.5 802.3 235.2 802.3 228.5 802.4 239.2 802.5 231.5 802.5 226.6 802.6 236.2 802.7 236.5 802.7 238.8 802.8 241.8 802.9 239.3 802.9 239.0 803.0 224.5 803.0 223.9 803.1 229.6 803.2 230.5 803.2 233.5 803.3 228.6 803.3 234.8 803.4 241.6 803.5 236.7 803.5 236.3 803.6 234.5 803.7 236.0 803.7 233.0 803.8 228.4 803.8 230.2 803.9 230.4 804.0 222.8 804.1 228.4 804.1 229.3 804.1 230.6 804.2 227.4 804.3 231.3 804.4 233.4 804.4 227.6 804.5 230.6 804.5 234.0 804.6 235.0 804.7 227.1 804.7 224.0 804.8 227.8 804.9 224.2 804.9 240.2 805.0 229.3 805.0 225.8 805.1 231.4 805.2 228.0 805.2 218.1 805.3 224.8 805.4 223.3 805.4 224.9 805.5 220.4 805.5 222.0 805.6 226.0 805.6 227.8 805.7 223.6 805.8 224.0 805.9 223.5 805.9 227.9 806.0 228.0 806.0 223.0 806.1 230.0 806.1 226.2 806.2 230.0 806.3 225.2 806.3 229.1 806.4 228.6 806.5 229.2 806.5 231.7 806.6 232.2 806.7 231.0 806.7 230.6 806.8 223.7 806.9 226.9 806.9 218.2 807.0 215.0 807.0 222.7 807.1 225.9 807.2 235.4 807.2 234.7 807.3 236.7 807.3 230.2 807.4 231.8 807.5 236.0 807.5 234.2 807.6 232.8 807.7 231.0 807.7 225.6 807.8 223.9 807.8 220.8 807.9 228.2 808.0 227.7 808.0 225.7 808.1 229.2 808.2 226.9 808.2 228.5 808.3 228.0 808.3 227.5 808.4 226.4 808.5 222.1 808.5 224.6 808.6 223.2 808.6 221.9 808.7 220.3 808.8 217.7 808.8 216.3 808.9 212.8 809.0 210.6 809.0 208.3 809.1 203.6 809.2 200.4 809.2 198.1 809.3 193.5 809.4 188.1 809.4 183.2 809.5 178.9 809.5 171.7 809.6 168.2 809.7 159.4 809.7 155.1 809.8 144.9 809.9 136.2 809.9 129.9 810.0 122.6 810.0 113.6 810.1 103.2 810.1 93.7 810.2 85.0 810.3 96.4 810.3 107.3 810.4 119.9 810.5 129.6 810.5 135.2 810.6 142.0 810.7 150.5 810.7 159.0 810.8 165.8 810.8 170.8 810.9 177.2 811.0 182.8 811.1 188.2 811.1 190.6 811.2 196.4 811.2 200.0 811.3 203.2 811.4 207.5 811.4 209.2 811.5 212.8 811.5 214.7 811.6 216.8 811.6 218.9 811.7 221.2 811.8 222.4 811.9 224.3 811.9 225.2 812.0 226.4 812.0 227.3 812.1 227.3 812.2 220.5 812.2 218.3 812.3 223.1 812.3 226.8 812.4 223.4 812.5 229.7 812.5 229.8 812.6 229.8 812.7 222.4 812.7 226.4 812.8 228.6 812.9 223.6 812.9 217.6 813.0 235.0 813.0 235.0 813.1 229.8 813.2 238.1 813.2 238.5 813.3 235.3 813.3 233.1 813.4 235.1 813.5 239.3 813.5 233.7 813.6 230.2 813.7 233.1 813.7 217.9 813.8 226.2 813.9 226.8 813.9 228.9 814.0 228.8 814.0 231.3 814.1 231.1 814.1 230.8 814.2 229.7 814.3 232.3 814.4 228.5 814.4 234.5 814.5 223.7 814.5 228.8 814.6 232.0 814.6 224.8 814.7 226.3 814.8 235.5 814.8 231.4 814.9 226.4 815.0 214.9 815.0 226.4 815.1 229.4 815.2 233.0 815.2 241.7 815.3 234.2 815.3 232.3 815.4 227.7 815.5 229.1 815.5 229.7 815.6 233.9 815.7 234.4 815.7 228.0 815.8 227.2 815.8 236.2 815.9 227.7 816.0 233.1 816.0 239.6 816.1 236.9 816.1 233.9 816.2 238.5 816.3 235.0 816.4 231.9 816.4 229.9 816.5 236.0 816.5 235.9 816.6 240.2 816.6 232.1 816.7 229.4 816.8 228.0 816.9 230.9 816.9 227.3 817.0 233.9 817.0 233.3 817.1 226.7 817.2 215.2 817.2 216.5 817.3 232.4 817.3 230.8 817.4 231.3 817.5 228.7 817.5 231.8 817.6 221.8 817.7 218.0 817.7 218.4 817.8 226.5 817.8 232.5 817.9 233.6 818.0 230.9 818.0 224.6 818.1 232.3 818.1 229.7 818.2 230.1 818.3 230.0 818.4 228.1 818.4 226.2 818.5 226.2 818.5 222.9 818.6 229.0 818.7 229.1 818.7 230.7 818.8 223.5 818.8 230.7 818.9 230.6 819.0 230.0 819.0 226.5 819.1 225.3 819.2 221.7 819.2 230.1 819.3 229.8 819.3 229.5 819.4 229.1 819.5 228.6 819.5 228.2 819.6 227.4 819.7 226.7 819.7 226.0 819.8 224.9 819.9 223.9 819.9 222.7 820.0 221.4 820.0 220.2 820.1 219.1 820.2 216.8 820.2 215.3 820.3 213.4 820.4 210.8 820.4 208.4 820.5 206.4 820.5 204.3 820.6 201.2 820.7 197.3 820.7 193.5 820.8 191.4 820.8 188.3 820.9 182.5 821.0 180.1 821.0 175.0 821.1 169.7 821.2 165.4 821.2 162.0 821.3 169.9 821.3 172.5 821.4 177.9 821.5 182.0 821.5 185.3 821.6 189.0 821.7 193.3 821.7 197.5 821.8 200.3 821.8 202.2 821.9 204.9 822.0 208.6 822.0 210.4 822.1 212.3 822.1 214.1 822.2 216.1 822.3 218.5 822.3 219.6 822.4 221.1 822.5 222.4 822.5 223.6 822.6 224.5 822.7 225.6 822.7 226.8 822.8 226.0 822.9 222.1 822.9 228.6 823.0 228.8 823.0 228.9 823.1 224.9 823.2 223.3 823.2 225.3 823.3 230.3 823.3 230.5 823.4 228.2 823.5 230.6 823.5 230.7 823.6 230.7 823.7 230.7 823.7 237.2 823.8 239.9 823.8 231.4 823.9 237.1 824.0 227.3 824.0 230.8 824.1 229.3 824.1 221.0 824.2 221.1 824.3 233.0 824.4 234.2 824.4 238.7 824.5 234.7 824.5 218.6 824.6 227.8 824.7 227.2 824.7 227.3 824.8 227.6 824.9 226.2 824.9 224.8 825.0 235.0 825.0 234.7 825.1 229.1 825.1 228.4 825.2 235.0 825.3 234.3 825.4 233.2 825.4 226.0 825.5 227.2 825.5 224.4 825.6 219.7 825.6 231.3 825.7 229.6 825.8 228.6 825.9 225.7 825.9 232.8 826.0 242.4 826.0 238.0 826.1 238.2 826.2 227.5 826.2 230.6 826.3 232.0 826.4 239.0 826.4 233.9 826.5 227.5 826.5 229.5 826.6 228.5 826.7 237.5 826.7 236.7 826.8 234.8 826.9 233.3 826.9 236.2 827.0 230.4 827.0 226.6 827.1 220.7 827.2 233.2 827.2 234.4 827.3 235.5 827.3 232.9 827.4 240.2 827.5 229.4 827.5 236.6 827.6 228.9 827.6 228.2 827.7 224.4 827.8 229.2 827.8 229.1 827.9 232.5 828.0 228.8 828.1 223.8 828.1 231.2 828.1 237.7 828.2 237.2 828.3 233.0 828.3 233.8 828.4 224.0 828.5 227.1 828.5 235.5 828.6 235.0 828.6 228.4 828.7 234.4 828.8 231.6 828.9 235.0 828.9 225.8 829.0 226.8 829.1 231.2 829.1 232.7 829.2 234.5 829.2 232.3 829.3 230.6 829.3 233.4 829.4 236.4 829.5 225.8 829.5 227.8 829.6 229.1 829.7 231.2 829.7 231.5 829.8 226.7 829.9 231.4 829.9 223.4 830.0 225.0 830.0 226.6 830.1 228.4 830.1 227.4 830.2 227.5 830.3 228.4 830.4 228.0 830.4 221.9 830.5 221.4 830.5 225.1 830.6 223.6 830.7 221.2 830.7 219.6 830.8 217.5 830.8 215.9 830.9 212.7 831.0 210.4 831.0 207.2 831.1 203.2 831.2 200.5 831.2 196.4 831.3 190.8 831.4 186.3 831.4 181.5 831.5 178.8 831.5 172.2 831.6 164.4 831.7 157.7 831.7 153.8 831.8 143.7 831.8 138.2 831.9 131.2 832.0 120.2 832.0 114.2 832.1 102.0 832.1 108.7 832.2 121.0 832.3 126.2 832.4 138.0 832.4 145.4 832.5 152.1 832.5 157.2 832.6 164.9 832.7 171.1 832.7 175.3 832.8 182.7 832.9 188.0 832.9 190.1 833.0 194.7 833.0 200.0 833.1 203.0 833.2 207.5 833.2 210.1 833.3 213.2 833.4 215.9 833.4 217.1 833.5 219.2 833.5 221.2 833.6 223.3 833.7 224.8 833.7 226.2 833.8 227.1 833.8 228.1 833.9 228.8 834.0 229.4 834.0 230.0 834.1 230.4 834.2 226.4 834.2 227.7 834.3 231.3 834.3 221.9 834.4 227.4 834.5 231.6 834.5 231.6 834.6 228.3 834.7 226.4 834.7 220.2 834.8 221.6 834.8 228.5 834.9 228.0 835.0 230.4 835.0 230.6 835.1 232.8 835.1 224.4 835.2 227.8 835.3 228.8 835.4 229.3 835.4 226.8 835.5 219.9 835.5 230.6 835.6 235.5 835.7 244.4 835.7 240.2 835.8 243.1 835.9 238.8 835.9 232.4 836.0 234.6 836.0 227.3 836.1 231.4 836.2 231.2 836.2 226.8 836.3 236.1 836.4 239.0 836.4 236.7 836.5 237.7 836.5 242.3 836.6 234.9 836.6 226.6 836.7 225.7 836.8 233.1 836.8 233.5 836.9 225.6 837.0 236.2 837.0 234.6 837.1 241.1 837.2 240.9 837.2 232.9 837.3 232.8 837.3 228.9 837.4 227.0 837.5 228.9 837.5 233.4 837.6 239.5 837.7 230.3 837.7 235.0 837.8 233.3 837.9 231.5 837.9 237.6 838.0 232.3 838.0 239.2 838.1 233.0 838.1 228.2 838.2 234.6 838.3 226.2 838.3 224.6 838.4 228.7 838.5 231.0 838.6 230.6 838.6 222.5 838.7 222.7 838.7 231.3 838.8 234.7 838.8 228.4 838.9 232.2 839.0 233.3 839.0 237.9 839.1 230.7 839.2 239.1 839.2 233.2 839.3 240.0 839.4 232.3 839.4 230.0 839.5 230.1 839.5 232.3 839.6 232.2 839.7 227.7 839.7 228.4 839.8 231.9 839.8 231.8 839.9 228.5 840.0 226.9 840.0 230.8 840.1 227.7 840.1 230.1 840.2 229.5 840.3 228.6 840.3 220.5 840.4 227.4 840.5 226.1 840.5 225.4 840.6 223.7 840.7 222.8 840.7 221.2 840.8 220.1 840.8 218.4 840.9 216.1 841.0 214.6 841.1 212.0 841.1 210.0 841.2 208.2 841.2 206.2 841.3 203.5 841.3 200.5 841.4 197.5 841.5 194.4 841.5 189.2 841.6 186.0 841.7 182.3 841.7 177.9 841.8 173.0 841.8 175.5 841.9 180.5 842.0 184.6 842.0 188.8 842.1 191.9 842.2 194.8 842.2 197.4 842.3 201.1 842.3 203.3 842.4 206.0 842.5 208.6 842.5 211.6 842.6 213.6 842.7 215.3 842.7 217.8 842.8 219.2 842.8 220.3 842.9 222.0 843.0 223.5 843.0 224.8 843.1 225.9 843.2 226.9 843.2 227.6 843.3 228.6 843.3 227.9 843.4 225.9 843.5 230.2 843.5 230.6 843.6 231.1 843.7 231.4 843.7 231.6 843.8 231.8 843.8 232.0 843.9 232.1 844.0 232.2 844.0 232.3 844.1 232.3 844.2 232.3 844.2 232.3 844.3 232.3 844.3 231.6 844.4 235.9 844.5 240.2 844.5 239.5 844.6 241.3 844.7 235.5 844.7 232.5 844.8 236.0 844.9 237.3 844.9 242.9 845.0 244.2 845.0 227.9 845.1 234.9 845.2 230.3 845.2 222.1 845.3 230.9 845.4 231.3 845.4 230.6 845.5 226.0 845.5 225.7 845.6 229.3 845.7 224.6 845.7 229.4 845.8 232.1 845.9 231.8 845.9 233.9 846.0 232.8 846.0 227.4 846.1 226.0 846.2 231.0 846.2 237.0 846.3 235.0 846.3 231.1 846.4 233.0 846.5 224.4 846.5 225.2 846.6 228.4 846.7 230.9 846.7 230.6 846.8 230.8 846.9 226.5 846.9 227.9 847.0 232.2 847.0 224.0 847.1 224.1 847.2 228.1 847.2 238.5 847.3 238.2 847.3 242.7 847.4 243.1 847.5 234.1 847.5 232.9 847.6 227.4 847.6 236.7 847.7 237.9 847.8 237.6 847.9 237.9 847.9 237.0 848.0 235.3 848.0 235.1 848.1 239.8 848.2 231.4 848.2 227.5 848.3 231.0 848.3 233.2 848.4 233.2 848.5 232.9 848.5 233.0 848.6 232.7 848.7 224.7 848.7 225.3 848.8 220.5 848.9 227.6 848.9 229.0 849.0 229.9 849.0 229.2 849.1 228.4 849.1 227.2 849.2 225.6 849.3 219.3 849.3 222.6 849.4 220.9 849.5 218.3 849.5 217.0 849.6 213.2 849.6 211.9 849.7 208.0 849.8 204.7 849.8 201.7 849.9 198.7 850.0 194.8 850.0 189.0 850.1 185.4 850.2 179.2 850.2 172.8 850.3 168.1 850.3 164.1 850.4 156.9 850.5 148.5 850.5 141.0 850.6 133.4 850.7 125.6 850.7 122.0 850.8 134.9 850.8 140.1 850.9 147.9 851.0 152.7 851.1 162.6 851.1 166.6 851.1 171.7 851.2 178.0 851.3 183.2 851.3 186.9 851.4 192.9 851.5 195.9 851.5 200.2 851.6 204.7 851.7 207.3 851.7 210.7 851.8 213.1 851.9 215.9 851.9 218.4 852.0 220.6 852.0 221.4 852.1 223.3 852.1 224.8 852.2 226.5 852.3 227.9 852.4 228.9 852.4 229.9 852.5 230.7 852.5 226.6 852.6 228.8 852.7 232.1 852.7 232.4 852.8 232.7 852.8 232.9 852.9 233.1 853.0 233.2 853.0 233.2 853.1 231.5 853.1 233.3 853.2 236.7 853.3 245.1 853.3 241.4 853.4 233.4 853.5 237.3 853.5 234.3 853.6 242.9 853.7 229.1 853.7 229.6 853.8 229.7 853.8 233.6 853.9 233.7 854.0 226.8 854.0 223.0 854.1 231.6 854.2 241.4 854.2 244.9 854.3 236.3 854.3 237.9 854.4 231.7 854.5 226.9 854.5 238.4 854.6 239.8 854.6 235.0 854.7 233.2 854.8 239.3 854.8 238.3 854.9 234.5 855.0 236.5 855.0 235.6 855.1 233.3 855.2 231.1 855.2 238.7 855.3 234.0 855.4 229.2 855.4 242.7 855.5 244.7 855.5 241.5 855.6 237.2 855.7 237.1 855.7 228.9 855.8 233.1 855.8 236.1 855.9 234.7 856.0 237.6 856.0 232.4 856.1 235.4 856.2 227.8 856.2 232.7 856.3 231.6 856.3 227.7 856.4 230.9 856.5 234.1 856.5 232.2 856.6 236.2 856.7 233.4 856.7 236.1 856.8 236.1 856.8 234.5 856.9 235.9 857.0 231.4 857.0 235.6 857.1 235.5 857.2 235.1 857.2 229.5 857.3 227.8 857.4 228.9 857.4 233.4 857.5 233.1 857.5 232.2 857.6 231.5 857.6 230.8 857.7 227.8 857.8 228.5 857.8 227.5 857.9 225.9 858.0 225.1 858.0 223.1 858.1 221.5 858.2 219.4 858.2 217.9 858.3 216.3 858.3 213.9 858.4 210.9 858.5 208.3 858.5 206.6 858.6 203.8 858.7 199.9 858.7 196.0 858.8 193.3 858.8 190.3 858.9 184.8 859.0 182.9 859.0 180.0 859.1 187.1 859.2 189.6 859.2 194.2 859.3 197.4 859.3 200.3 859.4 203.6 859.5 205.8 859.5 209.3 859.6 210.8 859.6 213.1 859.7 215.6 859.8 217.9 859.8 219.7 859.9 221.9 860.0 223.2 860.0 224.6 860.1 225.8 860.1 227.2 860.2 228.7 860.3 226.3 860.3 230.4 860.4 231.5 860.5 232.4 860.5 233.0 860.6 233.6 860.7 221.5 860.7 230.5 860.8 231.1 860.9 234.4 860.9 233.5 861.0 235.6 861.0 235.8 861.1 235.9 861.2 236.0 861.2 236.1 861.3 236.1 861.4 233.1 861.4 228.3 861.5 236.2 861.5 229.9 861.6 239.5 861.7 239.9 861.7 235.1 861.8 233.1 861.9 238.4 861.9 238.5 862.0 241.9 862.0 238.9 862.1 235.2 862.2 239.5 862.2 231.9 862.3 240.1 862.3 238.6 862.4 232.1 862.5 230.3 862.5 233.3 862.6 226.7 862.7 241.3 862.7 244.4 862.8 234.0 862.8 235.7 862.9 246.7 863.0 243.1 863.0 234.1 863.1 225.3 863.1 224.8 863.2 239.5 863.3 240.2 863.3 231.7 863.4 239.5 863.5 236.4 863.5 233.8 863.6 233.7 863.6 233.9 863.7 246.1 863.8 235.5 863.9 234.9 863.9 244.6 864.0 249.2 864.0 236.3 864.1 249.5 864.1 248.6 864.2 233.5 864.3 247.0 864.4 233.1 864.4 238.9 864.5 232.7 864.5 226.9 864.6 238.7 864.7 238.8 864.7 238.6 864.8 238.5 864.8 238.1 864.9 236.8 865.0 232.1 865.0 236.8 865.1 236.4 865.2 235.5 865.2 234.8 865.3 233.4 865.4 229.4 865.4 231.5 865.5 229.8 865.5 227.8 865.6 225.6 865.6 224.3 865.7 221.2 865.8 218.5 865.9 215.5 865.9 212.9 866.0 210.4 866.0 205.7 866.1 202.0 866.1 198.5 866.2 192.7 866.3 188.8 866.4 181.4 866.4 177.6 866.5 169.8 866.5 163.4 866.6 157.9 866.7 149.3 866.7 143.1 866.8 135.6 866.9 126.1 866.9 120.0 867.0 127.5 867.0 139.6 867.1 145.2 867.2 154.3 867.2 159.9 867.3 167.0 867.3 172.3 867.4 180.1 867.5 185.4 867.5 188.2 867.6 194.0 867.7 199.0 867.7 201.8 867.8 206.8 867.9 211.2 867.9 213.8 868.0 217.4 868.0 218.8 868.1 222.4 868.1 223.8 868.2 226.6 868.3 228.8 868.3 229.6 868.4 231.6 868.5 233.1 868.6 234.2 868.6 235.1 868.6 235.7 868.7 236.6 868.8 237.2 868.9 237.7 868.9 237.9 869.0 238.4 869.0 238.5 869.1 238.7 869.2 238.8 869.2 238.9 869.3 238.9 869.3 238.9 869.4 233.1 869.5 243.3 869.5 246.6 869.6 247.5 869.7 241.4 869.7 242.8 869.8 240.6 869.8 245.6 869.9 241.9 870.0 245.7 870.0 234.4 870.1 236.3 870.2 223.2 870.2 233.4 870.3 242.4 870.3 239.5 870.4 254.9 870.5 239.3 870.5 238.1 870.6 234.5 870.7 235.6 870.7 236.1 870.8 230.8 870.8 231.7 870.9 249.9 871.0 242.2 871.0 246.9 871.1 235.5 871.2 238.2 871.2 243.1 871.3 240.5 871.4 237.8 871.4 238.7 871.5 240.2 871.6 245.9 871.6 242.1 871.7 236.5 871.7 228.0 871.8 235.3 871.8 239.0 871.9 242.0 872.0 241.9 872.0 239.8 872.1 241.6 872.1 241.5 872.2 233.2 872.3 241.1 872.4 240.7 872.4 240.4 872.5 233.3 872.5 236.8 872.6 239.1 872.6 238.4 872.7 237.8 872.8 237.0 872.8 236.0 872.9 235.3 873.0 234.0 873.1 232.5 873.1 231.3 873.1 230.5 873.2 228.6 873.3 227.5 873.4 224.8 873.4 223.1 873.5 221.3 873.5 219.2 873.6 217.1 873.7 214.6 873.7 212.8 873.8 208.5 873.8 207.0 873.9 203.8 874.0 200.7 874.1 195.9 874.1 193.0 874.2 196.9 874.2 200.2 874.3 203.6 874.3 205.9 874.4 208.7 874.5 211.9 874.6 215.1 874.6 216.9 874.7 218.8 874.7 220.8 874.8 222.8 874.8 225.0 874.9 227.0 875.0 228.3 875.0 230.0 875.1 231.3 875.2 232.8 875.2 233.7 875.3 235.1 875.3 232.9 875.4 236.3 875.5 231.3 875.5 238.3 875.6 239.0 875.7 238.6 875.7 240.0 875.8 240.3 875.8 240.7 875.9 241.0 876.0 241.3 876.0 241.4 876.1 241.7 876.2 241.8 876.2 241.5 876.3 235.7 876.3 242.0 876.4 240.3 876.5 240.7 876.5 242.1 876.6 242.1 876.7 250.9 876.7 239.4 876.8 246.7 876.8 237.0 876.9 232.7 877.0 233.9 877.0 240.8 877.1 238.8 877.2 234.1 877.2 247.6 877.3 239.4 877.4 241.6 877.4 244.5 877.5 241.3 877.5 245.1 877.6 248.2 877.7 244.8 877.7 250.8 877.8 242.7 877.9 237.5 877.9 242.9 878.0 238.1 878.0 244.1 878.1 243.5 878.1 241.2 878.2 246.7 878.3 248.5 878.4 228.7 878.4 237.0 878.5 242.5 878.5 245.3 878.6 242.0 878.6 237.0 878.7 242.5 878.8 244.5 878.8 233.8 878.9 232.2 879.0 236.9 879.0 227.1 879.1 235.0 879.2 240.2 879.2 238.9 879.3 237.9 879.3 236.5 879.4 233.8 879.5 232.8 879.5 229.7 879.6 227.6 879.7 225.2 879.7 223.0 879.8 219.7 879.8 215.3 879.9 212.0 880.0 207.4 880.0 204.5 880.1 198.8 880.1 194.9 880.2 188.8 880.3 181.7 880.3 177.3 880.4 170.1 880.5 160.9 880.5 155.0 880.6 148.7 880.6 141.3 880.7 131.5 880.8 119.0 880.8 125.6 880.9 132.8 881.0 145.4 881.0 151.5 881.1 159.5 881.2 166.5 881.2 170.7 881.3 180.1 881.3 185.1 881.4 190.9 881.5 196.6 881.5 199.4 881.6 205.3 881.7 209.8 881.7 212.8 881.8 218.1 881.8 220.3 881.9 223.5 882.0 226.4 882.0 228.9 882.1 230.8 882.2 233.4 882.2 235.5 882.3 235.9 882.3 238.2 882.4 239.6 882.5 240.5 882.5 241.7 882.6 242.5 882.6 242.6 882.7 243.8 882.8 244.3 882.8 244.6 882.9 244.8 883.0 245.1 883.0 245.2 883.1 245.3 883.2 245.4 883.2 242.2 883.3 244.3 883.3 236.1 883.4 242.6 883.5 244.6 883.5 242.9 883.6 232.5 883.7 229.3 883.7 244.8 883.8 240.6 883.9 253.3 883.9 244.8 884.0 248.5 884.0 239.0 884.1 240.5 884.2 243.5 884.2 248.4 884.3 248.4 884.3 248.4 884.4 242.0 884.5 245.4 884.5 245.7 884.6 243.0 884.7 248.2 884.7 248.1 884.8 248.0 884.8 247.9 884.9 247.8 885.0 245.0 885.0 247.4 885.1 247.1 885.2 246.8 885.2 246.5 885.3 246.3 885.4 245.8 885.4 245.3 885.5 244.9 885.6 244.2 885.6 243.6 885.7 243.0 885.7 240.0 885.8 240.6 885.9 238.1 885.9 240.1 886.0 237.6 886.1 237.7 886.1 236.7 886.2 235.7 886.2 234.4 886.3 233.1 886.3 231.8 886.4 229.8 886.5 228.4 886.5 226.8 886.6 224.9 886.7 223.3 886.7 222.0 886.8 224.6 886.8 226.2 886.9 227.9 887.0 229.4 887.0 231.0 887.1 232.9 887.1 233.6 887.2 235.3 887.3 235.3 887.4 237.8 887.4 238.4 887.5 239.4 887.6 240.8 887.6 241.5 887.7 242.2 887.7 237.9 887.8 237.5 887.8 244.1 887.9 244.8 888.0 245.0 888.0 245.6 888.1 246.1 888.1 246.4 888.2 246.7 888.3 241.4 888.4 237.0 888.4 247.5 888.5 247.7 888.5 247.9 888.6 240.8 888.6 248.1 888.7 248.2 888.8 248.2 888.9 248.3 888.9 248.3 889.0 248.3 889.0 248.3 889.1 248.4 889.2 248.4 889.2 249.2 889.3 252.4 889.4 251.7 889.4 238.6 889.5 246.4 889.5 240.1 889.6 241.3 889.6 236.9 889.7 250.2 889.8 248.0 889.8 247.0 889.9 256.8 890.0 256.9 890.0 251.0 890.1 237.9 890.2 249.7 890.2 248.3 890.3 247.3 890.3 253.7 890.4 247.5 890.5 248.7 890.5 255.3 890.6 255.6 890.7 248.2 890.7 250.6 890.8 250.6 890.9 250.5 890.9 250.4 891.0 250.2 891.0 250.0 891.1 249.7 891.2 249.1 891.2 248.6 891.3 248.2 891.3 245.8 891.4 244.9 891.5 245.3 891.5 244.2 891.6 241.3 891.6 241.7 891.7 239.6 891.8 237.0 891.8 235.9 891.9 233.1 892.0 230.4 892.0 228.1 892.1 223.4 892.2 220.3 892.2 216.5 892.3 214.1 892.4 207.7 892.4 203.3 892.5 198.2 892.5 193.7 892.6 188.1 892.7 182.3 892.7 176.3 892.8 166.7 892.8 161.9 892.9 153.2 893.0 146.2 893.1 134.1 893.1 127.0 893.1 134.1 893.2 142.3 893.3 152.3 893.3 159.5 893.4 168.3 893.5 173.5 893.5 181.0 893.6 187.1 893.6 191.5 893.7 198.3 893.8 204.6 893.9 208.7 893.9 213.1 894.0 217.1 894.0 219.5 894.1 224.5 894.2 226.7 894.2 230.1 894.3 232.7 894.4 235.2 894.4 236.9 894.5 238.9 894.5 240.6 894.6 242.5 894.7 244.4 894.7 245.4 894.8 246.2 894.8 247.1 894.9 247.8 895.0 244.2 895.0 249.1 895.1 249.7 895.1 249.9 895.2 250.2 895.3 250.3 895.3 245.7 895.4 245.9 895.5 250.6 895.5 250.6 895.6 251.6 895.7 248.2 895.7 245.7 895.8 251.3 895.8 251.5 895.9 251.4 896.0 246.3 896.0 239.9 896.1 251.0 896.2 247.6 896.2 245.1 896.3 245.0 896.3 250.1 896.4 248.2 896.5 249.3 896.5 248.8 896.6 245.7 896.6 247.8 896.7 244.0 896.8 246.0 896.8 245.5 896.9 244.5 897.0 243.7 897.0 242.4 897.1 241.5 897.1 240.3 897.2 238.4 897.3 236.1 897.4 235.6 897.4 233.8 897.5 232.6 897.5 230.8 897.6 228.2 897.6 226.6 897.7 223.1 897.8 221.1 897.8 218.9 897.9 216.4 898.0 214.2 898.0 212.0 898.1 215.7 898.1 218.5 898.2 222.2 898.3 223.7 898.4 226.8 898.4 229.0 898.5 230.7 898.5 232.3 898.6 234.0 898.7 236.2 898.7 236.9 898.8 238.8 898.9 240.5 898.9 241.5 899.0 242.5 899.0 243.6 899.1 244.9 899.2 245.7 899.2 246.5 899.3 247.2 899.3 247.7 899.4 248.2 899.5 248.8 899.5 249.2 899.6 249.7 899.7 250.2 899.7 250.4 899.8 245.5 899.8 250.8 899.9 245.8 900.0 242.7 900.0 239.5 900.1 237.9 900.2 251.5 900.2 251.6 900.3 251.6 900.3 251.6 900.4 251.6 900.5 250.1 900.5 245.1 900.6 255.0 900.7 259.6 900.7 264.8 900.8 250.8 900.9 250.1 900.9 243.5 901.0 257.3 901.0 259.7 901.1 259.0 901.1 254.5 901.2 252.0 901.3 250.1 901.4 260.0 901.4 250.6 901.5 258.6 901.5 256.9 901.6 247.6 901.7 242.2 901.7 244.3 901.8 249.4 901.9 243.8 901.9 253.4 902.0 261.8 902.0 260.1 902.1 244.5 902.2 235.9 902.2 251.8 902.3 263.9 902.4 253.4 902.4 257.0 902.5 252.1 902.5 248.6 902.6 258.6 902.7 250.9 902.7 258.5 902.8 268.2 902.8 257.1 902.9 268.9 903.0 249.2 903.0 258.3 903.1 254.7 903.2 271.8 903.2 260.3 903.3 250.0 903.3 264.2 903.4 246.7 903.5 253.4 903.5 248.4 903.6 261.6 903.7 255.1 903.7 260.3 903.8 255.1 903.8 246.8 903.9 237.9 904.0 259.9 904.0 257.1 904.1 247.1 904.2 248.9 904.2 140.0 904.3 196.3 904.3 267.2 904.4 255.9 904.5 251.5 904.5 262.2 904.6 257.8 904.7 248.2 904.7 257.9 904.8 258.1 904.8 263.4 904.9 250.2 905.0 245.3 905.0 254.3 905.1 250.7 905.2 239.3 905.2 244.6 905.3 254.0 905.3 248.9 905.4 260.9 905.5 252.1 905.5 252.0 905.6 242.9 905.7 244.7 905.7 248.9 905.8 255.5 905.9 255.3 905.9 261.9 906.0 242.4 906.1 249.4 906.1 250.8 906.2 246.0 906.2 250.3 906.3 247.6 906.4 253.8 906.4 251.1 906.5 256.0 906.5 248.4 906.6 260.6 906.7 258.7 906.7 268.7 906.8 257.5 906.9 251.3 906.9 253.3 907.0 250.3 907.0 245.9 907.1 250.7 907.2 251.8 907.2 248.8 907.3 249.3 907.3 246.0 907.4 251.5 907.5 244.5 907.5 262.2 907.6 256.5 907.6 261.5 907.7 248.3 907.8 253.6 907.9 252.5 907.9 260.3 908.0 262.3 908.0 245.9 908.1 258.7 908.1 245.8 908.2 260.1 908.3 255.2 908.4 246.7 908.4 255.7 908.5 254.4 908.5 247.7 908.6 246.9 908.6 254.1 908.7 245.3 908.8 245.4 908.8 263.8 908.9 251.7 909.0 255.4 909.0 257.4 909.1 262.0 909.2 263.0 909.2 241.0 909.3 246.2 909.4 259.1 909.4 250.3 909.5 265.7 909.5 259.6 909.6 247.9 909.7 255.3 909.7 268.7 909.8 253.8 909.8 257.8 909.9 249.4 910.0 207.0 910.0 230.2 910.1 256.9 910.1 257.4 910.2 256.5 910.3 271.8 910.3 252.4 910.4 242.0 910.5 252.9 910.5 254.7 910.6 245.3 910.7 262.9 910.7 252.0 910.8 244.6 910.8 253.0 910.9 258.2 911.0 271.8 911.0 249.9 911.1 244.7 911.1 248.9 911.2 249.4 911.3 251.8 911.4 248.8 911.4 242.7 911.5 247.2 911.5 256.2 911.6 260.5 911.6 251.8 911.7 256.9 911.8 258.0 911.9 252.0 911.9 251.1 912.0 253.2 912.0 271.8 912.1 262.2 912.2 250.9 912.2 251.9 912.3 249.9 912.4 260.6 912.4 242.8 912.5 243.5 912.5 255.6 912.6 257.6 912.6 255.5 912.7 259.8 912.8 247.7 912.9 254.0 912.9 247.1 913.0 243.9 913.1 253.5 913.1 249.1 913.2 250.2 913.2 257.0 913.3 248.6 913.4 256.3 913.4 271.3 913.5 258.7 913.5 262.8 913.6 262.8 913.6 249.0 913.7 244.1 913.8 250.7 913.9 240.1 913.9 249.5 914.0 254.2 914.0 257.6 914.1 258.7 914.1 265.5 914.2 255.8 914.3 177.0 914.3 215.6 914.4 260.8 914.5 255.5 914.5 261.7 914.6 252.0 914.6 258.7 914.7 264.0 914.8 253.2 914.8 248.2 914.9 247.7 915.0 251.8 915.0 256.0 915.1 261.4 915.2 270.6 915.2 271.8 915.3 262.6 915.4 254.6 915.4 247.3 915.5 257.5 915.5 259.3 915.6 254.3 915.7 253.5 915.7 253.5 915.8 238.6 915.9 248.7 915.9 254.5 916.0 253.8 916.0 247.9 916.1 252.6 916.2 257.3 916.2 268.4 916.3 267.1 916.3 263.3 916.4 257.3 916.5 247.4 916.5 249.3 916.6 244.6 916.7 250.5 916.7 260.6 916.8 264.3 916.8 264.5 916.9 258.4 917.0 263.1 917.0 255.8 917.1 243.3 917.1 251.6 917.2 253.9 917.3 244.0 917.4 247.8 917.4 237.6 917.5 245.9 917.5 259.8 917.6 252.4 917.7 263.2 917.7 259.4 917.8 251.8 917.8 243.1 917.9 255.4 918.0 259.8 918.0 247.4 918.1 249.7 918.2 260.6 918.2 252.1 918.3 256.6 918.4 243.7 918.4 245.4 918.5 256.2 918.5 248.2 918.6 243.9 918.7 242.7 918.7 248.4 918.8 243.2 918.8 250.2 918.9 257.0 919.0 266.4 919.1 215.3 919.1 235.1 919.1 263.1 919.2 256.4 919.3 259.2 919.4 267.1 919.4 269.7 919.5 265.5 919.5 258.1 919.6 262.0 919.7 259.1 919.7 257.7 919.8 257.9 919.8 268.7 919.9 252.1 920.0 253.6 920.0 248.1 920.1 258.4 920.2 264.1 920.2 267.8 920.3 257.3 920.4 256.4 920.4 261.1 920.5 258.7 920.5 258.7 920.6 258.0 920.7 258.3 920.7 255.8 920.8 258.8 920.8 247.7 920.9 250.4 921.0 245.8 921.0 251.7 921.1 249.9 921.2 257.2 921.2 265.1 921.3 251.1 921.3 249.5 921.4 255.7 921.5 266.0 921.5 264.9 921.6 262.3 921.6 257.8 921.7 253.9 921.8 258.0 921.8 260.3 921.9 258.8 922.0 253.4 922.0 245.5 922.1 247.3 922.2 250.8 922.2 247.3 922.3 255.1 922.4 247.3 922.4 251.3 922.5 256.8 922.5 262.3 922.6 260.3 922.7 266.3 922.7 255.8 922.8 251.6 922.8 262.3 922.9 252.9 923.0 254.4 923.0 245.3 923.1 260.0 923.2 263.0 923.2 254.0 923.3 245.1 923.3 254.2 923.4 257.7 923.5 265.4 923.5 273.0 923.6 172.0 923.6 214.3 923.7 255.8 923.8 254.7 923.8 247.8 923.9 248.3 924.0 253.4 924.0 245.7 924.1 245.1 924.1 260.9 924.2 254.1 924.3 261.7 924.3 266.6 924.4 260.6 924.5 264.4 924.5 258.5 924.6 252.3 924.7 254.9 924.7 256.9 924.8 258.1 924.9 258.2 924.9 255.3 925.0 264.2 925.0 258.5 925.1 255.3 925.2 263.4 925.2 253.2 925.3 256.1 925.3 267.7 925.4 261.7 925.5 269.4 925.5 260.1 925.6 255.4 925.6 256.0 925.7 253.8 925.8 254.3 925.8 254.0 925.9 262.2 926.0 262.4 926.0 258.1 926.1 253.5 926.2 275.5 926.2 264.3 926.3 270.5 926.3 254.6 926.4 252.5 926.5 264.9 926.5 253.5 926.6 250.1 926.7 255.1 926.7 252.8 926.8 254.7 926.8 258.1 926.9 264.7 927.0 262.1 927.0 262.0 927.1 269.5 927.2 272.8 927.2 261.1 927.3 248.0 927.4 248.8 927.4 262.5 927.5 256.9 927.5 253.8 927.6 254.3 927.7 268.7 927.7 262.8 927.8 257.7 927.9 254.2 927.9 225.9 928.0 242.2 928.0 264.8 928.1 262.3 928.2 258.0 928.2 266.6 928.3 255.1 928.4 245.9 928.4 251.0 928.5 258.4 928.5 275.7 928.6 264.5 928.6 255.5 928.7 256.6 928.8 253.6 928.9 252.5 928.9 257.6 929.0 261.0 929.0 255.8 929.1 266.2 929.2 261.4 929.2 261.1 929.3 256.9 929.3 261.3 929.4 263.4 929.5 266.0 929.5 256.5 929.6 263.2 929.7 257.3 929.7 259.6 929.8 265.4 929.8 273.3 929.9 261.3 930.0 253.5 930.0 258.6 930.1 268.7 930.2 260.7 930.2 277.9 930.3 253.8 930.4 268.9 930.4 272.1 930.5 272.8 930.5 258.7 930.6 270.0 930.6 272.6 930.7 274.2 930.8 263.6 930.9 259.8 930.9 270.1 931.0 266.6 931.0 260.0 931.1 255.2 931.2 260.4 931.2 252.1 931.3 261.5 931.3 262.2 931.4 251.4 931.5 260.3 931.5 269.8 931.6 265.9 931.7 253.9 931.7 254.6 931.8 264.7 931.9 253.8 931.9 256.1 932.0 267.7 932.0 261.2 932.1 164.0 932.2 212.2 932.2 275.1 932.3 269.1 932.3 255.0 932.4 248.9 932.5 255.3 932.5 247.8 932.6 256.0 932.6 266.0 932.7 245.9 932.8 254.8 932.8 261.1 932.9 257.8 933.0 263.0 933.0 265.8 933.1 271.1 933.1 279.7 933.2 272.5 933.3 258.9 933.3 254.1 933.4 251.2 933.5 262.7 933.5 264.7 933.6 266.4 933.7 264.9 933.7 275.2 933.8 275.0 933.8 274.3 933.9 261.0 934.0 259.5 934.0 252.7 934.1 254.5 934.2 259.9 934.2 253.4 934.3 254.9 934.4 274.8 934.4 265.1 934.5 253.3 934.5 251.1 934.6 257.7 934.7 266.9 934.7 263.2 934.8 269.3 934.9 267.2 934.9 256.5 935.0 268.0 935.0 261.0 935.1 276.6 935.1 262.8 935.2 261.5 935.3 258.6 935.3 259.4 935.4 264.8 935.5 261.9 935.5 271.7 935.6 269.2 935.6 277.4 935.7 268.4 935.8 274.9 935.8 276.5 935.9 266.5 936.0 281.4 936.0 281.5 936.1 274.0 936.2 222.3 936.2 242.3 936.3 261.9 936.4 264.9 936.4 256.3 936.5 261.1 936.5 258.5 936.6 274.5 936.7 273.3 936.7 280.1 936.8 281.9 936.8 275.9 936.9 282.0 937.0 273.7 937.0 272.1 937.1 259.8 937.2 262.7 937.2 274.8 937.3 271.5 937.3 263.5 937.4 263.7 937.5 258.9 937.5 257.7 937.6 252.4 937.6 267.8 937.7 274.1 937.8 266.6 937.8 256.0 937.9 259.6 938.0 278.3 938.0 259.4 938.1 259.1 938.2 259.3 938.2 268.5 938.3 257.1 938.4 263.3 938.4 258.5 938.5 259.9 938.5 254.9 938.6 264.5 938.7 261.1 938.7 259.3 938.8 271.1 938.8 269.6 938.9 283.2 939.0 275.3 939.0 269.0 939.1 267.2 939.2 283.4 939.2 282.9 939.3 268.8 939.3 268.8 939.4 262.4 939.5 269.2 939.5 262.6 939.6 260.4 939.7 266.6 939.7 276.5 939.8 276.0 939.9 274.9 939.9 268.9 940.0 250.4 940.0 165.0 940.1 214.5 940.2 267.9 940.2 280.4 940.3 276.7 940.3 256.9 940.4 262.3 940.5 262.5 940.5 270.0 940.6 266.4 940.7 253.0 940.7 255.0 940.8 259.5 940.9 249.9 940.9 259.0 941.0 261.1 941.0 272.2 941.1 266.8 941.2 261.5 941.2 263.0 941.3 264.5 941.3 273.0 941.4 261.1 941.5 249.2 941.5 280.8 941.6 276.9 941.6 269.7 941.7 284.6 941.8 263.8 941.8 259.6 941.9 260.5 942.0 267.3 942.0 262.9 942.1 270.8 942.1 264.5 942.2 275.8 942.3 272.9 942.3 256.7 942.4 262.2 942.5 256.9 942.5 261.6 942.6 264.1 942.7 283.4 942.7 269.9 942.8 256.3 942.9 263.0 942.9 257.1 943.0 276.9 943.0 275.5 943.1 282.0 943.1 268.2 943.2 259.6 943.3 265.5 943.3 256.7 943.4 256.3 943.5 257.5 943.5 261.9 943.6 254.5 943.7 248.5 943.7 270.0 943.8 213.7 943.8 239.6 943.9 269.9 944.0 271.0 944.0 263.1 944.1 262.1 944.1 277.6 944.2 280.5 944.3 277.4 944.4 283.8 944.4 258.8 944.5 264.5 944.5 263.8 944.6 252.9 944.7 263.8 944.7 270.7 944.8 270.1 944.9 255.7 944.9 261.3 945.0 266.1 945.0 264.8 945.1 268.3 945.2 271.4 945.2 280.1 945.3 273.4 945.4 286.0 945.4 277.1 945.5 272.9 945.5 275.5 945.6 269.4 945.6 265.4 945.7 276.7 945.8 255.7 945.9 251.5 945.9 277.5 946.0 276.9 946.0 275.1 946.1 272.5 946.1 271.5 946.2 262.2 946.3 263.6 946.4 259.3 946.4 273.5 946.5 274.8 946.5 272.1 946.6 272.4 946.7 268.2 946.7 260.1 946.8 278.5 946.9 276.8 946.9 269.5 947.0 273.3 947.0 280.2 947.1 281.9 947.2 278.2 947.2 278.3 947.3 269.7 947.4 279.7 947.4 175.0 947.5 221.0 947.5 262.7 947.6 271.1 947.7 274.7 947.7 277.0 947.8 253.4 947.9 250.7 947.9 263.7 948.0 260.3 948.0 267.9 948.1 267.3 948.2 274.9 948.2 266.2 948.3 260.4 948.3 269.1 948.4 266.4 948.5 259.7 948.5 252.2 948.6 287.1 948.7 271.8 948.7 267.4 948.8 255.0 948.8 256.8 948.9 263.1 949.0 268.7 949.0 274.8 949.1 265.0 949.2 270.9 949.2 278.7 949.3 267.7 949.3 267.6 949.4 256.2 949.5 258.6 949.5 255.8 949.6 268.4 949.6 267.1 949.7 281.1 949.8 274.5 949.8 277.2 949.9 275.8 950.0 272.8 950.0 262.6 950.1 279.7 950.1 271.8 950.2 257.3 950.3 260.8 950.4 258.6 950.4 274.1 950.5 279.4 950.5 285.2 950.6 288.1 950.7 271.8 950.7 257.1 950.8 258.5 950.9 267.9 950.9 250.7 951.0 241.1 951.0 254.7 951.1 263.9 951.2 266.4 951.2 262.0 951.3 280.6 951.3 288.4 951.4 267.9 951.5 263.1 951.5 267.9 951.6 274.6 951.6 274.8 951.7 276.9 951.8 280.5 951.9 283.8 951.9 288.6 952.0 278.9 952.1 269.5 952.1 269.6 952.1 288.7 952.2 284.2 952.3 281.5 952.4 285.9 952.4 286.6 952.5 288.9 952.5 273.1 952.6 273.5 952.6 278.3 952.7 280.6 952.8 271.2 952.8 260.0 952.9 265.2 953.0 264.2 953.0 267.8 953.1 279.1 953.2 279.8 953.2 265.6 953.3 264.0 953.3 269.8 953.4 280.2 953.5 273.8 953.5 273.9 953.6 261.5 953.7 264.2 953.7 263.2 953.8 269.4 953.8 268.4 953.9 264.0 954.0 261.1 954.0 268.6 954.1 265.6 954.2 278.1 954.2 274.6 954.3 269.8 954.4 278.0 954.4 187.0 954.5 228.4 954.5 267.1 954.6 275.3 954.7 267.3 954.7 263.1 954.8 255.7 954.8 265.6 954.9 272.5 955.0 261.8 955.0 281.7 955.1 274.4 955.2 264.1 955.2 284.2 955.3 272.0 955.4 283.4 955.4 255.4 955.5 282.1 955.5 276.3 955.6 272.7 955.7 274.1 955.7 264.0 955.8 275.6 955.9 276.2 955.9 275.4 956.0 268.2 956.0 262.2 956.1 270.2 956.2 277.5 956.2 274.4 956.3 270.5 956.4 267.3 956.4 275.4 956.5 284.7 956.6 274.5 956.6 266.3 956.6 289.6 956.7 265.8 956.8 270.9 956.9 270.3 956.9 281.8 957.0 273.7 957.0 260.8 957.1 260.0 957.1 268.0 957.2 269.9 957.3 266.4 957.3 265.8 957.4 259.1 957.5 257.2 957.5 262.2 957.6 263.6 957.7 267.7 957.7 262.3 957.8 280.5 957.8 262.4 957.9 274.8 958.0 277.3 958.0 286.9 958.1 288.6 958.2 267.6 958.2 273.0 958.3 278.7 958.4 282.2 958.4 279.9 958.5 186.0 958.5 228.7 958.6 274.7 958.7 269.5 958.7 272.7 958.8 269.3 958.8 266.8 958.9 271.1 959.0 291.5 959.0 282.6 959.1 276.7 959.2 270.5 959.2 274.7 959.3 265.2 959.3 273.5 959.4 275.2 959.5 274.3 959.5 277.2 959.6 272.7 959.7 278.3 959.7 279.2 959.8 279.7 959.8 275.3 959.9 281.0 960.0 274.2 960.0 284.1 960.1 275.9 960.2 284.6 960.2 279.2 960.3 274.9 960.3 266.8 960.4 275.6 960.5 277.0 960.5 274.9 960.6 277.2 960.6 275.7 960.7 267.7 960.8 263.4 960.9 274.3 960.9 240.5 961.0 256.4 961.0 292.3 961.1 287.8 961.2 283.8 961.2 281.8 961.3 277.3 961.3 270.1 961.4 254.8 961.5 271.9 961.5 277.9 961.6 275.4 961.7 275.3 961.7 282.4 961.8 284.4 961.9 279.1 961.9 273.6 962.0 278.7 962.0 282.2 962.1 292.8 962.2 273.7 962.2 278.0 962.3 269.0 962.3 269.0 962.4 291.5 962.5 276.7 962.5 273.9 962.6 269.9 962.7 279.6 962.7 272.6 962.8 262.3 962.8 270.8 962.9 279.7 963.0 275.9 963.0 276.1 963.1 269.9 963.2 266.3 963.2 271.3 963.3 265.5 963.4 268.1 963.4 265.3 963.5 269.4 963.5 278.9 963.6 275.6 963.7 284.2 963.7 280.8 963.8 275.5 963.9 268.4 963.9 272.8 964.0 265.9 964.0 234.0 964.1 253.8 964.2 261.9 964.2 264.1 964.3 259.4 964.4 269.7 964.4 267.4 964.5 268.8 964.5 277.2 964.6 260.1 964.7 267.7 964.7 274.5 964.8 283.1 964.8 278.6 964.9 271.0 965.0 280.9 965.0 284.6 965.1 294.2 965.1 294.2 965.2 282.0 965.3 288.8 965.3 281.4 965.4 269.6 965.5 278.5 965.5 287.1 965.6 262.2 965.7 280.6 965.7 270.7 965.8 286.7 965.8 281.0 965.9 278.3 966.0 287.9 966.0 276.7 966.1 293.3 966.2 273.5 966.2 186.0 966.3 230.2 966.3 275.7 966.4 274.7 966.5 281.7 966.5 286.7 966.6 285.9 966.7 288.0 966.7 288.9 966.8 279.2 966.8 271.1 966.9 267.0 967.0 278.0 967.0 272.2 967.1 267.4 967.2 266.6 967.2 270.6 967.3 275.1 967.3 273.3 967.4 267.4 967.5 276.4 967.5 260.1 967.6 267.6 967.7 280.6 967.7 279.2 967.8 286.5 967.8 279.9 967.9 281.6 968.0 277.7 968.0 272.8 968.1 277.2 968.2 284.0 968.2 264.0 968.3 265.5 968.3 257.2 968.4 262.3 968.5 261.6 968.5 266.9 968.6 270.1 968.7 280.8 968.7 287.3 968.8 272.9 968.9 270.8 968.9 278.3 969.0 271.5 969.0 270.9 969.1 260.7 969.2 275.0 969.2 277.1 969.3 269.0 969.3 263.7 969.4 263.7 969.5 274.1 969.5 271.4 969.6 265.3 969.7 269.4 969.7 279.9 969.8 287.4 969.9 290.8 969.9 281.8 970.0 279.8 970.0 279.5 970.1 282.6 970.2 283.0 970.2 271.1 970.3 269.0 970.4 270.7 970.4 279.6 970.5 273.4 970.5 269.6 970.6 281.8 970.6 290.3 970.7 273.8 970.8 274.2 970.8 285.0 970.9 275.8 971.0 283.7 971.0 268.4 971.1 271.9 971.2 279.8 971.2 203.0 971.3 239.7 971.4 268.6 971.4 262.8 971.5 265.4 971.5 278.6 971.6 283.3 971.7 287.9 971.7 286.2 971.8 275.2 971.9 273.3 971.9 269.0 972.0 280.3 972.0 268.7 972.1 274.2 972.1 277.5 972.2 287.3 972.3 274.3 972.4 278.9 972.4 270.2 972.5 282.6 972.5 275.8 972.6 274.2 972.7 269.1 972.7 269.7 972.8 269.7 972.8 270.0 972.9 283.7 973.0 271.8 973.0 276.8 973.1 283.9 973.2 270.9 973.2 259.6 973.3 274.2 973.3 264.3 973.4 267.0 973.5 272.8 973.5 277.5 973.6 275.3 973.7 271.5 973.7 283.1 973.8 281.1 973.8 294.9 973.9 276.0 974.0 276.1 974.0 276.5 974.1 281.5 974.1 280.7 974.2 278.7 974.3 294.5 974.3 282.0 974.4 282.7 974.5 280.9 974.5 274.1 974.6 282.4 974.7 265.7 974.7 282.3 974.8 267.9 974.8 272.0 974.9 276.4 975.0 273.7 975.0 272.6 975.1 285.7 975.2 298.7 975.2 294.7 975.3 285.1 975.3 275.5 975.4 271.5 975.5 285.5 975.5 288.2 975.6 292.7 975.6 291.7 975.7 238.4 975.8 258.4 975.8 272.5 975.9 268.8 976.0 274.6 976.0 275.5 976.1 278.0 976.2 269.4 976.2 276.3 976.3 284.2 976.3 280.9 976.4 259.7 976.5 271.6 976.5 273.3 976.6 284.0 976.7 278.9 976.7 283.9 976.8 277.2 976.8 280.6 976.9 287.4 977.0 279.2 977.0 281.3 977.1 280.8 977.2 284.5 977.2 279.6 977.3 282.9 977.3 266.7 977.4 272.8 977.5 283.2 977.5 285.9 977.6 273.9 977.6 271.2 977.7 279.0 977.8 209.0 977.8 244.1 977.9 281.0 978.0 280.4 978.0 288.2 978.1 274.9 978.2 267.5 978.2 282.7 978.3 274.6 978.4 282.9 978.4 275.3 978.5 269.7 978.5 288.3 978.6 281.6 978.6 269.7 978.7 274.2 978.8 276.1 978.9 276.5 978.9 279.4 979.0 270.9 979.0 274.2 979.1 280.8 979.2 284.9 979.2 281.8 979.3 274.2 979.3 263.2 979.4 285.0 979.5 272.9 979.5 273.8 979.6 277.5 979.7 282.3 979.7 280.1 979.8 273.7 979.8 277.1 979.9 296.1 980.0 300.9 980.0 287.1 980.1 287.6 980.2 269.3 980.2 277.5 980.3 284.8 980.3 279.0 980.4 294.9 980.5 292.5 980.5 289.4 980.6 263.6 980.6 269.7 980.7 281.7 980.8 276.9 980.8 266.0 980.9 270.8 981.0 289.2 981.0 289.0 981.1 290.5 981.2 285.4 981.2 295.7 981.3 264.3 981.4 265.9 981.4 290.7 981.5 292.9 981.5 286.7 981.6 279.7 981.6 266.8 981.7 272.5 981.8 276.6 981.8 272.3 981.9 288.9 982.0 292.2 982.0 282.1 982.1 288.8 982.1 283.0 982.2 283.7 982.3 278.0 982.4 300.8 982.4 275.7 982.5 277.9 982.5 288.4 982.6 292.2 982.7 272.3 982.7 270.8 982.8 216.0 982.8 248.6 982.9 273.3 983.0 276.4 983.0 278.2 983.1 289.3 983.1 270.9 983.2 286.0 983.3 280.9 983.3 286.0 983.4 280.0 983.5 300.9 983.5 273.8 983.6 288.4 983.7 280.1 983.7 279.1 983.8 292.7 983.8 283.5 983.9 289.9 984.0 296.9 984.0 281.7 984.1 299.0 984.2 298.5 984.2 285.6 984.3 284.9 984.4 277.3 984.4 282.4 984.5 289.5 984.5 293.1 984.6 287.7 984.7 279.7 984.7 276.3 984.8 272.7 984.8 276.6 984.9 284.9 985.0 278.5 985.0 275.6 985.1 271.8 985.2 282.8 985.2 280.3 985.3 269.3 985.3 286.5 985.4 292.8 985.5 286.0 985.5 280.7 985.6 281.4 985.6 274.9 985.7 288.0 985.8 296.2 985.8 296.0 985.9 289.1 986.0 286.7 986.0 288.4 986.1 299.3 986.1 281.5 986.2 281.9 986.3 235.3 986.3 258.9 986.4 281.1 986.5 291.7 986.5 277.3 986.6 289.0 986.7 290.6 986.7 289.4 986.8 296.8 986.8 282.0 986.9 296.4 987.0 284.4 987.0 288.0 987.1 272.7 987.2 287.1 987.2 284.5 987.3 279.1 987.3 273.7 987.4 281.2 987.5 293.7 987.6 291.3 987.6 282.9 987.7 277.1 987.7 272.9 987.8 277.0 987.8 268.7 987.9 275.1 988.0 289.3 988.0 284.7 988.1 282.4 988.2 278.2 988.2 287.3 988.3 290.0 988.3 297.9 988.4 282.3 988.5 274.4 988.5 275.4 988.6 206.0 988.7 244.7 988.7 278.3 988.8 274.9 988.9 279.9 988.9 290.6 989.0 292.0 989.0 281.1 989.1 282.8 989.2 285.8 989.2 289.9 989.3 282.7 989.4 273.3 989.4 282.5 989.5 275.6 989.5 277.8 989.6 279.4 989.7 289.8 989.7 281.8 989.8 284.2 989.9 282.1 989.9 278.8 990.0 289.3 990.0 281.8 990.1 287.0 990.1 287.3 990.2 270.6 990.3 266.4 990.4 257.9 990.4 275.4 990.5 282.8 990.5 279.4 990.6 278.2 990.6 279.4 990.7 277.4 990.8 281.3 990.8 282.7 990.9 276.7 991.0 293.4 991.0 296.1 991.1 284.6 991.1 303.2 991.2 306.0 991.3 304.8 991.4 301.8 991.4 285.2 991.5 282.1 991.5 271.3 991.6 276.5 991.6 289.7 991.7 282.9 991.8 270.9 991.8 293.0 991.9 304.7 992.0 304.8 992.0 278.9 992.1 289.5 992.2 279.7 992.2 281.8 992.3 289.6 992.3 299.8 992.4 205.0 992.5 245.0 992.5 273.9 992.6 281.0 992.7 275.9 992.7 277.8 992.8 288.7 992.9 286.1 992.9 286.3 993.0 287.9 993.0 293.0 993.1 300.0 993.1 280.6 993.2 270.9 993.3 284.1 993.4 290.8 993.4 299.4 993.5 297.0 993.5 304.6 993.6 296.5 993.7 283.7 993.7 293.5 993.8 280.8 993.8 278.3 993.9 286.1 994.0 283.6 994.0 292.9 994.1 284.8 994.2 301.3 994.2 282.3 994.3 290.5 994.4 283.4 994.4 297.2 994.5 284.7 994.5 292.0 994.6 262.7 994.7 271.8 994.7 294.9 994.8 290.6 994.8 288.2 994.9 294.5 995.0 307.7 995.0 284.8 995.1 284.9 995.2 282.0 995.2 290.7 995.3 281.9 995.4 272.2 995.4 269.1 995.5 285.4 995.5 287.7 995.6 294.4 995.6 276.0 995.7 275.5 995.8 278.2 995.9 290.7 995.9 248.0 996.0 267.2 996.0 278.5 996.1 285.2 996.2 282.2 996.2 292.7 996.3 304.2 996.4 293.8 996.4 279.9 996.5 305.2 996.5 298.8 996.6 295.7 996.7 290.9 996.7 289.7 996.8 288.6 996.9 289.8 996.9 275.8 997.0 277.3 997.0 282.8 997.1 286.7 997.2 288.6 997.2 291.4 997.3 273.8 997.4 274.6 997.4 277.4 997.5 284.7 997.5 284.7 997.6 303.9 997.7 289.6 997.7 286.0 997.8 274.3 997.9 298.5 997.9 291.9 998.0 287.9 998.0 282.3 998.1 286.3 998.2 284.2 998.2 214.0 998.3 250.6 998.3 282.7 998.4 281.5 998.5 290.5 998.6 291.6 998.6 297.8 998.7 296.0 998.7 295.7 998.8 291.0 998.8 297.0 998.9 295.3 999.0 293.4 999.0 276.6 999.1 280.1 999.1 279.5 999.2 270.2 999.3 292.8 999.4 302.6 999.4 302.8 999.5 298.3 999.5 304.9 999.6 279.7 999.7 296.2 999.7 274.2 999.8 284.4 999.8 287.7 999.9 292.5 1000.0 295.5 1000.0 297.1 1000.1 285.2 1000.2 281.6 1000.2 279.1 1000.3 286.0 1000.3 284.6 1000.4 274.0 1000.5 261.3 1000.5 274.7 1000.6 281.3 1000.7 279.8 1000.7 279.2 1000.8 289.9 1000.8 283.1 1000.9 274.8 1001.0 278.2 1001.0 276.4 1001.1 271.7 1001.2 290.0 1001.2 299.2 1001.3 280.1 1001.3 299.1 1001.4 308.4 1001.5 283.5 1001.5 290.2 1001.6 286.7 1001.6 295.1 1001.7 266.9 1001.8 285.9 1001.8 284.6 1001.9 291.2 1002.0 297.3 1002.0 272.3 1002.1 282.4 1002.2 286.4 1002.2 293.0 1002.3 300.2 1002.4 299.3 1002.4 285.8 1002.5 293.8 1002.6 284.2 1002.6 293.7 1002.7 288.9 1002.7 287.3 1002.8 238.0 1002.9 263.4 1002.9 281.8 1003.0 276.8 1003.0 292.3 1003.1 301.2 1003.2 281.2 1003.2 268.3 1003.3 283.6 1003.3 282.5 1003.4 279.2 1003.5 305.2 1003.5 291.0 1003.6 281.4 1003.6 284.1 1003.7 289.6 1003.8 303.0 1003.8 296.6 1003.9 281.5 1004.0 282.5 1004.0 302.6 1004.1 279.6 1004.2 285.4 1004.2 298.0 1004.3 294.6 1004.3 289.2 1004.4 282.2 1004.5 288.0 1004.5 293.3 1004.6 292.6 1004.6 299.4 1004.7 294.6 1004.8 259.5 1004.9 274.4 1004.9 299.4 1005.0 290.1 1005.0 304.8 1005.1 305.8 1005.1 301.2 1005.2 285.4 1005.3 289.6 1005.4 266.4 1005.4 278.6 1005.5 287.1 1005.5 281.9 1005.6 288.2 1005.6 294.9 1005.7 307.2 1005.8 296.0 1005.9 279.4 1005.9 267.7 1006.0 280.8 1006.0 294.1 1006.1 301.1 1006.2 294.7 1006.2 286.2 1006.3 283.1 1006.4 286.5 1006.4 289.5 1006.5 295.0 1006.5 292.8 1006.6 308.3 1006.7 297.8 1006.7 297.1 1006.8 301.6 1006.8 302.3 1006.9 289.0 1007.0 277.1 1007.0 275.5 1007.1 288.0 1007.1 294.5 1007.2 294.7 1007.3 298.7 1007.3 304.4 1007.4 288.8 1007.5 311.1 1007.5 311.1 1007.6 307.6 1007.7 295.0 1007.7 294.3 1007.8 240.0 1007.8 265.1 1007.9 283.1 1008.0 287.2 1008.1 287.0 1008.1 306.9 1008.2 289.1 1008.2 292.8 1008.3 288.2 1008.3 303.3 1008.4 304.2 1008.5 283.2 1008.5 280.5 1008.6 289.4 1008.6 285.5 1008.7 292.7 1008.8 292.2 1008.8 282.9 1008.9 285.8 1009.0 293.0 1009.0 291.1 1009.1 292.2 1009.1 294.6 1009.2 291.2 1009.3 302.6 1009.3 284.9 1009.4 292.7 1009.5 287.6 1009.5 293.2 1009.6 299.0 1009.7 299.3 1009.7 299.7 1009.8 300.6 1009.9 299.0 1009.9 292.0 1010.0 297.7 1010.0 301.8 1010.1 302.3 1010.1 297.5 1010.2 295.9 1010.3 277.5 1010.3 280.2 1010.4 285.9 1010.5 297.7 1010.5 303.7 1010.6 296.9 1010.7 284.5 1010.7 292.8 1010.8 300.2 1010.9 300.9 1010.9 289.1 1011.0 282.3 1011.0 281.4 1011.1 279.7 1011.2 295.4 1011.2 295.5 1011.3 311.0 1011.3 311.7 1011.4 307.2 1011.5 291.3 1011.5 297.0 1011.6 297.3 1011.7 222.0 1011.7 256.6 1011.8 281.5 1011.8 298.3 1011.9 290.7 1012.0 280.8 1012.1 288.5 1012.1 295.5 1012.2 283.6 1012.2 304.6 1012.3 290.1 1012.3 299.9 1012.4 300.3 1012.5 288.9 1012.5 289.8 1012.6 291.2 1012.7 288.8 1012.7 296.9 1012.8 294.0 1012.8 279.3 1012.9 288.1 1013.0 281.8 1013.0 286.5 1013.1 291.7 1013.1 290.9 1013.2 300.0 1013.3 294.1 1013.4 288.6 1013.4 304.3 1013.5 302.4 1013.6 294.5 1013.6 292.9 1013.7 289.2 1013.7 291.6 1013.8 284.6 1013.9 303.8 1013.9 306.3 1014.0 279.6 1014.0 280.4 1014.1 287.6 1014.1 285.6 1014.2 273.7 1014.3 290.9 1014.3 282.7 1014.4 294.1 1014.5 296.6 1014.5 306.3 1014.6 289.9 1014.7 306.4 1014.7 287.5 1014.8 302.8 1014.9 304.7 1014.9 300.2 1015.0 286.6 1015.0 303.4 1015.1 302.8 1015.2 283.2 1015.2 269.7 1015.3 279.5 1015.3 281.4 1015.4 294.0 1015.5 294.1 1015.5 295.6 1015.6 289.6 1015.7 299.2 1015.7 290.3 1015.8 280.5 1015.8 270.3 1015.9 288.7 1016.0 286.7 1016.0 277.7 1016.1 280.8 1016.2 285.6 1016.2 295.6 1016.3 245.0 1016.3 268.8 1016.4 295.6 1016.5 297.6 1016.5 301.2 1016.6 311.9 1016.7 292.6 1016.7 288.3 1016.8 300.0 1016.9 308.7 1016.9 301.4 1017.0 293.4 1017.0 284.7 1017.1 295.1 1017.2 296.8 1017.2 286.5 1017.3 287.1 1017.3 283.9 1017.4 294.6 1017.5 292.7 1017.5 303.3 1017.6 307.9 1017.7 301.3 1017.7 306.0 1017.8 306.5 1017.8 310.3 1017.9 295.7 1018.0 299.6 1018.0 310.9 1018.1 305.2 1018.1 294.6 1018.2 296.3 1018.3 312.8 1018.3 297.8 1018.4 290.6 1018.5 300.2 1018.5 293.4 1018.6 282.4 1018.6 278.4 1018.7 288.8 1018.8 287.8 1018.8 245.9 1018.9 269.6 1019.0 283.6 1019.0 284.9 1019.1 282.0 1019.2 299.2 1019.2 290.2 1019.3 305.0 1019.3 302.8 1019.4 313.0 1019.5 300.5 1019.5 303.5 1019.6 282.1 1019.7 286.8 1019.7 286.4 1019.8 300.9 1019.8 295.9 1019.9 300.6 1020.0 291.3 1020.0 284.1 1020.1 290.4 1020.2 303.7 1020.2 297.6 1020.3 308.5 1020.4 297.1 1020.4 293.0 1020.5 291.6 1020.5 291.9 1020.6 288.8 1020.7 291.1 1020.7 287.7 1020.8 284.9 1020.8 303.4 1020.9 305.1 1021.0 296.2 1021.0 291.0 1021.1 282.2 1021.2 295.0 1021.2 290.1 1021.3 251.0 1021.3 272.5 1021.4 294.8 1021.5 304.8 1021.5 294.4 1021.6 311.2 1021.7 308.9 1021.7 308.0 1021.8 293.1 1021.8 302.8 1021.9 306.1 1022.0 300.3 1022.0 311.5 1022.1 303.9 1022.2 281.8 1022.2 293.2 1022.3 308.7 1022.3 295.5 1022.4 301.6 1022.5 292.9 1022.5 294.7 1022.6 275.7 1022.6 275.6 1022.7 286.5 1022.8 288.3 1022.9 279.6 1022.9 295.2 1023.0 298.4 1023.0 290.1 1023.1 278.8 1023.1 293.9 1023.2 291.5 1023.3 299.9 1023.3 306.1 1023.4 296.6 1023.5 294.2 1023.5 301.1 1023.6 295.5 1023.7 281.2 1023.7 294.8 1023.8 297.7 1023.8 291.9 1023.9 298.1 1024.0 293.4 1024.0 291.6 1024.1 300.1 1024.2 286.8 1024.2 280.6 1024.3 288.9 1024.4 250.5 1024.4 272.7 1024.5 290.5 1024.5 281.0 1024.6 287.3 1024.7 276.4 1024.7 298.6 1024.8 296.1 1024.8 300.8 1024.9 301.2 1025.0 298.8 1025.0 288.9 1025.1 298.9 1025.1 294.0 1025.2 289.3 1025.3 278.6 1025.3 298.9 1025.4 294.8 1025.5 292.2 1025.5 280.6 1025.6 297.0 1025.7 295.1 1025.7 303.1 1025.8 297.8 1025.8 290.1 1025.9 297.8 1026.0 285.0 1026.0 280.8 1026.1 250.5 1026.2 272.9 1026.2 305.4 1026.3 298.3 1026.3 295.6 1026.4 297.2 1026.5 294.6 1026.5 291.7 1026.6 298.0 1026.7 292.8 1026.7 293.1 1026.8 303.9 1026.9 300.3 1026.9 293.5 1027.0 300.2 1027.0 296.2 1027.1 301.1 1027.1 291.4 1027.2 288.8 1027.3 283.3 1027.4 299.7 1027.4 307.9 1027.5 309.1 1027.5 303.2 1027.6 300.0 1027.6 295.5 1027.7 300.2 1027.8 296.0 1027.9 288.9 1027.9 300.8 1028.0 304.5 1028.0 302.9 1028.1 297.9 1028.1 293.9 1028.2 295.9 1028.3 297.5 1028.3 288.4 1028.4 290.2 1028.5 286.7 1028.5 300.9 1028.6 288.2 1028.7 285.0 1028.7 286.1 1028.8 293.7 1028.9 288.8 1028.9 306.5 1029.0 305.2 1029.0 234.0 1029.1 265.1 1029.2 297.5 1029.2 287.9 1029.3 292.6 1029.4 295.5 1029.4 291.5 1029.5 293.8 1029.5 297.8 1029.6 293.2 1029.7 294.7 1029.7 287.4 1029.8 297.6 1029.9 292.3 1029.9 303.8 1030.0 314.2 1030.0 314.6 1030.1 299.4 1030.2 300.6 1030.2 295.9 1030.3 299.6 1030.3 291.7 1030.4 287.8 1030.5 293.0 1030.5 289.7 1030.6 302.9 1030.7 304.1 1030.7 301.6 1030.8 297.1 1030.8 295.5 1030.9 303.3 1031.0 299.4 1031.0 297.6 1031.1 310.8 1031.1 302.6 1031.2 296.8 1031.3 295.1 1031.3 305.5 1031.4 296.2 1031.5 293.3 1031.5 303.5 1031.6 307.7 1031.7 311.0 1031.7 295.6 1031.8 299.6 1031.8 293.9 1031.9 298.8 1032.0 286.8 1032.0 292.0 1032.1 303.0 1032.2 300.6 1032.2 281.8 1032.3 298.5 1032.3 300.2 1032.4 296.2 1032.5 296.7 1032.5 294.8 1032.6 304.6 1032.7 299.5 1032.7 287.1 1032.8 287.9 1032.8 305.6 1032.9 308.3 1033.0 234.0 1033.0 265.6 1033.1 300.4 1033.2 305.9 1033.2 301.1 1033.3 304.0 1033.3 308.0 1033.4 308.7 1033.5 304.7 1033.5 303.4 1033.6 291.1 1033.7 293.3 1033.7 302.0 1033.8 311.5 1033.8 303.8 1033.9 307.7 1034.0 301.3 1034.0 292.4 1034.1 298.8 1034.2 301.4 1034.2 293.0 1034.3 290.3 1034.4 295.5 1034.4 293.6 1034.5 299.9 1034.5 289.5 1034.6 300.6 1034.7 294.7 1034.7 299.2 1034.8 288.0 1034.8 300.9 1034.9 300.5 1035.0 314.0 1035.0 292.2 1035.1 283.8 1035.1 297.8 1035.2 304.4 1035.3 288.3 1035.3 298.2 1035.4 304.8 1035.5 310.6 1035.5 303.5 1035.6 289.7 1035.7 282.4 1035.7 307.2 1035.8 304.3 1035.9 307.4 1035.9 299.2 1036.0 297.0 1036.0 296.5 1036.1 291.5 1036.1 294.0 1036.2 289.5 1036.3 292.5 1036.3 304.1 1036.4 300.6 1036.5 294.7 1036.5 309.3 1036.6 311.6 1036.6 303.4 1036.7 288.6 1036.8 257.0 1036.9 277.7 1036.9 298.3 1037.0 308.6 1037.0 296.4 1037.1 296.1 1037.1 294.7 1037.2 298.5 1037.3 297.7 1037.3 308.5 1037.4 299.7 1037.5 302.2 1037.6 300.3 1037.6 301.0 1037.7 294.1 1037.7 296.9 1037.8 307.9 1037.8 307.8 1037.9 294.1 1038.0 294.6 1038.0 290.8 1038.1 291.4 1038.2 292.1 1038.2 288.6 1038.3 298.3 1038.3 305.1 1038.4 302.2 1038.5 297.0 1038.5 299.4 1038.6 294.2 1038.6 304.5 1038.7 315.9 1038.8 287.7 1038.8 297.6 1038.9 298.9 1039.0 300.5 1039.0 297.8 1039.1 289.0 1039.2 295.1 1039.2 295.2 1039.3 296.9 1039.3 274.6 1039.4 286.8 1039.5 313.8 1039.5 296.0 1039.6 295.6 1039.7 289.8 1039.7 295.0 1039.8 308.5 1039.8 302.2 1039.9 294.9 1040.0 289.3 1040.0 299.4 1040.1 294.8 1040.2 302.0 1040.2 295.8 1040.3 294.8 1040.4 297.4 1040.4 288.3 1040.5 303.6 1040.5 293.5 1040.6 298.4 1040.7 302.2 1040.7 316.2 1040.8 308.8 1040.8 308.6 1040.9 277.1 1041.0 288.3 1041.0 299.2 1041.1 306.8 1041.2 295.7 1041.2 301.0 1041.3 316.3 1041.3 300.2 1041.4 288.2 1041.5 292.4 1041.6 296.4 1041.6 309.9 1041.7 306.7 1041.7 310.1 1041.8 298.7 1041.8 299.2 1041.9 301.7 1042.0 295.2 1042.0 300.1 1042.1 298.3 1042.2 300.9 1042.2 291.5 1042.3 284.2 1042.3 303.4 1042.4 249.3 1042.5 274.6 1042.5 316.5 1042.6 313.3 1042.7 307.9 1042.7 298.7 1042.8 302.3 1042.8 302.7 1042.9 299.6 1043.0 309.9 1043.0 309.0 1043.1 307.4 1043.2 297.7 1043.2 295.3 1043.3 306.2 1043.3 304.3 1043.4 298.4 1043.5 302.1 1043.5 301.5 1043.6 298.4 1043.7 298.9 1043.7 305.3 1043.8 304.8 1043.9 296.9 1043.9 295.0 1044.0 300.8 1044.0 294.4 1044.1 299.5 1044.2 299.8 1044.2 292.5 1044.3 283.2 1044.4 289.6 1044.4 296.9 1044.5 249.0 1044.6 274.7 1044.6 303.8 1044.6 301.5 1044.7 303.7 1044.8 299.2 1044.9 311.8 1044.9 301.0 1045.0 295.7 1045.0 296.1 1045.1 307.2 1045.2 299.5 1045.2 295.8 1045.3 303.0 1045.3 309.6 1045.4 301.3 1045.5 305.8 1045.5 298.5 1045.6 309.4 1045.7 297.2 1045.7 298.0 1045.8 297.4 1045.9 294.1 1045.9 298.2 1046.0 304.4 1046.0 297.1 1046.1 312.2 1046.2 306.6 1046.2 305.3 1046.3 297.7 1046.3 299.5 1046.4 306.4 1046.5 296.7 1046.6 295.4 1046.6 294.1 1046.7 290.7 1046.7 301.4 1046.8 296.4 1046.8 310.2 1046.9 267.3 1047.0 284.2 1047.0 300.2 1047.1 294.9 1047.2 286.0 1047.2 292.0 1047.3 297.9 1047.3 294.3 1047.4 300.5 1047.5 289.8 1047.5 299.1 1047.6 314.1 1047.7 312.1 1047.7 311.6 1047.8 302.7 1047.8 299.3 1047.9 308.0 1048.0 301.6 1048.0 305.7 1048.1 297.0 1048.2 302.3 1048.2 303.0 1048.3 288.6 1048.3 280.3 1048.4 290.9 1048.5 305.7 1048.5 305.4 1048.6 311.3 1048.7 304.6 1048.7 298.0 1048.8 306.2 1048.8 317.0 1048.9 304.9 1049.0 312.6 1049.0 304.4 1049.1 293.7 1049.2 293.6 1049.2 293.8 1049.3 306.3 1049.4 304.1 1049.4 299.3 1049.5 301.7 1049.5 310.8 1049.6 304.5 1049.7 298.5 1049.7 302.9 1049.8 297.3 1049.8 303.5 1049.9 308.9 1050.0 305.6 1050.0 300.6 1050.1 302.3 1050.1 293.7 1050.2 309.0 1050.3 263.0 1050.3 282.5 1050.4 291.8 1050.5 294.4 1050.6 290.8 1050.6 286.9 1050.7 296.0 1050.7 299.0 1050.8 297.3 1050.9 307.5 1050.9 304.3 1051.0 297.0 1051.0 303.0 1051.1 294.9 1051.2 297.5 1051.2 295.6 1051.3 301.7 1051.4 300.5 1051.4 298.1 1051.5 302.5 1051.5 305.4 1051.6 305.0 1051.6 310.5 1051.7 298.7 1051.8 303.6 1051.9 313.7 1051.9 306.5 1052.0 290.3 1052.0 304.3 1052.1 301.8 1052.1 306.5 1052.2 305.7 1052.3 307.7 1052.3 312.3 1052.4 306.8 1052.5 309.2 1052.5 296.8 1052.6 275.1 1052.7 288.9 1052.7 311.7 1052.8 300.5 1052.9 299.8 1052.9 306.0 1053.0 300.5 1053.0 293.9 1053.1 287.4 1053.2 302.2 1053.2 295.6 1053.3 302.4 1053.4 306.0 1053.4 297.6 1053.5 303.8 1053.5 289.8 1053.6 297.6 1053.7 294.5 1053.7 301.3 1053.8 303.6 1053.9 304.3 1053.9 307.5 1054.0 266.6 1054.0 284.8 1054.1 291.7 1054.1 305.3 1054.2 297.2 1054.3 298.7 1054.3 303.7 1054.4 302.2 1054.5 296.5 1054.5 287.4 1054.6 303.5 1054.7 299.5 1054.7 291.5 1054.8 294.9 1054.8 300.5 1054.9 289.8 1055.0 299.3 1055.0 301.8 1055.1 305.6 1055.2 304.1 1055.2 297.1 1055.3 290.7 1055.4 272.0 1055.4 287.6 1055.5 311.4 1055.5 304.1 1055.6 306.2 1055.7 304.6 1055.7 292.5 1055.8 304.3 1055.8 300.6 1055.9 293.1 1056.0 302.3 1056.0 311.1 1056.1 305.2 1056.2 302.1 1056.2 298.7 1056.3 298.9 1056.3 309.1 1056.4 305.9 1056.5 307.0 1056.5 308.4 1056.6 286.2 1056.6 279.2 1056.7 291.3 1056.8 305.5 1056.8 294.5 1056.9 295.2 1057.0 304.9 1057.0 306.7 1057.1 307.5 1057.2 297.4 1057.2 303.1 1057.3 313.0 1057.3 307.1 1057.4 313.8 1057.5 312.9 1057.6 312.3 1057.6 302.1 1057.6 298.8 1057.7 297.5 1057.8 309.1 1057.9 313.9 1057.9 300.3 1058.0 256.1 1058.0 280.0 1058.1 311.5 1058.2 308.2 1058.2 309.5 1058.3 308.9 1058.3 309.4 1058.4 304.7 1058.5 307.3 1058.5 309.6 1058.6 305.0 1058.7 315.5 1058.7 300.8 1058.8 300.2 1058.9 297.0 1058.9 308.5 1059.0 312.8 1059.0 301.9 1059.1 303.6 1059.1 300.8 1059.2 293.8 1059.3 295.0 1059.4 302.9 1059.4 307.4 1059.5 300.3 1059.5 302.6 1059.6 309.0 1059.7 315.1 1059.7 310.2 1059.8 300.7 1059.8 292.5 1059.9 300.4 1060.0 300.7 1060.0 259.0 1060.1 281.6 1060.2 298.1 1060.2 303.0 1060.3 308.3 1060.4 300.1 1060.4 315.4 1060.5 317.8 1060.5 307.3 1060.6 307.4 1060.7 315.7 1060.7 302.1 1060.8 299.4 1060.9 298.5 1060.9 295.6 1061.0 306.0 1061.0 303.5 1061.1 304.7 1061.2 305.1 1061.2 303.3 1061.3 314.4 1061.4 306.8 1061.4 299.5 1061.5 293.5 1061.5 296.1 1061.6 302.8 1061.7 305.1 1061.7 306.7 1061.8 302.5 1061.9 306.8 1061.9 278.7 1062.0 291.7 1062.0 304.9 1062.1 307.6 1062.1 303.8 1062.2 312.0 1062.3 307.6 1062.3 300.6 1062.4 309.8 1062.5 318.8 1062.5 301.8 1062.6 303.3 1062.6 310.4 1062.7 311.0 1062.8 314.1 1062.8 317.2 1062.9 297.0 1063.0 306.9 1063.0 294.6 1063.1 294.9 1063.1 276.5 1063.2 290.7 1063.3 293.5 1063.4 301.6 1063.4 293.5 1063.5 314.8 1063.5 304.7 1063.6 304.8 1063.6 296.9 1063.7 298.2 1063.8 311.8 1063.9 309.1 1063.9 298.5 1064.0 299.3 1064.0 302.0 1064.1 316.3 1064.2 308.2 1064.2 309.3 1064.3 314.0 1064.4 322.6 1064.4 316.7 1064.5 301.8 1064.5 297.2 1064.6 314.3 1064.6 311.3 1064.7 294.0 1064.8 297.8 1064.8 299.5 1064.9 300.9 1065.0 308.3 1065.0 311.1 1065.1 316.8 1065.2 296.2 1065.2 304.2 1065.3 303.5 1065.3 297.3 1065.4 308.5 1065.5 297.2 1065.5 292.9 1065.6 312.5 1065.7 310.8 1065.7 271.0 1065.8 288.3 1065.9 300.7 1065.9 313.6 1066.0 309.1 1066.0 310.7 1066.1 313.2 1066.2 312.8 1066.2 305.5 1066.3 305.5 1066.3 306.8 1066.4 313.7 1066.5 292.9 1066.6 311.4 1066.6 301.1 1066.7 319.8 1066.7 314.2 1066.8 321.4 1066.9 309.7 1066.9 319.7 1067.0 313.8 1067.0 311.7 1067.1 311.3 1067.1 290.1 1067.2 289.8 1067.3 288.8 1067.4 300.6 1067.4 302.5 1067.5 310.8 1067.5 310.3 1067.6 316.5 1067.6 304.7 1067.7 308.1 1067.8 303.2 1067.9 296.7 1067.9 290.1 1068.0 299.8 1068.0 297.2 1068.1 277.8 1068.2 292.0 1068.2 294.9 1068.3 322.7 1068.4 312.2 1068.4 298.7 1068.5 302.1 1068.5 304.8 1068.6 295.0 1068.7 309.9 1068.7 300.7 1068.8 308.0 1068.8 303.3 1068.9 299.2 1069.0 324.3 1069.0 308.9 1069.1 295.9 1069.2 298.6 1069.2 296.1 1069.3 254.8 1069.3 280.6 1069.4 298.9 1069.5 316.5 1069.5 307.9 1069.6 297.0 1069.7 310.9 1069.7 312.5 1069.8 300.8 1069.8 295.8 1069.9 301.3 1070.0 299.4 1070.0 307.7 1070.1 308.7 1070.2 298.2 1070.2 295.2 1070.3 300.4 1070.4 313.7 1070.4 304.0 1070.5 309.8 1070.5 302.6 1070.6 308.1 1070.7 302.6 1070.7 308.0 1070.8 300.1 1070.8 298.4 1070.9 317.9 1071.0 317.2 1071.0 300.6 1071.1 313.0 1071.1 307.3 1071.2 316.7 1071.3 299.8 1071.3 303.1 1071.4 301.9 1071.5 267.0 1071.5 286.9 1071.6 316.9 1071.7 309.9 1071.7 305.1 1071.8 293.4 1071.9 310.2 1071.9 316.2 1072.0 308.5 1072.0 296.7 1072.1 307.3 1072.1 306.7 1072.2 295.5 1072.3 318.4 1072.3 316.2 1072.4 302.4 1072.5 298.9 1072.5 309.9 1072.6 316.8 1072.7 314.7 1072.7 313.5 1072.8 306.3 1072.9 322.4 1072.9 310.3 1073.0 309.9 1073.0 311.0 1073.1 306.3 1073.2 312.8 1073.2 321.0 1073.3 295.1 1073.3 301.4 1073.4 314.8 1073.5 320.7 1073.5 308.5 1073.6 312.9 1073.7 310.8 1073.7 309.7 1073.8 303.4 1073.8 313.8 1073.9 318.9 1074.0 260.0 1074.0 283.7 1074.1 311.4 1074.1 317.6 1074.2 326.1 1074.3 316.1 1074.4 310.0 1074.4 322.1 1074.5 304.1 1074.5 287.0 1074.6 308.2 1074.6 318.7 1074.7 321.9 1074.8 320.6 1074.9 320.9 1074.9 307.2 1075.0 315.9 1075.0 303.1 1075.1 258.8 1075.1 283.3 1075.2 295.8 1075.3 295.2 1075.3 298.5 1075.4 301.5 1075.5 306.9 1075.5 299.7 1075.6 300.5 1075.7 304.2 1075.7 307.9 1075.8 311.7 1075.8 315.3 1075.9 312.4 1076.0 313.1 1076.0 315.1 1076.1 310.4 1076.2 310.4 1076.2 301.8 1076.3 307.8 1076.4 315.7 1076.4 305.7 1076.5 317.6 1076.5 307.5 1076.6 316.4 1076.7 324.2 1076.7 315.6 1076.8 307.8 1076.8 311.6 1076.9 306.4 1077.0 288.0 1077.0 298.1 1077.1 295.2 1077.2 310.9 1077.2 303.1 1077.3 313.9 1077.3 306.3 1077.4 322.0 1077.5 309.3 1077.5 290.9 1077.6 325.3 1077.7 314.6 1077.7 309.6 1077.8 308.8 1077.8 306.0 1077.9 310.0 1078.0 303.0 1078.0 323.7 1078.1 308.4 1078.2 313.6 1078.2 320.8 1078.3 311.1 1078.3 316.3 1078.4 307.0 1078.5 300.1 1078.5 299.2 1078.6 313.9 1078.7 318.8 1078.7 304.9 1078.8 315.4 1078.8 303.8 1078.9 308.4 1079.0 314.1 1079.0 294.0 1079.1 308.5 1079.2 306.2 1079.2 295.9 1079.3 309.6 1079.3 311.3 1079.4 312.4 1079.5 307.8 1079.5 281.6 1079.6 295.2 1079.7 302.3 1079.7 297.9 1079.8 301.3 1079.8 309.3 1079.9 315.2 1080.0 314.3 1080.0 312.9 1080.1 307.9 1080.2 315.9 1080.2 320.6 1080.3 308.9 1080.4 305.2 1080.4 299.5 1080.5 303.1 1080.5 303.2 1080.6 279.9 1080.7 294.4 1080.7 303.3 1080.8 313.1 1080.8 308.4 1080.9 294.4 1081.0 305.8 1081.0 302.2 1081.1 309.0 1081.2 313.1 1081.2 305.0 1081.3 319.5 1081.3 313.7 1081.4 304.2 1081.5 293.8 1081.5 321.6 1081.6 306.9 1081.7 278.9 1081.7 294.0 1081.8 316.9 1081.9 300.7 1081.9 286.0 1082.0 301.8 1082.0 294.1 1082.1 301.4 1082.2 323.0 1082.2 309.0 1082.3 314.4 1082.4 301.7 1082.4 328.9 1082.5 313.5 1082.5 313.7 1082.6 309.5 1082.6 304.1 1082.7 274.3 1082.8 291.9 1082.8 301.5 1082.9 301.9 1083.0 303.9 1083.0 307.9 1083.1 309.6 1083.1 302.3 1083.2 302.2 1083.3 323.4 1083.3 311.8 1083.4 320.8 1083.5 309.3 1083.5 311.8 1083.6 304.5 1083.6 290.6 1083.7 297.6 1083.8 280.0 1083.9 294.9 1083.9 321.3 1084.0 308.4 1084.0 305.7 1084.1 297.8 1084.2 307.0 1084.2 314.6 1084.3 312.4 1084.4 303.5 1084.4 310.0 1084.5 309.8 1084.5 312.8 1084.6 308.5 1084.7 310.2 1084.7 303.0 1084.8 299.5 1084.8 283.9 1084.9 301.7 1085.0 307.6 1085.0 300.1 1085.1 318.5 1085.1 322.2 1085.2 327.6 1085.3 314.5 1085.3 308.8 1085.4 311.7 1085.5 317.6 1085.5 324.6 1085.6 306.5 1085.7 306.8 1085.7 291.1 1085.8 282.0 1085.8 296.1 1085.9 316.6 1086.0 330.1 1086.0 322.8 1086.1 310.6 1086.2 303.4 1086.2 309.6 1086.3 323.3 1086.3 303.7 1086.4 299.3 1086.5 306.6 1086.5 305.6 1086.6 315.7 1086.6 307.8 1086.7 309.4 1086.8 309.5 1086.8 311.4 1086.9 321.7 1087.0 302.9 1087.0 292.3 1087.1 290.7 1087.1 300.6 1087.2 307.5 1087.3 313.5 1087.4 313.7 1087.4 312.2 1087.5 295.2 1087.5 299.0 1087.6 309.7 1087.6 299.0 1087.7 301.8 1087.8 303.3 1087.8 311.8 1087.9 279.5 1088.0 292.9 1088.0 300.7 1088.1 304.2 1088.2 315.0 1088.2 306.5 1088.3 306.7 1088.3 304.3 1088.4 303.7 1088.5 325.3 1088.5 293.4 1088.6 309.3 1088.7 302.8 1088.7 308.1 1088.8 295.9 1088.8 306.8 1088.9 283.3 1089.0 297.1 1089.0 322.3 1089.1 303.5 1089.2 293.7 1089.2 314.3 1089.3 328.1 1089.3 316.5 1089.4 294.2 1089.5 290.8 1089.6 311.8 1089.6 325.6 1089.7 314.6 1089.7 299.9 1089.8 316.5 1089.8 300.5 1089.9 273.5 1090.0 292.3 1090.0 301.5 1090.1 312.0 1090.1 302.3 1090.2 308.8 1090.3 319.1 1090.3 322.7 1090.4 326.2 1090.5 312.8 1090.5 296.1 1090.6 307.1 1090.7 311.3 1090.7 313.2 1090.8 308.0 1090.9 313.6 1090.9 281.2 1091.0 296.3 1091.0 327.2 1091.1 317.6 1091.2 313.6 1091.2 317.2 1091.3 317.7 1091.3 318.1 1091.4 315.1 1091.5 309.9 1091.5 324.0 1091.6 304.9 1091.7 318.5 1091.7 306.0 1091.8 313.4 1091.8 279.9 1091.9 294.4 1092.0 295.8 1092.0 296.9 1092.1 317.7 1092.2 308.0 1092.2 303.5 1092.3 299.5 1092.3 306.6 1092.4 309.2 1092.5 315.1 1092.5 306.2 1092.6 298.4 1092.7 305.9 1092.7 316.7 1092.8 319.4 1092.8 260.6 1092.9 286.2 1093.0 311.6 1093.0 306.0 1093.1 296.5 1093.2 307.7 1093.2 306.6 1093.3 312.1 1093.3 318.7 1093.4 309.4 1093.5 300.2 1093.5 300.4 1093.6 314.2 1093.7 313.1 1093.7 318.5 1093.8 277.7 1093.8 294.8 1093.9 309.1 1094.0 304.7 1094.0 308.9 1094.1 309.3 1094.2 308.4 1094.2 310.7 1094.3 319.3 1094.3 308.1 1094.4 294.3 1094.5 309.1 1094.5 326.8 1094.6 325.8 1094.6 305.8 1094.7 313.4 1094.8 321.6 1094.9 322.7 1094.9 331.0 1095.0 325.6 1095.0 291.3 1095.1 309.5 1095.1 303.7 1095.2 300.3 1095.3 291.9 1095.4 292.9 1095.4 301.5 1095.5 317.5" stroke="#f00" stroke-width="2" fill="none" stroke-linejoin="miter" stroke-miterlimit="10.43" shape-rendering="crispEdges"/>
<rect x="141" y="56" width="379" height="36" fill="#000"/>
<rect x="135" y="50" width="382" height="39" fill="#000"/>
<rect x="136" y="51" width="380" height="37" fill="#fff"/>
<path d="M149 59H216" stroke="#f00" stroke-width="2" fill="none"/>
<path d="M149 79H216" stroke="#00f" stroke-width="6" fill="none"/>
<text transform="translate(230.00 63.90) scale(1 1.04)" font-size="15.0" text-anchor="start" fill="#000" font-weight="bold">H1:PEM-EY_ADC_0_12_OUT(REF3)</text>
<text transform="translate(230.00 82.90) scale(1 1.04)" font-size="15.0" text-anchor="start" fill="#000" font-weight="bold">H1:PEM-EY_ADC_0_12_OUT(REF4)</text>
<text transform="translate(103.8 100.00) scale(1 1.06)" font-size="16.2" text-anchor="end" font-weight="bold">10<tspan dy="-7.6" font-size="10.0">2</tspan></text>
<text transform="translate(104.20 154.00) scale(1 1.06)" font-size="16.2" text-anchor="end" fill="#000" font-weight="bold">10</text>
<text transform="translate(104.20 210.90) scale(1 1.06)" font-size="16.2" text-anchor="end" fill="#000" font-weight="bold">1</text>
<text transform="translate(103.8 270.70) scale(1 1.06)" font-size="16.2" text-anchor="end" font-weight="bold">10<tspan dy="-7.6" font-size="10.0">-1</tspan></text>
<text transform="translate(103.8 327.60) scale(1 1.06)" font-size="16.2" text-anchor="end" font-weight="bold">10<tspan dy="-7.6" font-size="10.0">-2</tspan></text>
<text transform="translate(112.40 363.00) scale(1 1.06)" font-size="16.2" text-anchor="middle" fill="#000" font-weight="bold">1</text>
<text transform="translate(367.80 363.00) scale(1 1.06)" font-size="16.2" text-anchor="middle" fill="#000" font-weight="bold">10</text>
<text transform="translate(623.50 363) scale(1 1.06)" font-size="16.2" text-anchor="middle" font-weight="bold">10<tspan dy="-7.6" font-size="10.0">2</tspan></text>
<text transform="translate(878.90 363) scale(1 1.06)" font-size="16.2" text-anchor="middle" font-weight="bold">10<tspan dy="-7.6" font-size="10.0">3</tspan></text>
<text transform="translate(602.80 385.80) scale(1 1.04)" font-size="16.35" text-anchor="middle" fill="#000" font-weight="bold">Frequency (Hz)</text>
<text transform="translate(39.20 190.50) rotate(-90)" font-size="18.3" text-anchor="middle" fill="#000" font-weight="bold">Magnitude</text>
<text transform="translate(19.60 412.60) scale(1 1.04)" font-size="16.0" text-anchor="start" fill="#f00" font-weight="bold">*T0=06/06/2018 23:38:48</text>
<text transform="translate(574.20 412.60) scale(1 1.04)" font-size="16.1" text-anchor="middle" fill="#000" font-weight="bold">Avg=1/Bin=5L</text>
<text transform="translate(1129.20 412.60) scale(1 1.04)" font-size="16.3" text-anchor="end" fill="#000" font-weight="bold">BW=0.187493</text>
<rect x="0" y="417" width="1147" height="1" fill="#e3e3e3"/>
<rect x="0" y="419" width="1147" height="8" fill="#dedede"/>
<rect x="0" y="427" width="1147" height="1" fill="#000"/>
<rect x="6" y="433" width="328" height="21" fill="#000"/>
<rect x="8" y="430" width="330" height="23" fill="#000"/>
<rect x="9" y="431" width="328" height="21" fill="#fff"/>
<rect x="10" y="432" width="326" height="19" fill="#f2f2f2"/>
<text transform="translate(80.60 446.90)" font-size="18.3" text-anchor="start" fill="#000" font-weight="bold">Zoom in on spectrum</text>
<path d="M210.5 472V769M308.5 472V769M406.5 472V769M505.5 472V769M603.5 472V769M701.5 472V769M799.5 472V769M898.5 472V769M996.5 472V769M113 760.5H1094M113 754.5H1094M113 748.5H1094M113 744.5H1094M113 740.5H1094M113 737.5H1094M113 734.5H1094M113 713.5H1094M113 702.5H1094M113 693.5H1094M113 687.5H1094M113 682.5H1094M113 677.5H1094M113 673.5H1094M113 670.5H1094M113 667.5H1094M113 647.5H1094M113 635.5H1094M113 626.5H1094M113 620.5H1094M113 615.5H1094M113 610.5H1094M113 606.5H1094M113 603.5H1094M113 600.5H1094M113 580.5H1094M113 568.5H1094M113 559.5H1094M113 553.5H1094M113 548.5H1094M113 543.5H1094M113 539.5H1094M113 536.5H1094M113 533.5H1094M113 513.5H1094M113 501.5H1094M113 492.5H1094M113 486.5H1094M113 481.5H1094M113 476.5H1094M113 472.5H1094" stroke="#000" stroke-width="1" stroke-dasharray="1 2" fill="none" shape-rendering="crispEdges"/>
<path d="M112.5 770V758M112.5 469V481M136.5 770V764M136.5 469V475M161.5 770V764M161.5 469V475M185.5 770V764M185.5 469V475M210.5 770V758M210.5 469V481M235.5 770V764M235.5 469V475M259.5 770V764M259.5 469V475M284.5 770V764M284.5 469V475M308.5 770V758M308.5 469V481M333.5 770V764M333.5 469V475M357.5 770V764M357.5 469V475M382.5 770V764M382.5 469V475M406.5 770V758M406.5 469V481M431.5 770V764M431.5 469V475M456.5 770V764M456.5 469V475M480.5 770V764M480.5 469V475M505.5 770V758M505.5 469V481M529.5 770V764M529.5 469V475M554.5 770V764M554.5 469V475M578.5 770V764M578.5 469V475M603.5 770V758M603.5 469V481M627.5 770V764M627.5 469V475M652.5 770V764M652.5 469V475M677.5 770V764M677.5 469V475M701.5 770V758M701.5 469V481M726.5 770V764M726.5 469V475M750.5 770V764M750.5 469V475M775.5 770V764M775.5 469V475M799.5 770V758M799.5 469V481M824.5 770V764M824.5 469V475M849.5 770V764M849.5 469V475M873.5 770V764M873.5 469V475M898.5 770V758M898.5 469V481M922.5 770V764M922.5 469V475M947.5 770V764M947.5 469V475M971.5 770V764M971.5 469V475M996.5 770V758M996.5 469V481M1020.5 770V764M1020.5 469V475M1045.5 770V764M1045.5 469V475M1070.5 770V764M1070.5 469V475M1094.5 770V758M1094.5 469V481M112 760.5H126M1095 760.5H1081M112 754.5H126M1095 754.5H1081M112 748.5H126M1095 748.5H1081M112 744.5H126M1095 744.5H1081M112 740.5H126M1095 740.5H1081M112 737.5H126M1095 737.5H1081M112 734.5H138M1095 734.5H1069M112 713.5H126M1095 713.5H1081M112 702.5H126M1095 702.5H1081M112 693.5H126M1095 693.5H1081M112 687.5H126M1095 687.5H1081M112 682.5H126M1095 682.5H1081M112 677.5H126M1095 677.5H1081M112 673.5H126M1095 673.5H1081M112 670.5H126M1095 670.5H1081M112 667.5H138M1095 667.5H1069M112 647.5H126M1095 647.5H1081M112 635.5H126M1095 635.5H1081M112 626.5H126M1095 626.5H1081M112 620.5H126M1095 620.5H1081M112 615.5H126M1095 615.5H1081M112 610.5H126M1095 610.5H1081M112 606.5H126M1095 606.5H1081M112 603.5H126M1095 603.5H1081M112 600.5H138M1095 600.5H1069M112 580.5H126M1095 580.5H1081M112 568.5H126M1095 568.5H1081M112 559.5H126M1095 559.5H1081M112 553.5H126M1095 553.5H1081M112 548.5H126M1095 548.5H1081M112 543.5H126M1095 543.5H1081M112 539.5H126M1095 539.5H1081M112 536.5H126M1095 536.5H1081M112 533.5H138M1095 533.5H1069M112 513.5H126M1095 513.5H1081M112 501.5H126M1095 501.5H1081M112 492.5H126M1095 492.5H1081M112 486.5H126M1095 486.5H1081M112 481.5H126M1095 481.5H1081M112 476.5H126M1095 476.5H1081M112 472.5H126M1095 472.5H1081" stroke="#000" stroke-width="1" fill="none" shape-rendering="crispEdges"/>
<rect x="112.5" y="469.5" width="982" height="300" stroke="#000" fill="none" shape-rendering="crispEdges"/>
<path d="M112.2 751.2L112.8 749.7 113.4 729.2 114.0 743.9 114.7 732.3 115.3 750.6 115.9 749.3 116.5 722.7 117.1 732.2 117.7 736.9 118.3 730.7 119.0 731.0 119.6 733.1 120.2 743.1 120.8 752.9 121.4 757.3 122.0 735.4 122.6 732.0 123.3 733.3 123.9 757.8 124.5 753.4 125.1 746.4 125.7 750.0 126.3 758.9 126.9 745.9 127.5 746.9 128.2 745.5 128.8 738.0 129.4 737.6 130.0 730.5 130.6 756.5 131.2 746.0 131.8 740.9 132.5 740.5 133.1 743.4 133.7 749.4 134.3 731.2 134.9 730.7 135.5 734.4 136.1 741.5 136.8 736.6 137.4 742.9 138.0 744.3 138.6 749.9 139.2 742.5 139.8 756.0 140.4 740.7 141.1 725.2 141.7 754.2 142.3 744.1 142.9 733.3 143.5 749.6 144.1 732.2 144.7 734.5 145.4 738.2 146.0 725.4 146.6 733.5 147.2 727.0 147.8 728.2 148.4 752.0 149.0 756.4 149.7 761.1 150.3 759.0 150.9 748.4 151.5 726.4 152.1 721.9 152.7 745.3 153.3 745.9 154.0 744.1 154.6 735.1 155.2 745.9 155.8 749.9 156.4 714.5 157.0 727.8 157.6 743.5 158.2 721.8 158.9 725.5 159.5 726.8 160.1 745.6 160.7 743.7 161.3 757.9 161.9 743.3 162.5 733.0 163.2 728.7 163.8 718.3 164.4 734.8 165.0 742.6 165.6 733.1 166.2 727.4 166.8 733.2 167.5 712.3 168.1 691.5 168.7 704.5 169.3 732.5 169.9 736.1 170.5 712.3 171.1 728.5 171.8 749.0 172.4 725.3 173.0 730.5 173.6 736.9 174.2 760.3 174.8 739.5 175.4 744.5 176.1 735.7 176.7 747.5 177.3 737.3 177.9 729.7 178.5 721.5 179.1 716.7 179.7 758.0 180.4 741.9 181.0 726.7 181.6 728.5 182.2 730.9 182.8 723.1 183.4 718.0 184.0 717.4 184.7 728.5 185.3 739.4 185.9 726.2 186.5 746.6 187.1 743.5 187.7 747.9 188.3 733.8 188.9 738.6 189.6 737.1 190.2 728.2 190.8 742.2 191.4 744.9 192.0 734.6 192.6 750.0 193.2 738.2 193.9 745.4 194.5 737.9 195.1 757.5 195.7 738.6 196.3 749.2 196.9 744.4 197.5 757.1 198.2 729.2 198.8 734.2 199.4 728.0 200.0 735.3 200.6 730.6 201.2 731.7 201.8 727.8 202.5 744.9 203.1 722.6 203.7 734.7 204.3 745.9 204.9 718.4 205.5 726.8 206.1 743.7 206.8 737.4 207.4 724.7 208.0 734.4 208.6 757.8 209.2 742.5 209.8 731.5 210.4 726.3 211.1 747.7 211.7 734.8 212.3 725.6 212.9 732.5 213.5 734.1 214.1 744.5 214.7 751.1 215.4 726.9 216.0 735.2 216.6 729.0 217.2 730.4 217.8 727.1 218.4 757.0 219.0 738.0 219.7 711.0 220.3 696.7 220.9 717.4 221.5 736.9 222.1 743.4 222.7 741.3 223.3 759.4 223.9 752.2 224.6 746.6 225.2 739.5 225.8 752.2 226.4 749.9 227.0 733.5 227.6 726.0 228.2 736.8 228.9 750.9 229.5 748.8 230.1 732.8 230.7 737.4 231.3 729.9 231.9 722.9 232.5 750.0 233.2 715.6 233.8 737.2 234.4 745.5 235.0 728.9 235.6 726.5 236.2 732.1 236.8 731.5 237.5 733.4 238.1 722.8 238.7 756.3 239.3 728.5 239.9 722.3 240.5 736.7 241.1 748.6 241.8 733.5 242.4 738.7 243.0 741.9 243.6 738.4 244.2 742.5 244.8 722.0 245.4 736.8 246.1 751.5 246.7 745.4 247.3 755.3 247.9 760.2 248.5 726.9 249.1 716.5 249.7 738.6 250.4 745.1 251.0 720.9 251.6 727.3 252.2 753.7 252.8 759.4 253.4 737.4 254.0 734.3 254.6 761.4 255.3 720.1 255.9 718.3 256.5 752.9 257.1 752.7 257.7 744.1 258.3 734.5 258.9 720.9 259.6 753.9 260.2 725.7 260.8 740.4 261.4 736.5 262.0 749.5 262.6 739.2 263.2 756.2 263.9 757.2 264.5 745.9 265.1 734.0 265.7 726.0 266.3 743.0 266.9 728.1 267.5 743.3 268.2 750.1 268.8 746.8 269.4 760.9 270.0 746.2 270.6 738.9 271.2 743.8 271.8 733.6 272.5 741.3 273.1 736.0 273.7 758.5 274.3 725.6 274.9 749.5 275.5 741.9 276.1 735.4 276.8 729.7 277.4 731.1 278.0 723.8 278.6 733.5 279.2 746.0 279.8 742.2 280.4 733.4 281.1 749.6 281.7 716.3 282.3 741.9 282.9 727.3 283.5 747.9 284.1 746.0 284.7 740.4 285.3 760.7 286.0 736.6 286.6 715.3 287.2 736.1 287.8 750.0 288.4 730.0 289.0 738.5 289.6 735.7 290.3 743.1 290.9 759.6 291.5 737.9 292.1 726.3 292.7 724.5 293.3 745.5 293.9 751.4 294.6 724.7 295.2 724.4 295.8 742.9 296.4 750.7 297.0 735.3 297.6 740.7 298.2 730.3 298.9 727.6 299.5 733.6 300.1 759.2 300.7 730.7 301.3 739.3 301.9 733.2 302.5 724.8 303.2 753.7 303.8 729.6 304.4 735.8 305.0 722.3 305.6 735.6 306.2 745.9 306.8 731.4 307.5 732.9 308.1 677.1 308.7 659.9 309.3 675.7 309.9 739.3 310.5 737.6 311.1 750.0 311.8 754.1 312.4 747.9 313.0 754.8 313.6 733.9 314.2 745.4 314.8 758.1 315.4 739.5 316.0 737.0 316.7 747.2 317.3 731.9 317.9 726.5 318.5 742.1 319.1 730.2 319.7 727.7 320.3 727.1 321.0 749.0 321.6 754.9 322.2 726.0 322.8 723.3 323.4 728.0 324.0 737.4 324.6 731.9 325.3 723.8 325.9 738.8 326.5 727.3 327.1 742.8 327.7 737.8 328.3 739.3 328.9 735.9 329.6 730.8 330.2 731.3 330.8 740.7 331.4 740.7 332.0 735.7 332.6 734.0 333.2 738.6 333.9 748.2 334.5 741.5 335.1 736.9 335.7 748.3 336.3 753.6 336.9 741.1 337.5 742.6 338.2 732.6 338.8 752.7 339.4 732.5 340.0 733.1 340.6 735.5 341.2 731.7 341.8 746.1 342.4 737.5 343.1 743.1 343.7 731.0 344.3 727.4 344.9 724.2 345.5 748.4 346.1 727.4 346.7 743.8 347.4 742.7 348.0 735.5 348.6 733.4 349.2 732.3 349.8 746.2 350.4 748.0 351.0 750.8 351.7 735.4 352.3 730.5 352.9 739.3 353.5 748.3 354.1 722.5 354.7 739.2 355.3 731.4 356.0 741.9 356.6 730.9 357.2 736.8 357.8 723.3 358.4 716.8 359.0 732.5 359.6 750.0 360.3 736.8 360.9 748.5 361.5 752.8 362.1 742.0 362.7 732.0 363.3 751.8 363.9 725.2 364.6 744.0 365.2 734.9 365.8 746.5 366.4 741.4 367.0 735.5 367.6 730.1 368.2 724.3 368.9 727.9 369.5 750.6 370.1 736.6 370.7 742.8 371.3 726.2 371.9 751.1 372.5 733.2 373.1 730.0 373.8 751.5 374.4 732.9 375.0 752.2 375.6 729.6 376.2 741.3 376.8 749.1 377.4 750.7 378.1 724.8 378.7 730.1 379.3 739.1 379.9 723.6 380.5 717.6 381.1 738.3 381.7 728.3 382.4 736.1 383.0 745.7 383.6 727.7 384.2 726.9 384.8 734.7 385.4 741.9 386.0 749.8 386.7 751.8 387.3 733.6 387.9 731.6 388.5 736.8 389.1 733.3 389.7 719.2 390.3 727.9 391.0 745.6 391.6 745.2 392.2 733.9 392.8 726.6 393.4 755.9 394.0 750.0 394.6 741.5 395.3 751.2 395.9 739.9 396.5 724.1 397.1 731.1 397.7 710.0 398.3 730.7 398.9 757.4 399.6 719.5 400.2 724.2 400.8 751.0 401.4 729.4 402.0 742.3 402.6 758.6 403.2 739.9 403.8 728.4 404.5 728.8 405.1 752.8 405.7 731.9 406.3 732.3 406.9 732.5 407.5 736.5 408.1 743.4 408.8 744.4 409.4 755.4 410.0 731.3 410.6 735.4 411.2 745.5 411.8 751.2 412.4 745.7 413.1 735.8 413.7 736.4 414.3 739.6 414.9 725.6 415.5 737.8 416.1 750.2 416.7 726.2 417.4 755.1 418.0 739.7 418.6 741.9 419.2 758.8 419.8 729.5 420.4 740.8 421.0 749.2 421.7 743.4 422.3 734.9 422.9 724.6 423.5 744.2 424.1 734.3 424.7 743.8 425.3 746.1 426.0 743.2 426.6 737.6 427.2 738.2 427.8 732.6 428.4 751.0 429.0 742.7 429.6 728.9 430.3 736.9 430.9 728.0 431.5 718.1 432.1 753.3 432.7 742.8 433.3 740.2 433.9 742.1 434.6 741.8 435.2 741.3 435.8 739.0 436.4 731.3 437.0 739.5 437.6 757.5 438.2 725.8 438.8 734.0 439.5 738.4 440.1 748.1 440.7 740.6 441.3 749.5 441.9 732.4 442.5 742.0 443.1 742.7 443.8 730.1 444.4 711.2 445.0 708.7 445.6 733.7 446.2 729.9 446.8 752.2 447.4 740.7 448.1 731.1 448.7 730.9 449.3 743.4 449.9 737.1 450.5 724.6 451.1 734.1 451.7 738.6 452.4 735.7 453.0 722.1 453.6 746.8 454.2 733.9 454.8 732.7 455.4 755.3 456.0 754.3 456.7 738.0 457.3 744.8 457.9 730.8 458.5 752.7 459.1 731.2 459.7 737.0 460.3 750.7 461.0 752.4 461.6 724.5 462.2 731.3 462.8 754.9 463.4 735.9 464.0 731.3 464.6 741.5 465.2 734.1 465.9 728.6 466.5 733.0 467.1 726.7 467.7 734.8 468.3 739.8 468.9 736.6 469.5 734.9 470.2 749.3 470.8 734.2 471.4 742.2 472.0 736.9 472.6 727.1 473.2 751.0 473.8 724.9 474.5 752.6 475.1 760.2 475.7 746.8 476.3 749.6 476.9 727.1 477.5 731.3 478.1 737.1 478.8 732.7 479.4 728.3 480.0 755.4 480.6 747.4 481.2 750.3 481.8 754.0 482.4 758.3 483.1 760.3 483.7 751.8 484.3 743.0 484.9 726.7 485.5 722.9 486.1 717.2 486.7 745.2 487.4 735.5 488.0 745.1 488.6 725.1 489.2 722.2 489.8 741.3 490.4 730.6 491.0 731.7 491.7 753.1 492.3 759.2 492.9 747.9 493.5 722.7 494.1 739.7 494.7 750.8 495.3 733.6 495.9 745.4 496.6 726.1 497.2 728.3 497.8 761.2 498.4 729.4 499.0 757.8 499.6 745.9 500.2 740.2 500.9 729.3 501.5 740.8 502.1 755.2 502.7 733.7 503.3 752.5 503.9 759.9 504.5 758.7 505.2 757.7 505.8 724.9 506.4 730.6 507.0 733.2 507.6 723.3 508.2 725.8 508.8 741.0 509.5 733.1 510.1 729.2 510.7 741.1 511.3 731.0 511.9 728.1 512.5 737.2 513.1 744.5 513.8 737.8 514.4 731.5 515.0 730.4 515.6 736.3 516.2 746.0 516.8 723.1 517.4 747.4 518.1 742.6 518.7 744.2 519.3 736.8 519.9 734.9 520.5 733.8 521.1 744.4 521.7 727.0 522.4 731.3 523.0 747.7 523.6 737.4 524.2 743.0 524.8 738.3 525.4 748.6 526.0 734.6 526.6 724.4 527.3 731.0 527.9 728.6 528.5 727.3 529.1 736.2 529.7 728.4 530.3 739.4 530.9 729.3 531.6 738.3 532.2 760.9 532.8 731.7 533.4 729.8 534.0 723.4 534.6 734.5 535.2 733.7 535.9 734.2 536.5 730.7 537.1 726.4 537.7 742.5 538.3 730.2 538.9 747.7 539.5 742.6 540.2 757.6 540.8 754.3 541.4 752.3 542.0 737.0 542.6 736.9 543.2 742.5 543.8 727.6 544.5 743.3 545.1 750.0 545.7 734.9 546.3 732.1 546.9 725.4 547.5 727.4 548.1 742.0 548.8 738.5 549.4 722.4 550.0 730.2 550.6 731.2 551.2 738.4 551.8 724.3 552.4 733.7 553.1 737.0 553.7 741.1 554.3 729.9 554.9 723.7 555.5 739.4 556.1 749.2 556.7 728.0 557.4 743.9 558.0 734.8 558.6 736.0 559.2 735.8 559.8 759.6 560.4 722.2 561.0 737.2 561.6 716.0 562.3 699.1 562.9 717.5 563.5 743.1 564.1 739.6 564.7 720.6 565.3 739.7 565.9 752.4 566.6 732.3 567.2 739.6 567.8 738.1 568.4 716.6 569.0 720.9 569.6 741.6 570.2 736.9 570.9 753.1 571.5 739.9 572.1 743.3 572.7 755.5 573.3 752.8 573.9 731.8 574.5 724.7 575.2 740.8 575.8 747.9 576.4 723.1 577.0 725.9 577.6 724.6 578.2 738.1 578.8 722.4 579.5 727.7 580.1 733.5 580.7 727.1 581.3 728.9 581.9 747.0 582.5 720.0 583.1 734.8 583.8 737.5 584.4 739.9 585.0 742.5 585.6 725.0 586.2 732.1 586.8 736.7 587.4 723.3 588.0 724.0 588.7 750.6 589.3 747.8 589.9 728.0 590.5 761.1 591.1 722.1 591.7 727.4 592.3 748.4 593.0 737.2 593.6 749.8 594.2 729.4 594.8 737.1 595.4 730.1 596.0 744.0 596.6 739.7 597.3 726.7 597.9 726.2 598.5 737.3 599.1 728.2 599.7 744.6 600.3 728.2 600.9 687.5 601.6 675.5 602.2 696.2 602.8 734.2 603.4 752.1 604.0 738.6 604.6 733.4 605.2 756.0 605.9 742.4 606.5 733.0 607.1 729.3 607.7 741.3 608.3 749.5 608.9 742.7 609.5 743.0 610.2 735.6 610.8 726.1 611.4 738.5 612.0 749.3 612.6 729.1 613.2 721.2 613.8 730.9 614.5 728.7 615.1 727.4 615.7 738.8 616.3 737.0 616.9 731.9 617.5 743.7 618.1 733.9 618.8 736.8 619.4 738.9 620.0 747.3 620.6 737.9 621.2 742.1 621.8 728.6 622.4 756.9 623.0 730.9 623.7 739.3 624.3 735.8 624.9 727.1 625.5 728.4 626.1 736.4 626.7 748.3 627.3 740.9 628.0 750.2 628.6 736.0 629.2 738.8 629.8 743.6 630.4 754.3 631.0 753.5 631.6 732.5 632.3 747.0 632.9 755.4 633.5 760.6 634.1 746.1 634.7 753.3 635.3 753.5 635.9 741.3 636.6 745.1 637.2 731.7 637.8 755.4 638.4 757.2 639.0 722.6 639.6 735.6 640.2 719.8 640.9 732.4 641.5 747.0 642.1 734.1 642.7 725.6 643.3 752.5 643.9 735.9 644.5 738.8 645.2 734.5 645.8 749.1 646.4 744.2 647.0 737.2 647.6 726.8 648.2 723.4 648.8 742.8 649.5 751.9 650.1 729.1 650.7 750.8 651.3 751.6 651.9 731.9 652.5 731.7 653.1 734.4 653.7 755.3 654.4 721.1 655.0 720.1 655.6 733.9 656.2 751.6 656.8 736.9 657.4 730.8 658.0 729.8 658.7 729.5 659.3 730.6 659.9 740.1 660.5 742.8 661.1 734.3 661.7 733.5 662.3 732.5 663.0 755.6 663.6 750.4 664.2 753.2 664.8 743.5 665.4 741.4 666.0 746.2 666.6 746.9 667.3 735.4 667.9 738.6 668.5 738.2 669.1 751.2 669.7 734.6 670.3 748.1 670.9 725.1 671.6 729.8 672.2 722.6 672.8 749.8 673.4 757.1 674.0 745.6 674.6 725.5 675.2 726.1 675.9 732.9 676.5 737.8 677.1 740.4 677.7 746.4 678.3 728.4 678.9 730.4 679.5 722.8 680.2 744.1 680.8 732.1 681.4 726.2 682.0 743.9 682.6 725.4 683.2 718.8 683.8 730.7 684.4 737.9 685.1 745.4 685.7 742.1 686.3 742.6 686.9 748.8 687.5 728.4 688.1 723.0 688.7 735.1 689.4 730.4 690.0 748.8 690.6 736.6 691.2 743.6 691.8 750.6 692.4 743.3 693.0 736.2 693.7 751.2 694.3 752.0 694.9 744.4 695.5 747.0 696.1 741.5 696.7 760.5 697.3 724.0 698.0 731.2 698.6 727.2 699.2 749.9 699.8 729.6 700.4 728.3 701.0 729.5 701.6 737.8 702.3 723.3 702.9 734.5 703.5 733.6 704.1 724.3 704.7 733.9 705.3 734.3 705.9 730.5 706.6 748.0 707.2 730.3 707.8 735.4 708.4 725.9 709.0 735.5 709.6 728.9 710.2 733.8 710.9 751.6 711.5 759.4 712.1 726.0 712.7 743.4 713.3 743.7 713.9 743.0 714.5 745.3 715.1 739.4 715.8 730.4 716.4 744.5 717.0 728.5 717.6 727.7 718.2 759.2 718.8 750.3 719.4 748.9 720.1 742.2 720.7 738.5 721.3 752.9 721.9 754.1 722.5 732.0 723.1 741.7 723.7 734.9 724.4 729.6 725.0 728.0 725.6 750.7 726.2 756.9 726.8 734.0 727.4 742.7 728.0 735.3 728.7 735.9 729.3 740.3 729.9 737.3 730.5 733.9 731.1 725.6 731.7 761.1 732.3 745.6 733.0 740.7 733.6 747.6 734.2 747.0 734.8 745.0 735.4 739.4 736.0 733.3 736.6 740.1 737.3 747.4 737.9 727.3 738.5 717.3 739.1 735.6 739.7 758.4 740.3 732.8 740.9 743.2 741.6 745.5 742.2 742.2 742.8 731.0 743.4 722.5 744.0 729.7 744.6 744.8 745.2 756.7 745.8 733.8 746.5 740.7 747.1 726.1 747.7 727.6 748.3 737.2 748.9 733.9 749.5 720.6 750.1 732.0 750.8 725.9 751.4 742.1 752.0 718.8 752.6 731.6 753.2 722.7 753.8 746.0 754.4 729.2 755.1 746.1 755.7 737.4 756.3 754.9 756.9 742.8 757.5 755.1 758.1 748.6 758.7 742.2 759.4 756.9 760.0 738.6 760.6 758.1 761.2 745.7 761.8 739.5 762.4 722.8 763.0 748.9 763.7 737.6 764.3 760.6 764.9 757.6 765.5 752.2 766.1 738.9 766.7 754.9 767.3 760.8 768.0 741.6 768.6 738.7 769.2 742.5 769.8 741.6 770.4 727.8 771.0 737.1 771.6 753.0 772.2 749.0 772.9 742.8 773.5 741.3 774.1 746.1 774.7 728.6 775.3 738.2 775.9 733.5 776.5 730.2 777.2 748.1 777.8 743.2 778.4 747.4 779.0 756.1 779.6 731.4 780.2 754.5 780.8 754.1 781.5 741.7 782.1 738.8 782.7 731.8 783.3 751.5 783.9 736.0 784.5 733.4 785.1 738.2 785.8 742.8 786.4 744.0 787.0 743.1 787.6 754.9 788.2 746.2 788.8 736.3 789.4 731.9 790.1 749.2 790.7 739.0 791.3 735.9 791.9 742.2 792.5 746.0 793.1 723.7 793.7 743.5 794.4 755.6 795.0 752.2 795.6 736.0 796.2 738.7 796.8 749.3 797.4 731.7 798.0 727.6 798.7 748.0 799.3 755.3 799.9 744.1 800.5 725.9 801.1 757.4 801.7 727.0 802.3 753.7 803.0 729.8 803.6 724.9 804.2 721.6 804.8 735.4 805.4 748.3 806.0 730.5 806.6 751.0 807.2 761.0 807.9 728.3 808.5 740.0 809.1 741.0 809.7 759.6 810.3 741.1 810.9 741.2 811.5 720.8 812.2 734.9 812.8 760.0 813.4 729.3 814.0 729.3 814.6 733.8 815.2 754.5 815.8 731.4 816.5 745.9 817.1 756.9 817.7 746.0 818.3 733.3 818.9 737.2 819.5 740.1 820.1 733.5 820.8 740.9 821.4 721.6 822.0 756.6 822.6 753.1 823.2 749.3 823.8 750.7 824.4 732.0 825.1 730.6 825.7 733.4 826.3 717.7 826.9 728.0 827.5 740.6 828.1 744.9 828.7 734.5 829.4 742.6 830.0 725.8 830.6 726.2 831.2 742.7 831.8 742.6 832.4 725.6 833.0 742.6 833.6 721.0 834.3 741.5 834.9 737.6 835.5 731.8 836.1 736.7 836.7 750.2 837.3 739.0 837.9 732.1 838.6 737.0 839.2 728.5 839.8 750.8 840.4 738.5 841.0 745.9 841.6 724.5 842.2 725.2 842.9 727.4 843.5 736.3 844.1 733.5 844.7 745.1 845.3 756.3 845.9 735.3 846.5 732.8 847.2 730.3 847.8 751.7 848.4 755.0 849.0 733.2 849.6 737.1 850.2 735.1 850.8 750.1 851.5 728.8 852.1 753.8 852.7 750.2 853.3 753.7 853.9 736.8 854.5 728.6 855.1 750.1 855.8 727.0 856.4 744.3 857.0 724.3 857.6 752.1 858.2 744.1 858.8 727.1 859.4 735.3 860.1 741.6 860.7 760.2 861.3 752.6 861.9 748.8 862.5 753.2 863.1 727.7 863.7 727.5 864.4 742.4 865.0 755.9 865.6 720.3 866.2 746.0 866.8 732.5 867.4 733.0 868.0 728.7 868.6 741.3 869.3 739.0 869.9 758.0 870.5 754.6 871.1 742.8 871.7 740.3 872.3 756.5 872.9 749.3 873.6 739.6 874.2 737.8 874.8 718.8 875.4 727.5 876.0 754.2 876.6 760.0 877.2 745.1 877.9 724.8 878.5 752.8 879.1 745.0 879.7 726.9 880.3 731.4 880.9 728.4 881.5 755.3 882.2 744.3 882.8 735.2 883.4 726.8 884.0 743.8 884.6 740.4 885.2 731.2 885.8 746.1 886.5 726.3 887.1 746.3 887.7 727.8 888.3 724.8 888.9 723.4 889.5 725.3 890.1 742.0 890.8 735.5 891.4 734.3 892.0 745.0 892.6 746.4 893.2 727.5 893.8 724.2 894.4 746.0 895.1 742.6 895.7 751.0 896.3 746.0 896.9 739.2 897.5 678.1 898.1 662.0 898.7 678.4 899.3 731.4 900.0 741.1 900.6 742.9 901.2 753.5 901.8 726.5 902.4 750.9 903.0 745.3 903.6 755.3 904.3 745.2 904.9 737.8 905.5 752.4 906.1 738.4 906.7 757.9 907.3 756.1 907.9 729.1 908.6 743.5 909.2 745.1 909.8 734.4 910.4 751.6 911.0 738.6 911.6 725.8 912.2 739.9 912.9 750.6 913.5 741.0 914.1 718.0 914.7 753.3 915.3 746.4 915.9 728.1 916.5 743.6 917.2 728.8 917.8 755.4 918.4 731.3 919.0 739.5 919.6 759.5 920.2 742.8 920.8 752.2 921.5 736.0 922.1 745.6 922.7 728.6 923.3 731.9 923.9 727.3 924.5 733.0 925.1 732.9 925.8 738.3 926.4 736.5 927.0 730.9 927.6 731.6 928.2 741.0 928.8 726.4 929.4 752.8 930.0 734.4 930.7 729.0 931.3 744.7 931.9 722.8 932.5 750.3 933.1 744.5 933.7 730.3 934.3 759.0 935.0 729.9 935.6 723.8 936.2 731.8 936.8 727.7 937.4 738.5 938.0 725.3 938.6 743.1 939.3 746.2 939.9 734.3 940.5 745.0 941.1 730.3 941.7 732.5 942.3 736.5 942.9 757.3 943.6 737.5 944.2 742.3 944.8 731.7 945.4 748.0 946.0 743.6 946.6 745.7 947.2 749.9 947.9 754.4 948.5 732.9 949.1 740.0 949.7 748.0 950.3 733.7 950.9 731.2 951.5 727.3 952.2 753.6 952.8 747.7 953.4 758.1 954.0 741.1 954.6 738.7 955.2 744.6 955.8 729.0 956.5 727.8 957.1 732.5 957.7 739.1 958.3 734.2 958.9 749.3 959.5 732.2 960.1 739.0 960.7 740.5 961.4 739.6 962.0 732.6 962.6 740.9 963.2 732.8 963.8 734.1 964.4 739.7 965.0 719.8 965.7 743.7 966.3 736.5 966.9 730.1 967.5 741.7 968.1 730.0 968.7 738.4 969.3 749.1 970.0 714.9 970.6 721.6 971.2 747.5 971.8 729.3 972.4 749.9 973.0 737.7 973.6 755.2 974.3 715.2 974.9 719.0 975.5 742.4 976.1 741.7 976.7 743.6 977.3 754.8 977.9 734.5 978.6 744.2 979.2 731.0 979.8 741.2 980.4 760.3 981.0 744.2 981.6 728.2 982.2 740.9 982.9 728.8 983.5 754.3 984.1 733.7 984.7 742.4 985.3 752.3 985.9 735.3 986.5 720.6 987.1 745.2 987.8 738.2 988.4 725.7 989.0 733.4 989.6 746.0 990.2 737.6 990.8 732.4 991.4 734.1 992.1 732.7 992.7 726.2 993.3 735.3 993.9 723.3 994.5 725.8 995.1 760.9 995.7 741.4 996.4 734.2 997.0 720.7 997.6 728.3 998.2 727.8 998.8 751.9 999.4 758.0 1000.0 728.2 1000.7 741.6 1001.3 733.2 1001.9 735.2 1002.5 731.9 1003.1 756.7 1003.7 738.4 1004.3 736.2 1005.0 753.8 1005.6 726.1 1006.2 733.5 1006.8 753.1 1007.4 731.9 1008.0 735.4 1008.6 746.7 1009.3 753.3 1009.9 735.5 1010.5 748.6 1011.1 742.3 1011.7 730.9 1012.3 747.4 1012.9 736.0 1013.6 733.0 1014.2 746.9 1014.8 738.5 1015.4 733.8 1016.0 747.5 1016.6 738.4 1017.2 744.3 1017.9 758.2 1018.5 756.9 1019.1 750.3 1019.7 745.1 1020.3 724.8 1020.9 723.4 1021.5 737.2 1022.1 735.5 1022.8 735.1 1023.4 738.6 1024.0 743.4 1024.6 724.2 1025.2 730.4 1025.8 721.9 1026.4 749.6 1027.1 726.3 1027.7 714.5 1028.3 744.4 1028.9 742.6 1029.5 727.2 1030.1 750.5 1030.7 736.1 1031.4 735.7 1032.0 726.1 1032.6 716.6 1033.2 704.4 1033.8 717.0 1034.4 728.2 1035.0 748.1 1035.7 752.8 1036.3 743.5 1036.9 726.2 1037.5 738.0 1038.1 749.9 1038.7 743.9 1039.3 732.4 1040.0 731.1 1040.6 732.4 1041.2 730.5 1041.8 736.5 1042.4 727.6 1043.0 759.6 1043.6 746.5 1044.3 757.6 1044.9 730.6 1045.5 752.2 1046.1 730.9 1046.7 741.3 1047.3 736.9 1047.9 734.2 1048.5 727.4 1049.2 742.5 1049.8 744.4 1050.4 744.5 1051.0 749.4 1051.6 751.5 1052.2 753.0 1052.8 750.6 1053.5 724.8 1054.1 757.9 1054.7 737.2 1055.3 744.8 1055.9 730.4 1056.5 730.2 1057.1 739.6 1057.8 729.3 1058.4 738.0 1059.0 738.2 1059.6 737.6 1060.2 754.8 1060.8 726.9 1061.4 751.6 1062.1 728.9 1062.7 741.5 1063.3 750.3 1063.9 751.4 1064.5 734.2 1065.1 727.9 1065.7 731.7 1066.4 755.3 1067.0 761.5 1067.6 751.8 1068.2 740.9 1068.8 739.5 1069.4 747.0 1070.0 758.4 1070.7 761.0 1071.3 735.1 1071.9 748.3 1072.5 731.3 1073.1 722.5 1073.7 738.6 1074.3 740.0 1075.0 724.8 1075.6 741.8 1076.2 735.4 1076.8 750.4 1077.4 745.2 1078.0 735.7 1078.6 720.1 1079.2 756.2 1079.9 759.2 1080.5 748.6 1081.1 759.7 1081.7 742.6 1082.3 723.7 1082.9 734.0 1083.5 730.7 1084.2 728.2 1084.8 735.4 1085.4 755.9 1086.0 741.6 1086.6 736.5 1087.2 722.4 1087.8 753.2 1088.5 740.6 1089.1 737.6 1089.7 749.6 1090.3 744.7 1090.9 743.6 1091.5 749.6 1092.1 736.9 1092.8 742.7 1093.4 733.3 1094.0 733.9 1094.6 719.0" stroke="#00f" stroke-width="2" fill="none" stroke-linejoin="miter" stroke-miterlimit="10.43" shape-rendering="crispEdges"/>
<path d="M112.2 682.3L112.8 663.4 113.4 668.2 114.0 668.3 114.7 675.3 115.3 677.3 115.9 663.6 116.5 657.4 117.1 672.6 117.7 665.7 118.3 669.0 119.0 656.8 119.6 672.3 120.2 673.9 120.8 691.6 121.4 674.5 122.0 662.4 122.6 666.8 123.3 678.1 123.9 677.0 124.5 664.7 125.1 663.6 125.7 651.3 126.3 655.8 126.9 654.6 127.5 676.2 128.2 682.0 128.8 679.6 129.4 655.1 130.0 659.4 130.6 673.9 131.2 653.3 131.8 688.9 132.5 666.6 133.1 679.5 133.7 662.3 134.3 684.1 134.9 663.9 135.5 661.0 136.1 677.1 136.8 676.5 137.4 665.0 138.0 655.1 138.6 686.9 139.2 661.0 139.8 675.9 140.4 664.6 141.1 670.1 141.7 666.8 142.3 668.3 142.9 672.5 143.5 666.3 144.1 668.0 144.7 664.8 145.4 668.8 146.0 678.3 146.6 666.5 147.2 679.6 147.8 629.3 148.4 601.9 149.0 612.0 149.7 650.1 150.3 672.4 150.9 669.8 151.5 658.6 152.1 667.2 152.7 659.1 153.3 665.8 154.0 667.5 154.6 682.4 155.2 674.4 155.8 666.3 156.4 688.1 157.0 665.9 157.6 686.0 158.2 663.3 158.9 686.6 159.5 657.1 160.1 666.8 160.7 683.6 161.3 655.2 161.9 629.9 162.5 624.5 163.2 659.4 163.8 674.6 164.4 668.9 165.0 671.0 165.6 687.5 166.2 676.5 166.8 665.5 167.5 673.4 168.1 673.2 168.7 662.1 169.3 652.8 169.9 661.6 170.5 670.5 171.1 662.5 171.8 663.5 172.4 653.8 173.0 665.4 173.6 674.6 174.2 668.8 174.8 663.6 175.4 687.0 176.1 665.3 176.7 662.1 177.3 651.9 177.9 684.0 178.5 667.9 179.1 657.9 179.7 686.2 180.4 674.7 181.0 672.2 181.6 670.7 182.2 671.2 182.8 671.3 183.4 667.2 184.0 664.4 184.7 660.0 185.3 665.5 185.9 651.3 186.5 680.9 187.1 650.3 187.7 668.4 188.3 665.7 188.9 672.0 189.6 666.8 190.2 667.8 190.8 675.6 191.4 677.6 192.0 682.5 192.6 667.1 193.2 681.5 193.9 675.5 194.5 674.3 195.1 670.8 195.7 670.2 196.3 655.3 196.9 663.2 197.5 661.9 198.2 679.9 198.8 690.7 199.4 671.2 200.0 682.3 200.6 676.0 201.2 659.1 201.8 630.9 202.5 629.6 203.1 658.7 203.7 669.7 204.3 671.9 204.9 678.5 205.5 682.9 206.1 652.9 206.8 661.2 207.4 676.1 208.0 652.1 208.6 681.8 209.2 666.0 209.8 665.5 210.4 662.7 211.1 669.3 211.7 671.9 212.3 677.5 212.9 651.4 213.5 684.8 214.1 665.1 214.7 669.2 215.4 681.1 216.0 684.0 216.6 663.7 217.2 685.4 217.8 657.4 218.4 664.2 219.0 654.2 219.7 666.6 220.3 663.4 220.9 667.6 221.5 664.9 222.1 680.0 222.7 659.4 223.3 650.8 223.9 679.6 224.6 668.6 225.2 678.4 225.8 673.2 226.4 660.4 227.0 682.0 227.6 666.9 228.2 664.6 228.9 638.5 229.5 613.0 230.1 627.7 230.7 655.9 231.3 665.4 231.9 664.0 232.5 669.9 233.2 665.2 233.8 661.9 234.4 659.5 235.0 663.8 235.6 675.0 236.2 665.1 236.8 674.3 237.5 661.6 238.1 651.6 238.7 661.1 239.3 657.8 239.9 668.8 240.5 677.8 241.1 677.6 241.8 660.2 242.4 668.6 243.0 661.5 243.6 666.3 244.2 682.8 244.8 653.9 245.4 683.6 246.1 662.7 246.7 664.9 247.3 674.3 247.9 679.8 248.5 664.7 249.1 677.6 249.7 660.5 250.4 674.8 251.0 669.4 251.6 680.3 252.2 682.0 252.8 676.5 253.4 687.7 254.0 656.0 254.6 675.1 255.3 676.3 255.9 654.2 256.5 645.4 257.1 604.5 257.7 554.3 258.3 550.6 258.9 590.1 259.6 637.5 260.2 647.5 260.8 652.5 261.4 660.9 262.0 660.3 262.6 664.3 263.2 656.8 263.9 668.9 264.5 618.7 265.1 609.5 265.7 635.4 266.3 660.3 266.9 673.0 267.5 675.3 268.2 663.3 268.8 677.9 269.4 657.8 270.0 684.4 270.6 672.2 271.2 667.8 271.8 649.7 272.5 628.6 273.1 624.7 273.7 647.9 274.3 681.2 274.9 673.2 275.5 663.2 276.1 658.6 276.8 677.1 277.4 659.0 278.0 644.8 278.6 642.1 279.2 667.7 279.8 656.5 280.4 668.5 281.1 677.2 281.7 653.9 282.3 648.6 282.9 624.3 283.5 628.3 284.1 663.4 284.7 663.6 285.3 665.4 286.0 657.5 286.6 681.8 287.2 669.8 287.8 660.9 288.4 661.6 289.0 656.6 289.6 648.2 290.3 656.4 290.9 603.9 291.5 586.3 292.1 603.5 292.7 663.3 293.3 654.5 293.9 649.2 294.6 648.7 295.2 653.2 295.8 667.2 296.4 666.7 297.0 660.4 297.6 665.1 298.2 653.3 298.9 629.9 299.5 587.6 300.1 548.7 300.7 551.5 301.3 598.8 301.9 629.1 302.5 636.1 303.2 640.9 303.8 636.0 304.4 642.4 305.0 629.3 305.6 628.4 306.2 610.3 306.8 595.1 307.5 573.1 308.1 529.0 308.7 470.0 309.3 470.0 309.9 470.1 310.5 549.9 311.1 582.6 311.8 604.0 312.4 615.2 313.0 621.2 313.6 631.6 314.2 636.2 314.8 639.0 315.4 632.3 316.0 636.1 316.7 657.8 317.3 654.2 317.9 551.4 318.5 531.9 319.1 552.0 319.7 640.0 320.3 644.8 321.0 622.7 321.6 652.1 322.2 651.9 322.8 655.7 323.4 661.3 324.0 642.9 324.6 648.8 325.3 645.7 325.9 650.1 326.5 618.8 327.1 570.1 327.7 542.1 328.3 553.2 328.9 622.0 329.6 631.5 330.2 642.8 330.8 649.1 331.4 655.7 332.0 659.5 332.6 651.4 333.2 650.2 333.9 635.9 334.5 643.1 335.1 622.2 335.7 556.6 336.3 544.7 336.9 573.7 337.5 633.1 338.2 636.7 338.8 642.9 339.4 646.9 340.0 643.6 340.6 652.3 341.2 657.2 341.8 669.4 342.4 658.6 343.1 649.4 343.7 647.0 344.3 599.2 344.9 570.1 345.5 582.1 346.1 640.7 346.7 657.1 347.4 654.3 348.0 671.0 348.6 661.7 349.2 664.0 349.8 667.4 350.4 664.7 351.0 673.1 351.7 680.2 352.3 670.8 352.9 633.6 353.5 618.8 354.1 643.3 354.7 666.4 355.3 668.4 356.0 663.5 356.6 662.2 357.2 667.1 357.8 670.4 358.4 649.1 359.0 647.8 359.6 655.9 360.3 657.1 360.9 617.4 361.5 615.2 362.1 642.3 362.7 651.9 363.3 665.1 363.9 648.3 364.6 682.7 365.2 666.1 365.8 669.9 366.4 676.8 367.0 673.0 367.6 661.4 368.2 676.1 368.9 668.4 369.5 690.3 370.1 689.5 370.7 666.5 371.3 680.9 371.9 650.0 372.5 635.2 373.1 647.3 373.8 688.6 374.4 686.0 375.0 663.6 375.6 674.4 376.2 654.4 376.8 662.3 377.4 667.5 378.1 680.4 378.7 681.2 379.3 691.6 379.9 676.0 380.5 664.1 381.1 678.9 381.7 680.2 382.4 675.2 383.0 668.0 383.6 675.7 384.2 675.9 384.8 664.7 385.4 688.3 386.0 664.3 386.7 662.0 387.3 683.1 387.9 686.7 388.5 684.4 389.1 667.6 389.7 625.1 390.3 615.1 391.0 637.2 391.6 659.4 392.2 686.1 392.8 672.1 393.4 664.4 394.0 688.6 394.6 666.5 395.3 682.3 395.9 662.0 396.5 689.9 397.1 694.7 397.7 669.7 398.3 689.2 398.9 689.6 399.6 677.8 400.2 662.4 400.8 641.4 401.4 637.5 402.0 667.2 402.6 682.3 403.2 675.8 403.8 694.1 404.5 678.1 405.1 677.8 405.7 693.9 406.3 670.6 406.9 658.7 407.5 678.0 408.1 657.7 408.8 685.1 409.4 675.6 410.0 673.6 410.6 668.7 411.2 663.3 411.8 674.4 412.4 694.8 413.1 676.2 413.7 674.8 414.3 689.8 414.9 676.1 415.5 674.8 416.1 660.7 416.7 685.1 417.4 688.0 418.0 658.9 418.6 657.9 419.2 662.2 419.8 657.9 420.4 668.4 421.0 666.1 421.7 668.7 422.3 658.9 422.9 664.7 423.5 679.5 424.1 671.9 424.7 676.1 425.3 663.9 426.0 670.7 426.6 665.5 427.2 688.0 427.8 672.9 428.4 694.7 429.0 680.7 429.6 671.4 430.3 668.1 430.9 680.5 431.5 664.6 432.1 666.3 432.7 658.0 433.3 668.7 433.9 687.7 434.6 664.6 435.2 670.2 435.8 668.7 436.4 677.8 437.0 674.2 437.6 687.0 438.2 680.6 438.8 688.9 439.5 670.6 440.1 689.1 440.7 668.5 441.3 666.0 441.9 682.9 442.5 693.0 443.1 671.8 443.8 672.6 444.4 680.0 445.0 676.7 445.6 673.7 446.2 675.0 446.8 670.3 447.4 680.2 448.1 666.4 448.7 667.2 449.3 686.4 449.9 686.6 450.5 661.1 451.1 676.3 451.7 674.7 452.4 682.7 453.0 680.1 453.6 697.9 454.2 692.4 454.8 680.7 455.4 678.4 456.0 667.7 456.7 634.4 457.3 636.3 457.9 663.5 458.5 676.8 459.1 658.7 459.7 681.5 460.3 665.7 461.0 674.6 461.6 664.9 462.2 691.4 462.8 674.1 463.4 690.6 464.0 668.6 464.6 673.7 465.2 669.6 465.9 664.6 466.5 691.2 467.1 683.5 467.7 676.0 468.3 668.2 468.9 636.3 469.5 602.2 470.2 604.4 470.8 651.4 471.4 657.2 472.0 678.4 472.6 676.0 473.2 655.2 473.8 668.9 474.5 694.8 475.1 665.3 475.7 674.9 476.3 669.4 476.9 678.3 477.5 668.3 478.1 689.9 478.8 661.3 479.4 675.8 480.0 688.3 480.6 667.0 481.2 658.8 481.8 674.8 482.4 655.7 483.1 687.7 483.7 674.5 484.3 664.5 484.9 669.6 485.5 661.1 486.1 662.9 486.7 671.2 487.4 668.4 488.0 679.3 488.6 680.1 489.2 691.1 489.8 684.4 490.4 678.8 491.0 685.1 491.7 669.9 492.3 661.4 492.9 681.1 493.5 661.4 494.1 676.0 494.7 683.6 495.3 682.8 495.9 656.6 496.6 671.9 497.2 689.9 497.8 690.0 498.4 665.3 499.0 663.8 499.6 675.1 500.2 674.3 500.9 672.0 501.5 687.2 502.1 687.6 502.7 686.4 503.3 694.2 503.9 695.1 504.5 677.1 505.2 680.2 505.8 673.9 506.4 678.3 507.0 677.9 507.6 672.3 508.2 671.3 508.8 681.5 509.5 676.3 510.1 686.5 510.7 692.0 511.3 672.3 511.9 694.3 512.5 692.4 513.1 694.7 513.8 672.2 514.4 691.9 515.0 672.1 515.6 662.8 516.2 692.8 516.8 664.0 517.4 670.2 518.1 674.6 518.7 664.8 519.3 686.4 519.9 643.8 520.5 642.6 521.1 651.3 521.7 656.7 522.4 661.5 523.0 663.6 523.6 695.8 524.2 664.7 524.8 675.6 525.4 662.4 526.0 670.6 526.6 669.8 527.3 677.9 527.9 670.4 528.5 670.1 529.1 674.0 529.7 665.7 530.3 669.7 530.9 698.0 531.6 667.3 532.2 672.7 532.8 675.9 533.4 666.9 534.0 659.2 534.6 683.6 535.2 670.3 535.9 687.9 536.5 676.7 537.1 681.5 537.7 674.7 538.3 673.7 538.9 678.9 539.5 665.8 540.2 671.2 540.8 684.1 541.4 698.3 542.0 656.5 542.6 671.9 543.2 691.8 543.8 678.9 544.5 690.4 545.1 692.7 545.7 661.0 546.3 661.0 546.9 669.4 547.5 669.1 548.1 674.7 548.8 698.8 549.4 663.5 550.0 675.2 550.6 671.9 551.2 667.6 551.8 667.3 552.4 686.3 553.1 688.7 553.7 666.0 554.3 674.6 554.9 664.7 555.5 677.1 556.1 684.4 556.7 686.2 557.4 679.2 558.0 676.4 558.6 688.5 559.2 676.4 559.8 672.4 560.4 669.2 561.0 692.5 561.6 672.8 562.3 689.4 562.9 690.6 563.5 675.7 564.1 678.3 564.7 667.9 565.3 670.7 565.9 690.2 566.6 691.7 567.2 675.1 567.8 677.5 568.4 683.5 569.0 665.3 569.6 697.9 570.2 674.3 570.9 696.2 571.5 675.5 572.1 677.5 572.7 663.7 573.3 665.9 573.9 683.4 574.5 694.5 575.2 690.5 575.8 664.2 576.4 670.2 577.0 643.6 577.6 612.3 578.2 616.1 578.8 660.6 579.5 677.7 580.1 674.7 580.7 670.8 581.3 692.4 581.9 665.6 582.5 666.9 583.1 660.2 583.8 674.3 584.4 681.5 585.0 675.2 585.6 671.7 586.2 682.9 586.8 669.1 587.4 674.7 588.0 660.1 588.7 666.8 589.3 664.2 589.9 697.8 590.5 669.7 591.1 673.3 591.7 673.7 592.3 679.7 593.0 689.0 593.6 670.8 594.2 675.0 594.8 681.5 595.4 665.5 596.0 671.1 596.6 690.2 597.3 678.2 597.9 660.2 598.5 669.0 599.1 682.6 599.7 671.5 600.3 667.2 600.9 668.7 601.6 670.7 602.2 672.8 602.8 647.6 603.4 576.9 604.0 566.0 604.6 594.1 605.2 665.2 605.9 670.1 606.5 671.4 607.1 678.0 607.7 661.9 608.3 668.4 608.9 683.3 609.5 675.0 610.2 691.9 610.8 682.2 611.4 698.3 612.0 670.8 612.6 696.3 613.2 677.7 613.8 694.0 614.5 689.9 615.1 677.8 615.7 673.9 616.3 688.4 616.9 671.0 617.5 685.5 618.1 684.1 618.8 680.3 619.4 670.7 620.0 693.7 620.6 689.9 621.2 670.7 621.8 660.1 622.4 634.3 623.0 641.4 623.7 664.5 624.3 684.1 624.9 673.4 625.5 697.8 626.1 688.2 626.7 670.6 627.3 671.3 628.0 685.9 628.6 678.3 629.2 634.8 629.8 607.9 630.4 618.0 631.0 652.1 631.6 682.5 632.3 663.1 632.9 684.5 633.5 688.3 634.1 678.8 634.7 667.0 635.3 656.3 635.9 693.9 636.6 667.9 637.2 679.6 637.8 668.2 638.4 672.1 639.0 652.8 639.6 689.2 640.2 678.4 640.9 674.2 641.5 684.5 642.1 682.2 642.7 672.8 643.3 670.0 643.9 678.8 644.5 671.3 645.2 665.7 645.8 669.9 646.4 684.6 647.0 669.8 647.6 694.2 648.2 681.7 648.8 673.0 649.5 681.3 650.1 695.4 650.7 671.3 651.3 671.5 651.9 668.1 652.5 667.4 653.1 698.2 653.7 669.5 654.4 665.6 655.0 682.3 655.6 679.1 656.2 675.8 656.8 662.6 657.4 687.0 658.0 687.1 658.7 687.2 659.3 684.1 659.9 664.3 660.5 678.7 661.1 695.2 661.7 662.3 662.3 671.7 663.0 679.9 663.6 678.9 664.2 681.7 664.8 673.4 665.4 669.0 666.0 666.1 666.6 666.7 667.3 683.7 667.9 664.3 668.5 685.6 669.1 677.7 669.7 665.5 670.3 665.4 670.9 693.2 671.6 666.3 672.2 683.2 672.8 677.9 673.4 670.5 674.0 676.6 674.6 671.0 675.2 671.8 675.9 666.0 676.5 686.8 677.1 668.5 677.7 673.5 678.3 663.6 678.9 667.0 679.5 673.6 680.2 661.3 680.8 695.2 681.4 634.4 682.0 620.8 682.6 635.1 683.2 693.3 683.8 687.4 684.4 667.9 685.1 671.8 685.7 693.9 686.3 695.4 686.9 678.5 687.5 659.8 688.1 667.6 688.7 698.6 689.4 672.5 690.0 684.2 690.6 682.2 691.2 673.8 691.8 691.6 692.4 677.3 693.0 677.8 693.7 698.7 694.3 665.4 694.9 681.2 695.5 687.6 696.1 688.3 696.7 675.7 697.3 683.1 698.0 682.2 698.6 666.2 699.2 671.1 699.8 667.8 700.4 691.5 701.0 682.2 701.6 676.7 702.3 664.7 702.9 677.8 703.5 673.9 704.1 682.8 704.7 681.1 705.3 676.6 705.9 687.0 706.6 676.5 707.2 664.1 707.8 667.0 708.4 681.1 709.0 682.9 709.6 686.2 710.2 686.8 710.9 681.0 711.5 661.3 712.1 667.8 712.7 680.0 713.3 670.6 713.9 677.3 714.5 699.2 715.1 679.0 715.8 683.7 716.4 697.1 717.0 682.6 717.6 674.2 718.2 664.3 718.8 673.5 719.4 690.3 720.1 667.8 720.7 694.8 721.3 685.5 721.9 666.2 722.5 661.2 723.1 690.3 723.7 679.3 724.4 692.6 725.0 685.0 725.6 661.7 726.2 672.6 726.8 675.2 727.4 656.3 728.0 675.4 728.7 663.7 729.3 669.5 729.9 676.8 730.5 666.5 731.1 678.3 731.7 679.2 732.3 672.6 733.0 671.6 733.6 684.0 734.2 670.4 734.8 679.6 735.4 667.7 736.0 674.2 736.6 637.3 737.3 604.1 737.9 610.6 738.5 656.0 739.1 681.9 739.7 675.2 740.3 676.5 740.9 684.3 741.6 680.3 742.2 693.6 742.8 678.2 743.4 677.3 744.0 678.0 744.6 664.6 745.2 673.4 745.8 694.0 746.5 691.7 747.1 671.8 747.7 667.7 748.3 688.5 748.9 670.4 749.5 681.3 750.1 661.2 750.8 655.3 751.4 630.8 752.0 635.6 752.6 653.2 753.2 676.1 753.8 665.5 754.4 674.8 755.1 679.8 755.7 666.1 756.3 665.9 756.9 683.0 757.5 683.7 758.1 674.9 758.7 663.5 759.4 693.1 760.0 679.1 760.6 681.4 761.2 685.3 761.8 668.1 762.4 664.9 763.0 669.2 763.7 690.7 764.3 673.9 764.9 669.0 765.5 671.1 766.1 676.6 766.7 676.4 767.3 687.7 768.0 675.5 768.6 697.2 769.2 695.6 769.8 673.5 770.4 696.1 771.0 673.7 771.6 666.1 772.2 671.2 772.9 669.3 773.5 668.1 774.1 664.1 774.7 672.8 775.3 687.4 775.9 692.2 776.5 672.4 777.2 674.6 777.8 662.0 778.4 677.6 779.0 693.6 779.6 681.7 780.2 696.4 780.8 682.3 781.5 685.5 782.1 674.7 782.7 666.2 783.3 693.5 783.9 696.3 784.5 691.0 785.1 681.6 785.8 684.0 786.4 686.6 787.0 699.1 787.6 664.8 788.2 673.0 788.8 668.9 789.4 665.1 790.1 629.1 790.7 622.5 791.3 652.7 791.9 676.0 792.5 664.8 793.1 687.7 793.7 682.8 794.4 668.0 795.0 696.5 795.6 680.6 796.2 686.2 796.8 698.9 797.4 678.2 798.0 672.7 798.7 671.7 799.3 679.9 799.9 692.8 800.5 670.2 801.1 680.3 801.7 676.6 802.3 694.8 803.0 672.6 803.6 669.1 804.2 696.9 804.8 679.5 805.4 689.3 806.0 682.1 806.6 688.5 807.2 673.7 807.9 700.0 808.5 672.5 809.1 697.7 809.7 663.9 810.3 677.7 810.9 678.9 811.5 679.4 812.2 685.3 812.8 682.0 813.4 674.9 814.0 667.9 814.6 668.2 815.2 680.7 815.8 665.4 816.5 669.6 817.1 676.3 817.7 653.1 818.3 620.6 818.9 624.1 819.5 649.8 820.1 658.0 820.8 668.0 821.4 679.5 822.0 671.7 822.6 666.8 823.2 678.6 823.8 677.0 824.4 670.0 825.1 681.2 825.7 696.9 826.3 658.1 826.9 665.3 827.5 671.7 828.1 668.2 828.7 663.6 829.4 665.9 830.0 665.7 830.6 666.7 831.2 679.5 831.8 672.2 832.4 672.8 833.0 673.8 833.6 678.2 834.3 688.7 834.9 682.8 835.5 660.0 836.1 661.0 836.7 663.9 837.3 656.2 837.9 678.6 838.6 672.3 839.2 662.7 839.8 663.6 840.4 683.5 841.0 683.6 841.6 686.4 842.2 676.4 842.9 691.8 843.5 687.7 844.1 669.5 844.7 674.7 845.3 658.2 845.9 626.2 846.5 556.5 847.2 544.9 847.8 574.2 848.4 646.6 849.0 662.0 849.6 660.4 850.2 675.0 850.8 678.1 851.5 690.7 852.1 688.1 852.7 683.7 853.3 661.7 853.9 618.3 854.5 607.7 855.1 633.2 855.8 668.9 856.4 665.9 857.0 681.7 857.6 690.2 858.2 663.4 858.8 669.6 859.4 676.1 860.1 660.3 860.7 676.1 861.3 694.5 861.9 669.5 862.5 679.0 863.1 683.9 863.7 680.5 864.4 669.5 865.0 694.7 865.6 658.5 866.2 668.7 866.8 667.5 867.4 682.2 868.0 660.6 868.6 666.6 869.3 671.3 869.9 679.5 870.5 665.8 871.1 660.5 871.7 669.7 872.3 668.0 872.9 666.2 873.6 692.2 874.2 684.8 874.8 677.9 875.4 678.7 876.0 669.4 876.6 673.5 877.2 660.9 877.9 655.2 878.5 663.9 879.1 661.7 879.7 612.0 880.3 584.0 880.9 595.0 881.5 655.4 882.2 646.6 882.8 669.6 883.4 659.1 884.0 664.3 884.6 667.7 885.2 660.6 885.8 647.4 886.5 656.5 887.1 650.5 887.7 622.9 888.3 553.4 888.9 542.0 889.5 570.4 890.1 632.4 890.8 662.4 891.4 663.1 892.0 667.3 892.6 664.2 893.2 639.1 893.8 645.1 894.4 663.0 895.1 648.6 895.7 652.6 896.3 633.5 896.9 618.3 897.5 585.7 898.1 512.1 898.7 500.6 899.3 529.7 900.0 601.0 900.6 630.6 901.2 647.0 901.8 654.0 902.4 647.1 903.0 647.7 903.6 645.5 904.3 642.1 904.9 661.6 905.5 649.2 906.1 626.3 906.7 572.8 907.3 544.5 907.9 555.8 908.6 618.9 909.2 651.0 909.8 654.0 910.4 644.5 911.0 653.6 911.6 666.0 912.2 657.7 912.9 641.9 913.5 646.7 914.1 646.4 914.7 650.3 915.3 631.3 915.9 583.3 916.5 546.7 917.2 550.8 917.8 598.8 918.4 628.7 919.0 650.3 919.6 663.6 920.2 662.2 920.8 669.9 921.5 653.9 922.1 665.7 922.7 677.3 923.3 642.5 923.9 664.4 924.5 561.5 925.1 542.2 925.8 562.4 926.4 666.4 927.0 655.9 927.6 664.1 928.2 647.1 928.8 651.0 929.4 647.0 930.0 674.3 930.7 649.5 931.3 661.1 931.9 657.3 932.5 651.1 933.1 656.5 933.7 591.9 934.3 564.3 935.0 576.6 935.6 645.0 936.2 670.0 936.8 658.4 937.4 656.0 938.0 656.9 938.6 670.2 939.3 663.6 939.9 660.4 940.5 682.7 941.1 677.5 941.7 657.0 942.3 642.2 942.9 603.7 943.6 600.7 944.2 636.7 944.8 661.5 945.4 672.6 946.0 676.4 946.6 659.0 947.2 673.1 947.9 651.6 948.5 657.5 949.1 666.5 949.7 627.8 950.3 619.4 950.9 642.7 951.5 679.0 952.2 646.8 952.8 650.8 953.4 669.9 954.0 687.8 954.6 671.6 955.2 678.8 955.8 695.0 956.5 679.6 957.1 667.5 957.7 661.8 958.3 665.4 958.9 660.0 959.5 673.8 960.1 678.8 960.7 648.2 961.4 629.6 962.0 639.1 962.6 667.7 963.2 656.3 963.8 662.3 964.4 682.7 965.0 662.0 965.7 669.9 966.3 654.6 966.9 672.4 967.5 676.6 968.1 670.5 968.7 674.0 969.3 661.3 970.0 671.0 970.6 674.0 971.2 675.7 971.8 654.3 972.4 657.5 973.0 664.2 973.6 669.7 974.3 689.9 974.9 677.4 975.5 650.0 976.1 671.6 976.7 655.6 977.3 663.9 977.9 676.2 978.6 636.4 979.2 615.9 979.8 633.6 980.4 683.3 981.0 674.9 981.6 658.5 982.2 664.8 982.9 665.0 983.5 686.6 984.1 665.1 984.7 664.1 985.3 681.5 985.9 677.4 986.5 666.3 987.1 664.4 987.8 690.0 988.4 668.6 989.0 673.0 989.6 676.5 990.2 695.4 990.8 666.3 991.4 671.3 992.1 666.2 992.7 675.9 993.3 657.5 993.9 681.3 994.5 686.4 995.1 679.7 995.7 656.8 996.4 666.4 997.0 666.1 997.6 672.5 998.2 671.5 998.8 689.4 999.4 668.5 1000.0 656.8 1000.7 664.9 1001.3 681.0 1001.9 665.1 1002.5 689.2 1003.1 670.6 1003.7 651.4 1004.3 688.2 1005.0 653.2 1005.6 657.0 1006.2 642.9 1006.8 634.6 1007.4 651.4 1008.0 673.9 1008.6 655.7 1009.3 664.5 1009.9 677.2 1010.5 681.3 1011.1 656.1 1011.7 655.6 1012.3 681.0 1012.9 686.9 1013.6 686.0 1014.2 664.1 1014.8 659.2 1015.4 684.3 1016.0 671.3 1016.6 678.9 1017.2 664.1 1017.9 677.6 1018.5 658.9 1019.1 671.0 1019.7 667.1 1020.3 662.4 1020.9 693.1 1021.5 672.1 1022.1 687.0 1022.8 680.1 1023.4 674.3 1024.0 678.3 1024.6 667.9 1025.2 684.6 1025.8 679.3 1026.4 665.6 1027.1 663.2 1027.7 679.4 1028.3 655.1 1028.9 672.8 1029.5 680.4 1030.1 684.4 1030.7 666.6 1031.4 677.3 1032.0 686.6 1032.6 676.9 1033.2 660.1 1033.8 657.9 1034.4 673.4 1035.0 666.4 1035.7 688.3 1036.3 674.5 1036.9 660.4 1037.5 693.7 1038.1 669.0 1038.7 673.9 1039.3 684.3 1040.0 656.0 1040.6 681.6 1041.2 671.8 1041.8 673.0 1042.4 685.2 1043.0 679.9 1043.6 662.0 1044.3 683.9 1044.9 673.2 1045.5 656.3 1046.1 652.8 1046.7 634.6 1047.3 637.4 1047.9 668.8 1048.5 663.9 1049.2 665.9 1049.8 665.7 1050.4 676.4 1051.0 672.9 1051.6 681.7 1052.2 657.0 1052.8 675.8 1053.5 676.0 1054.1 679.6 1054.7 675.3 1055.3 661.4 1055.9 662.3 1056.5 669.2 1057.1 662.4 1057.8 663.7 1058.4 633.9 1059.0 604.5 1059.6 609.5 1060.2 655.9 1060.8 670.8 1061.4 676.8 1062.1 684.5 1062.7 671.5 1063.3 669.5 1063.9 668.5 1064.5 675.4 1065.1 665.5 1065.7 664.3 1066.4 660.5 1067.0 671.3 1067.6 668.2 1068.2 677.6 1068.8 667.5 1069.4 672.9 1070.0 671.0 1070.7 669.9 1071.3 653.6 1071.9 685.4 1072.5 655.3 1073.1 682.1 1073.7 669.9 1074.3 674.9 1075.0 670.6 1075.6 655.8 1076.2 686.1 1076.8 668.6 1077.4 659.1 1078.0 666.1 1078.6 669.0 1079.2 665.4 1079.9 672.4 1080.5 672.1 1081.1 684.5 1081.7 666.4 1082.3 667.5 1082.9 670.1 1083.5 670.4 1084.2 684.8 1084.8 672.2 1085.4 685.1 1086.0 667.3 1086.6 668.9 1087.2 671.7 1087.8 673.7 1088.5 690.2 1089.1 664.2 1089.7 663.8 1090.3 655.3 1090.9 662.9 1091.5 678.4 1092.1 694.1 1092.8 670.5 1093.4 685.8 1094.0 676.4 1094.6 682.2" stroke="#f00" stroke-width="2" fill="none" stroke-linejoin="miter" stroke-miterlimit="10.43" shape-rendering="crispEdges"/>
<rect x="696" y="484" width="379" height="36" fill="#000"/>
<rect x="690" y="478" width="382" height="39" fill="#000"/>
<rect x="691" y="479" width="380" height="37" fill="#fff"/>
<path d="M704 487H771" stroke="#f00" stroke-width="2" fill="none"/>
<path d="M704 507H771" stroke="#00f" stroke-width="2" fill="none"/>
<text transform="translate(785.00 491.90) scale(1 1.04)" font-size="15.0" text-anchor="start" fill="#000" font-weight="bold">H1:PEM-EY_ADC_0_12_OUT(REF3)</text>
<text transform="translate(785.00 511.90) scale(1 1.04)" font-size="15.0" text-anchor="start" fill="#000" font-weight="bold">H1:PEM-EY_ADC_0_12_OUT(REF4)</text>
<text transform="translate(104.20 537.83) scale(1 1.06)" font-size="16.2" text-anchor="end" fill="#000" font-weight="bold">10</text>
<text transform="translate(104.20 604.80) scale(1 1.06)" font-size="16.2" text-anchor="end" fill="#000" font-weight="bold">1</text>
<text transform="translate(103.8 674.67) scale(1 1.06)" font-size="16.2" text-anchor="end" font-weight="bold">10<tspan dy="-7.6" font-size="10.0">-1</tspan></text>
<text transform="translate(103.8 741.64) scale(1 1.06)" font-size="16.2" text-anchor="end" font-weight="bold">10<tspan dy="-7.6" font-size="10.0">-2</tspan></text>
<text transform="translate(112.20 785.00) scale(1 1.06)" font-size="16.2" text-anchor="middle" fill="#000" font-weight="bold">1100</text>
<text transform="translate(210.44 785.00) scale(1 1.06)" font-size="16.2" text-anchor="middle" fill="#000" font-weight="bold">1120</text>
<text transform="translate(308.68 785.00) scale(1 1.06)" font-size="16.2" text-anchor="middle" fill="#000" font-weight="bold">1140</text>
<text transform="translate(406.92 785.00) scale(1 1.06)" font-size="16.2" text-anchor="middle" fill="#000" font-weight="bold">1160</text>
<text transform="translate(505.16 785.00) scale(1 1.06)" font-size="16.2" text-anchor="middle" fill="#000" font-weight="bold">1180</text>
<text transform="translate(603.40 785.00) scale(1 1.06)" font-size="16.2" text-anchor="middle" fill="#000" font-weight="bold">1200</text>
<text transform="translate(701.64 785.00) scale(1 1.06)" font-size="16.2" text-anchor="middle" fill="#000" font-weight="bold">1220</text>
<text transform="translate(799.88 785.00) scale(1 1.06)" font-size="16.2" text-anchor="middle" fill="#000" font-weight="bold">1240</text>
<text transform="translate(898.12 785.00) scale(1 1.06)" font-size="16.2" text-anchor="middle" fill="#000" font-weight="bold">1260</text>
<text transform="translate(996.36 785.00) scale(1 1.06)" font-size="16.2" text-anchor="middle" fill="#000" font-weight="bold">1280</text>
<text transform="translate(1094.60 785.00) scale(1 1.06)" font-size="16.2" text-anchor="middle" fill="#000" font-weight="bold">1300</text>
<text transform="translate(602.80 814.20) scale(1 1.04)" font-size="16.35" text-anchor="middle" fill="#000" font-weight="bold">Frequency (Hz)</text>
<text transform="translate(39.20 618.00) rotate(-90)" font-size="18.3" text-anchor="middle" fill="#000" font-weight="bold">Magnitude</text>
<text transform="translate(19.60 840.80) scale(1 1.04)" font-size="16.0" text-anchor="start" fill="#f00" font-weight="bold">*T0=06/06/2018 23:38:48</text>
<text transform="translate(574.20 840.80) scale(1 1.04)" font-size="16.1" text-anchor="middle" fill="#000" font-weight="bold">Avg=1</text>
<text transform="translate(1129.20 840.80) scale(1 1.04)" font-size="16.3" text-anchor="end" fill="#000" font-weight="bold">BW=0.187493</text>
</svg>
</body></html>
